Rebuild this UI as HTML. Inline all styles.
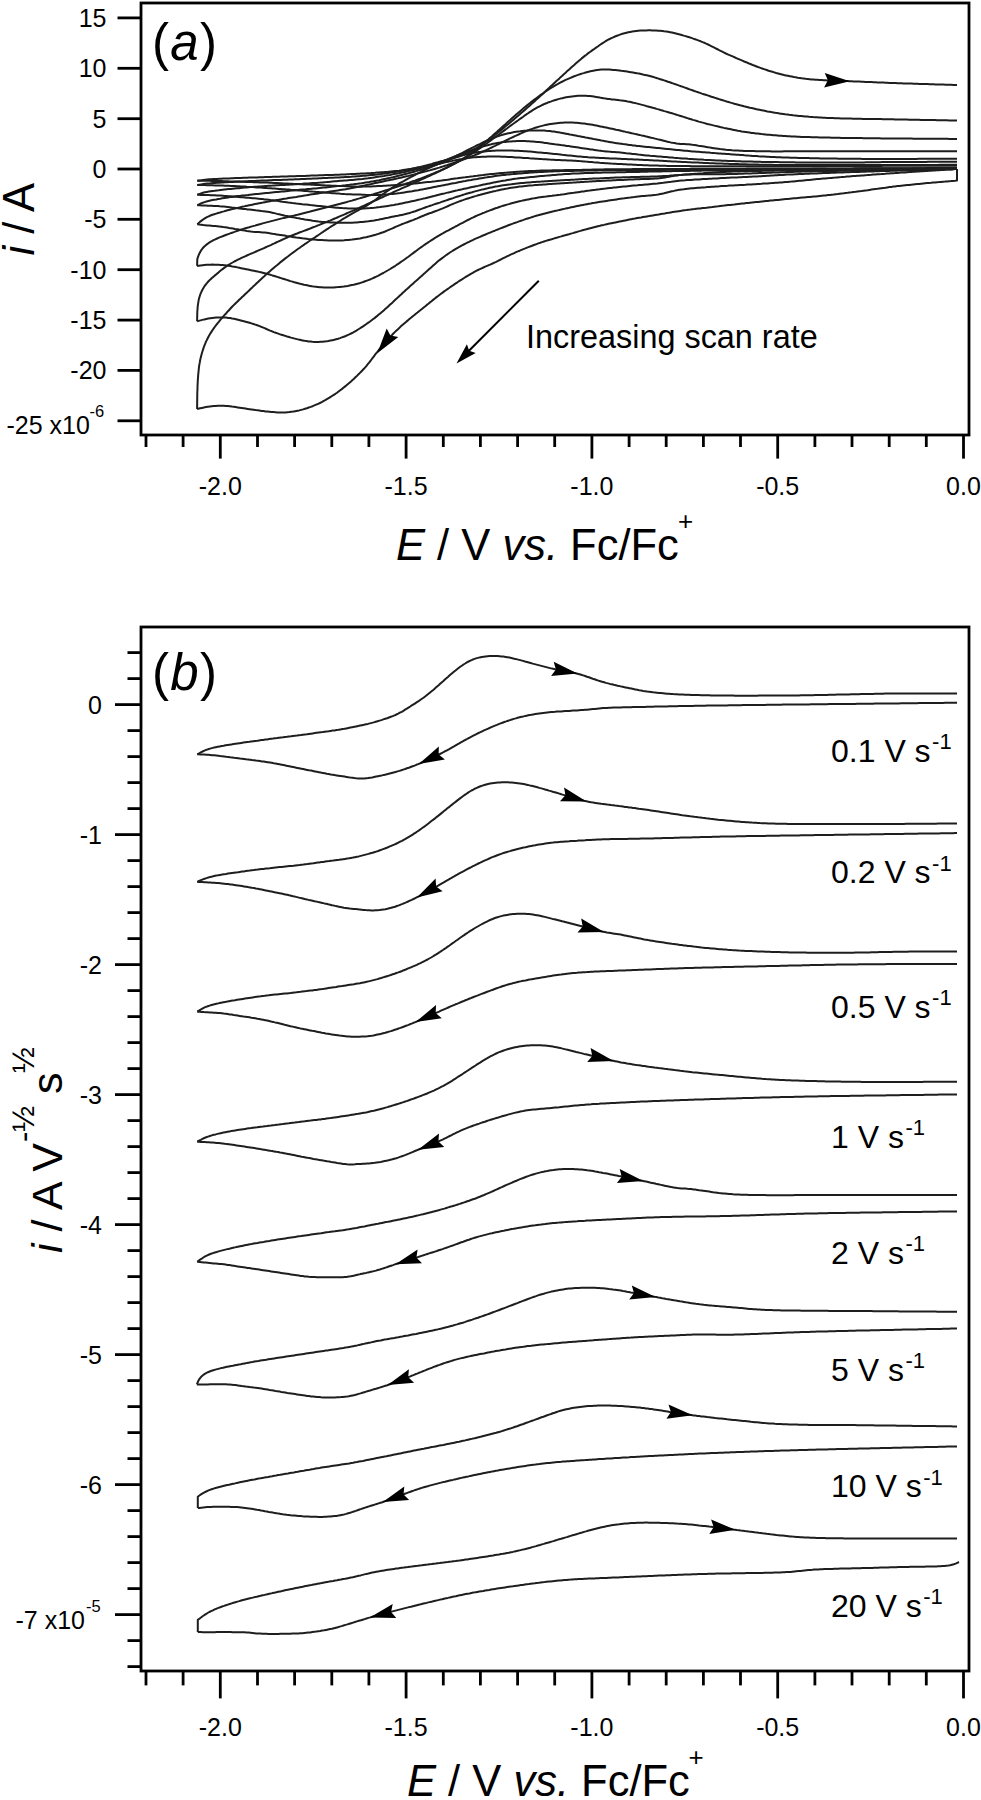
<!DOCTYPE html>
<html><head><meta charset="utf-8"><style>
html,body{margin:0;padding:0;background:#fff;}
svg{display:block;}
text{font-family:"Liberation Sans",sans-serif;fill:#000;}
</style></head><body>
<svg width="981" height="1800" viewBox="0 0 981 1800">
<rect x="141" y="3" width="828" height="432" fill="none" stroke="#000" stroke-width="2.8"/>
<line x1="117.5" y1="17.9" x2="141" y2="17.9" stroke="#000" stroke-width="2.8"/>
<text x="106.5" y="26.9" text-anchor="end" font-size="25">15</text>
<line x1="117.5" y1="68.3" x2="141" y2="68.3" stroke="#000" stroke-width="2.8"/>
<text x="106.5" y="77.3" text-anchor="end" font-size="25">10</text>
<line x1="117.5" y1="118.7" x2="141" y2="118.7" stroke="#000" stroke-width="2.8"/>
<text x="106.5" y="127.7" text-anchor="end" font-size="25">5</text>
<line x1="117.5" y1="169.0" x2="141" y2="169.0" stroke="#000" stroke-width="2.8"/>
<text x="106.5" y="178.0" text-anchor="end" font-size="25">0</text>
<line x1="117.5" y1="219.3" x2="141" y2="219.3" stroke="#000" stroke-width="2.8"/>
<text x="106.5" y="228.3" text-anchor="end" font-size="25">-5</text>
<line x1="117.5" y1="269.7" x2="141" y2="269.7" stroke="#000" stroke-width="2.8"/>
<text x="106.5" y="278.7" text-anchor="end" font-size="25">-10</text>
<line x1="117.5" y1="320.1" x2="141" y2="320.1" stroke="#000" stroke-width="2.8"/>
<text x="106.5" y="329.1" text-anchor="end" font-size="25">-15</text>
<line x1="117.5" y1="370.4" x2="141" y2="370.4" stroke="#000" stroke-width="2.8"/>
<text x="106.5" y="379.4" text-anchor="end" font-size="25">-20</text>
<line x1="117.5" y1="420.8" x2="141" y2="420.8" stroke="#000" stroke-width="2.8"/>
<text x="6.5" y="434" font-size="25">-25 x10</text>
<text x="89.5" y="417" font-size="16.5">-6</text>
<line x1="146.0" y1="435" x2="146.0" y2="447" stroke="#000" stroke-width="2.8"/>
<line x1="183.1" y1="435" x2="183.1" y2="447" stroke="#000" stroke-width="2.8"/>
<line x1="220.3" y1="435" x2="220.3" y2="458.6" stroke="#000" stroke-width="2.8"/>
<line x1="257.5" y1="435" x2="257.5" y2="447" stroke="#000" stroke-width="2.8"/>
<line x1="294.6" y1="435" x2="294.6" y2="447" stroke="#000" stroke-width="2.8"/>
<line x1="331.8" y1="435" x2="331.8" y2="447" stroke="#000" stroke-width="2.8"/>
<line x1="368.9" y1="435" x2="368.9" y2="447" stroke="#000" stroke-width="2.8"/>
<line x1="406.1" y1="435" x2="406.1" y2="458.6" stroke="#000" stroke-width="2.8"/>
<line x1="443.3" y1="435" x2="443.3" y2="447" stroke="#000" stroke-width="2.8"/>
<line x1="480.4" y1="435" x2="480.4" y2="447" stroke="#000" stroke-width="2.8"/>
<line x1="517.6" y1="435" x2="517.6" y2="447" stroke="#000" stroke-width="2.8"/>
<line x1="554.7" y1="435" x2="554.7" y2="447" stroke="#000" stroke-width="2.8"/>
<line x1="591.9" y1="435" x2="591.9" y2="458.6" stroke="#000" stroke-width="2.8"/>
<line x1="629.1" y1="435" x2="629.1" y2="447" stroke="#000" stroke-width="2.8"/>
<line x1="666.2" y1="435" x2="666.2" y2="447" stroke="#000" stroke-width="2.8"/>
<line x1="703.4" y1="435" x2="703.4" y2="447" stroke="#000" stroke-width="2.8"/>
<line x1="740.5" y1="435" x2="740.5" y2="447" stroke="#000" stroke-width="2.8"/>
<line x1="777.7" y1="435" x2="777.7" y2="458.6" stroke="#000" stroke-width="2.8"/>
<line x1="814.9" y1="435" x2="814.9" y2="447" stroke="#000" stroke-width="2.8"/>
<line x1="852.0" y1="435" x2="852.0" y2="447" stroke="#000" stroke-width="2.8"/>
<line x1="889.2" y1="435" x2="889.2" y2="447" stroke="#000" stroke-width="2.8"/>
<line x1="926.3" y1="435" x2="926.3" y2="447" stroke="#000" stroke-width="2.8"/>
<line x1="963.5" y1="435" x2="963.5" y2="458.6" stroke="#000" stroke-width="2.8"/>
<text x="220.3" y="495" text-anchor="middle" font-size="25">-2.0</text>
<text x="406.1" y="495" text-anchor="middle" font-size="25">-1.5</text>
<text x="591.9" y="495" text-anchor="middle" font-size="25">-1.0</text>
<text x="777.7" y="495" text-anchor="middle" font-size="25">-0.5</text>
<text x="963.5" y="495" text-anchor="middle" font-size="25">0.0</text>
<text x="396" y="559.6" font-size="43.5"><tspan font-style="italic">E</tspan> / V <tspan font-style="italic">vs.</tspan> Fc/Fc</text>
<text x="678" y="530" font-size="26">+</text>
<text transform="translate(34,255.5) rotate(-90)" font-size="43.5"><tspan font-style="italic">i</tspan> / A</text>
<text x="152" y="60" font-size="51" letter-spacing="1.3">(<tspan font-style="italic">a</tspan>)</text>
<text x="526" y="347.6" font-size="32.4">Increasing scan rate</text>
<rect x="141" y="627" width="828" height="1044" fill="none" stroke="#000" stroke-width="2.8"/>
<line x1="115" y1="704.6" x2="141" y2="704.6" stroke="#000" stroke-width="2.8"/>
<text x="102" y="713.6" text-anchor="end" font-size="25">0</text>
<line x1="115" y1="834.6" x2="141" y2="834.6" stroke="#000" stroke-width="2.8"/>
<text x="102" y="843.6" text-anchor="end" font-size="25">-1</text>
<line x1="115" y1="964.6" x2="141" y2="964.6" stroke="#000" stroke-width="2.8"/>
<text x="102" y="973.6" text-anchor="end" font-size="25">-2</text>
<line x1="115" y1="1094.6" x2="141" y2="1094.6" stroke="#000" stroke-width="2.8"/>
<text x="102" y="1103.6" text-anchor="end" font-size="25">-3</text>
<line x1="115" y1="1224.6" x2="141" y2="1224.6" stroke="#000" stroke-width="2.8"/>
<text x="102" y="1233.6" text-anchor="end" font-size="25">-4</text>
<line x1="115" y1="1354.6" x2="141" y2="1354.6" stroke="#000" stroke-width="2.8"/>
<text x="102" y="1363.6" text-anchor="end" font-size="25">-5</text>
<line x1="115" y1="1484.6" x2="141" y2="1484.6" stroke="#000" stroke-width="2.8"/>
<text x="102" y="1493.6" text-anchor="end" font-size="25">-6</text>
<line x1="115" y1="1614.6" x2="141" y2="1614.6" stroke="#000" stroke-width="2.8"/>
<line x1="127.5" y1="1666.6" x2="141" y2="1666.6" stroke="#000" stroke-width="2.8"/>
<line x1="127.5" y1="1640.6" x2="141" y2="1640.6" stroke="#000" stroke-width="2.8"/>
<line x1="127.5" y1="1588.6" x2="141" y2="1588.6" stroke="#000" stroke-width="2.8"/>
<line x1="127.5" y1="1562.6" x2="141" y2="1562.6" stroke="#000" stroke-width="2.8"/>
<line x1="127.5" y1="1536.6" x2="141" y2="1536.6" stroke="#000" stroke-width="2.8"/>
<line x1="127.5" y1="1510.6" x2="141" y2="1510.6" stroke="#000" stroke-width="2.8"/>
<line x1="127.5" y1="1458.6" x2="141" y2="1458.6" stroke="#000" stroke-width="2.8"/>
<line x1="127.5" y1="1432.6" x2="141" y2="1432.6" stroke="#000" stroke-width="2.8"/>
<line x1="127.5" y1="1406.6" x2="141" y2="1406.6" stroke="#000" stroke-width="2.8"/>
<line x1="127.5" y1="1380.6" x2="141" y2="1380.6" stroke="#000" stroke-width="2.8"/>
<line x1="127.5" y1="1328.6" x2="141" y2="1328.6" stroke="#000" stroke-width="2.8"/>
<line x1="127.5" y1="1302.6" x2="141" y2="1302.6" stroke="#000" stroke-width="2.8"/>
<line x1="127.5" y1="1276.6" x2="141" y2="1276.6" stroke="#000" stroke-width="2.8"/>
<line x1="127.5" y1="1250.6" x2="141" y2="1250.6" stroke="#000" stroke-width="2.8"/>
<line x1="127.5" y1="1198.6" x2="141" y2="1198.6" stroke="#000" stroke-width="2.8"/>
<line x1="127.5" y1="1172.6" x2="141" y2="1172.6" stroke="#000" stroke-width="2.8"/>
<line x1="127.5" y1="1146.6" x2="141" y2="1146.6" stroke="#000" stroke-width="2.8"/>
<line x1="127.5" y1="1120.6" x2="141" y2="1120.6" stroke="#000" stroke-width="2.8"/>
<line x1="127.5" y1="1068.6" x2="141" y2="1068.6" stroke="#000" stroke-width="2.8"/>
<line x1="127.5" y1="1042.6" x2="141" y2="1042.6" stroke="#000" stroke-width="2.8"/>
<line x1="127.5" y1="1016.6" x2="141" y2="1016.6" stroke="#000" stroke-width="2.8"/>
<line x1="127.5" y1="990.6" x2="141" y2="990.6" stroke="#000" stroke-width="2.8"/>
<line x1="127.5" y1="938.6" x2="141" y2="938.6" stroke="#000" stroke-width="2.8"/>
<line x1="127.5" y1="912.6" x2="141" y2="912.6" stroke="#000" stroke-width="2.8"/>
<line x1="127.5" y1="886.6" x2="141" y2="886.6" stroke="#000" stroke-width="2.8"/>
<line x1="127.5" y1="860.6" x2="141" y2="860.6" stroke="#000" stroke-width="2.8"/>
<line x1="127.5" y1="808.6" x2="141" y2="808.6" stroke="#000" stroke-width="2.8"/>
<line x1="127.5" y1="782.6" x2="141" y2="782.6" stroke="#000" stroke-width="2.8"/>
<line x1="127.5" y1="756.6" x2="141" y2="756.6" stroke="#000" stroke-width="2.8"/>
<line x1="127.5" y1="730.6" x2="141" y2="730.6" stroke="#000" stroke-width="2.8"/>
<line x1="127.5" y1="678.6" x2="141" y2="678.6" stroke="#000" stroke-width="2.8"/>
<line x1="127.5" y1="652.6" x2="141" y2="652.6" stroke="#000" stroke-width="2.8"/>
<text x="15.5" y="1628.5" font-size="25">-7 x10</text>
<text x="86" y="1612" font-size="16.5">-5</text>
<line x1="146.0" y1="1671" x2="146.0" y2="1685.4" stroke="#000" stroke-width="2.8"/>
<line x1="183.1" y1="1671" x2="183.1" y2="1685.4" stroke="#000" stroke-width="2.8"/>
<line x1="220.3" y1="1671" x2="220.3" y2="1698.4" stroke="#000" stroke-width="2.8"/>
<line x1="257.5" y1="1671" x2="257.5" y2="1685.4" stroke="#000" stroke-width="2.8"/>
<line x1="294.6" y1="1671" x2="294.6" y2="1685.4" stroke="#000" stroke-width="2.8"/>
<line x1="331.8" y1="1671" x2="331.8" y2="1685.4" stroke="#000" stroke-width="2.8"/>
<line x1="368.9" y1="1671" x2="368.9" y2="1685.4" stroke="#000" stroke-width="2.8"/>
<line x1="406.1" y1="1671" x2="406.1" y2="1698.4" stroke="#000" stroke-width="2.8"/>
<line x1="443.3" y1="1671" x2="443.3" y2="1685.4" stroke="#000" stroke-width="2.8"/>
<line x1="480.4" y1="1671" x2="480.4" y2="1685.4" stroke="#000" stroke-width="2.8"/>
<line x1="517.6" y1="1671" x2="517.6" y2="1685.4" stroke="#000" stroke-width="2.8"/>
<line x1="554.7" y1="1671" x2="554.7" y2="1685.4" stroke="#000" stroke-width="2.8"/>
<line x1="591.9" y1="1671" x2="591.9" y2="1698.4" stroke="#000" stroke-width="2.8"/>
<line x1="629.1" y1="1671" x2="629.1" y2="1685.4" stroke="#000" stroke-width="2.8"/>
<line x1="666.2" y1="1671" x2="666.2" y2="1685.4" stroke="#000" stroke-width="2.8"/>
<line x1="703.4" y1="1671" x2="703.4" y2="1685.4" stroke="#000" stroke-width="2.8"/>
<line x1="740.5" y1="1671" x2="740.5" y2="1685.4" stroke="#000" stroke-width="2.8"/>
<line x1="777.7" y1="1671" x2="777.7" y2="1698.4" stroke="#000" stroke-width="2.8"/>
<line x1="814.9" y1="1671" x2="814.9" y2="1685.4" stroke="#000" stroke-width="2.8"/>
<line x1="852.0" y1="1671" x2="852.0" y2="1685.4" stroke="#000" stroke-width="2.8"/>
<line x1="889.2" y1="1671" x2="889.2" y2="1685.4" stroke="#000" stroke-width="2.8"/>
<line x1="926.3" y1="1671" x2="926.3" y2="1685.4" stroke="#000" stroke-width="2.8"/>
<line x1="963.5" y1="1671" x2="963.5" y2="1698.4" stroke="#000" stroke-width="2.8"/>
<text x="220.3" y="1735.5" text-anchor="middle" font-size="25">-2.0</text>
<text x="406.1" y="1735.5" text-anchor="middle" font-size="25">-1.5</text>
<text x="591.9" y="1735.5" text-anchor="middle" font-size="25">-1.0</text>
<text x="777.7" y="1735.5" text-anchor="middle" font-size="25">-0.5</text>
<text x="963.5" y="1735.5" text-anchor="middle" font-size="25">0.0</text>
<text x="407" y="1796" font-size="43.5"><tspan font-style="italic">E</tspan> / V <tspan font-style="italic">vs.</tspan> Fc/Fc</text>
<text x="688.5" y="1766" font-size="26">+</text>
<text transform="translate(62,1253) rotate(-90)" font-size="43"><tspan font-style="italic">i</tspan> / A V<tspan font-size="31" dx="1" dy="-28.2">-&#189;</tspan><tspan dy="28.2"> s</tspan><tspan font-size="31" dx="-0.5" dy="-28.2">&#189;</tspan></text>
<text x="152" y="690" font-size="51" letter-spacing="1.3">(<tspan font-style="italic">b</tspan>)</text>
<path d="M197.3,754.3 199.1,753.4 200.8,752.4 202.6,751.5 204.4,750.7 206.2,749.9 208.1,749.3 210.0,748.6 211.9,748.1 213.8,747.6 215.8,747.2 217.7,746.8 219.7,746.4 221.7,746.0 223.6,745.7 225.6,745.3 227.6,745.0 229.5,744.7 231.5,744.4 233.5,744.1 235.5,743.8 237.5,743.5 239.4,743.2 241.4,742.9 243.4,742.6 245.4,742.3 247.3,742.0 249.3,741.8 251.3,741.5 253.3,741.2 255.3,740.9 257.3,740.7 259.2,740.4 261.2,740.1 263.2,739.9 265.2,739.6 267.2,739.4 269.2,739.1 271.1,738.8 273.1,738.6 275.1,738.3 277.1,738.1 279.1,737.8 281.1,737.5 283.0,737.3 285.0,737.0 287.0,736.8 289.0,736.5 291.0,736.3 293.0,736.0 294.9,735.8 296.9,735.6 298.9,735.3 300.9,735.1 302.9,734.8 304.9,734.5 306.9,734.3 308.8,734.0 310.8,733.7 312.8,733.4 314.8,733.1 316.7,732.8 318.7,732.5 320.7,732.2 322.7,732.0 324.7,731.7 326.6,731.4 328.6,731.2 330.6,730.9 332.6,730.6 334.6,730.4 336.6,730.1 338.5,729.8 340.5,729.4 342.5,729.1 344.5,728.8 346.4,728.4 348.4,728.0 350.3,727.6 352.3,727.2 354.3,726.8 356.2,726.4 358.2,726.0 360.1,725.6 362.1,725.2 364.0,724.8 366.0,724.3 367.9,723.9 369.9,723.4 371.8,722.9 373.7,722.4 375.7,721.8 377.6,721.2 379.5,720.6 381.4,720.1 383.3,719.4 385.2,718.8 387.1,718.2 389.0,717.5 390.9,716.8 392.7,716.1 394.6,715.3 396.4,714.5 398.2,713.7 399.9,712.7 401.7,711.8 403.4,710.8 405.1,709.7 406.8,708.7 408.5,707.6 410.2,706.5 411.8,705.4 413.5,704.4 415.2,703.3 416.9,702.2 418.6,701.1 420.2,700.0 421.9,698.8 423.5,697.7 425.1,696.5 426.7,695.2 428.2,694.0 429.8,692.7 431.3,691.5 432.9,690.2 434.4,688.9 435.9,687.6 437.4,686.3 438.9,685.0 440.4,683.6 441.9,682.3 443.4,681.0 444.9,679.6 446.4,678.3 447.9,677.0 449.4,675.6 450.9,674.3 452.4,673.0 453.9,671.7 455.5,670.5 457.0,669.2 458.6,668.0 460.2,666.8 461.8,665.7 463.5,664.5 465.2,663.5 466.9,662.4 468.6,661.5 470.4,660.6 472.2,659.8 474.0,659.1 475.9,658.4 477.8,657.9 479.7,657.4 481.7,657.0 483.7,656.7 485.6,656.4 487.6,656.2 489.6,656.1 491.6,656.0 493.6,656.0 495.6,656.0 497.6,656.1 499.6,656.2 501.5,656.4 503.5,656.6 505.5,656.9 507.5,657.2 509.4,657.6 511.4,658.0 513.3,658.5 515.3,658.9 517.2,659.4 519.2,659.9 521.1,660.4 523.0,660.9 525.0,661.5 526.9,662.0 528.8,662.5 530.7,663.0 532.7,663.6 534.6,664.1 536.5,664.6 538.5,665.1 540.4,665.6 542.3,666.1 544.3,666.6 546.2,667.1 548.1,667.6 550.1,668.1 552.0,668.6 554.0,669.0 555.9,669.4 557.9,669.8 559.9,670.2 561.8,670.5 563.8,670.9 565.8,671.2 567.7,671.6 569.7,671.9 571.7,672.3 573.6,672.8 575.6,673.2 577.5,673.7 579.4,674.2 581.3,674.8 583.2,675.4 585.1,676.0 587.0,676.7 588.9,677.3 590.8,678.0 592.7,678.7 594.6,679.3 596.5,680.0 598.4,680.6 600.3,681.2 602.2,681.8 604.1,682.3 606.0,682.9 608.0,683.4 609.9,683.9 611.9,684.3 613.8,684.8 615.7,685.2 617.7,685.7 619.6,686.1 621.6,686.6 623.6,687.0 625.5,687.4 627.5,687.8 629.4,688.2 631.4,688.6 633.3,689.0 635.3,689.4 637.3,689.8 639.2,690.2 641.2,690.5 643.2,690.9 645.2,691.2 647.1,691.5 649.1,691.7 651.1,692.0 653.1,692.3 655.1,692.5 657.0,692.7 659.0,692.9 661.0,693.1 663.0,693.3 665.0,693.5 667.0,693.7 669.0,693.8 671.0,693.9 673.0,694.1 675.0,694.2 677.0,694.3 679.0,694.4 681.0,694.5 683.0,694.6 685.0,694.7 687.0,694.7 689.0,694.8 691.0,694.9 693.0,694.9 695.0,695.0 697.0,695.1 699.0,695.1 701.0,695.2 703.0,695.2 705.0,695.2 707.0,695.3 709.0,695.3 711.0,695.4 713.0,695.4 715.0,695.4 717.0,695.5 719.0,695.5 721.0,695.5 723.0,695.5 725.0,695.6 727.0,695.6 729.0,695.6 731.0,695.6 733.0,695.6 735.0,695.7 737.0,695.7 739.0,695.7 741.0,695.7 743.0,695.7 745.0,695.7 747.0,695.7 749.0,695.7 751.0,695.7 753.0,695.7 755.0,695.7 757.0,695.7 759.0,695.6 761.0,695.6 763.0,695.6 765.0,695.6 767.0,695.6 769.0,695.6 771.0,695.6 773.0,695.6 775.0,695.6 777.0,695.6 779.0,695.5 781.0,695.5 783.0,695.5 785.0,695.5 787.0,695.5 789.0,695.5 791.0,695.4 793.0,695.4 795.0,695.4 797.0,695.4 799.0,695.4 801.0,695.3 803.0,695.3 805.0,695.3 807.0,695.2 809.0,695.2 811.0,695.2 813.0,695.2 815.0,695.1 817.0,695.1 819.0,695.0 821.0,695.0 823.0,695.0 825.0,694.9 827.0,694.9 829.0,694.8 831.0,694.8 833.0,694.7 835.0,694.7 837.0,694.6 839.0,694.6 841.0,694.6 843.0,694.5 845.0,694.5 847.0,694.4 849.0,694.4 851.0,694.3 853.0,694.3 855.0,694.2 857.0,694.2 859.0,694.2 861.0,694.1 863.0,694.1 865.0,694.0 867.0,694.0 869.0,693.9 871.0,693.9 873.0,693.9 875.0,693.8 877.0,693.8 879.0,693.7 881.0,693.7 883.0,693.7 885.0,693.6 887.0,693.6 889.0,693.6 891.0,693.5 893.0,693.5 895.0,693.5 897.0,693.5 899.0,693.5 901.0,693.5 903.0,693.5 905.0,693.4 907.0,693.4 909.0,693.4 911.0,693.4 913.0,693.4 915.0,693.4 917.0,693.4 919.0,693.4 921.0,693.4 923.0,693.4 925.0,693.4 927.0,693.4 929.0,693.4 931.0,693.4 933.0,693.5 935.0,693.5 937.0,693.5 939.0,693.5 941.0,693.5 943.0,693.5 945.0,693.5 947.0,693.5 949.0,693.5 951.0,693.5 953.0,693.5 955.0,693.5 957.0,693.5" fill="none" stroke="#1e1e1e" stroke-width="2.0" stroke-linejoin="round"/>
<path d="M957.0,702.7 955.0,702.7 953.0,702.7 951.0,702.8 949.0,702.8 947.0,702.8 945.0,702.8 943.0,702.9 941.0,702.9 939.0,702.9 937.0,702.9 935.0,703.0 933.0,703.0 931.0,703.0 929.0,703.0 927.0,703.0 925.0,703.1 923.0,703.1 921.0,703.1 919.0,703.1 917.0,703.2 915.0,703.2 913.0,703.2 911.0,703.2 909.0,703.3 907.0,703.3 905.0,703.3 903.0,703.3 901.0,703.3 899.0,703.4 897.0,703.4 895.0,703.4 893.0,703.4 891.0,703.5 889.0,703.5 887.0,703.5 885.0,703.5 883.0,703.6 881.0,703.6 879.0,703.6 877.0,703.6 875.0,703.6 873.0,703.7 871.0,703.7 869.0,703.7 867.0,703.7 865.0,703.8 863.0,703.8 861.0,703.8 859.0,703.8 857.0,703.8 855.0,703.9 853.0,703.9 851.0,703.9 849.0,703.9 847.0,704.0 845.0,704.0 843.0,704.0 841.0,704.0 839.0,704.0 837.0,704.1 835.0,704.1 833.0,704.1 831.0,704.1 829.0,704.1 827.0,704.2 825.0,704.2 823.0,704.2 821.0,704.2 819.0,704.3 817.0,704.3 815.0,704.3 813.0,704.3 811.0,704.3 809.0,704.4 807.0,704.4 805.0,704.4 803.0,704.4 801.0,704.4 799.0,704.5 797.0,704.5 795.0,704.5 793.0,704.5 791.0,704.5 789.0,704.6 787.0,704.6 785.0,704.6 783.0,704.6 781.0,704.7 779.0,704.7 777.0,704.7 775.0,704.7 773.0,704.8 771.0,704.8 769.0,704.8 767.0,704.8 765.0,704.9 763.0,704.9 761.0,704.9 759.0,704.9 757.0,705.0 755.0,705.0 753.0,705.0 751.0,705.0 749.0,705.1 747.0,705.1 745.0,705.1 743.0,705.1 741.0,705.2 739.0,705.2 737.0,705.2 735.0,705.2 733.0,705.3 731.0,705.3 729.0,705.3 727.0,705.4 725.0,705.4 723.0,705.4 721.0,705.4 719.0,705.5 717.0,705.5 715.0,705.5 713.0,705.6 711.0,705.6 709.0,705.6 707.0,705.6 705.0,705.7 703.0,705.7 701.0,705.7 699.0,705.8 697.0,705.8 695.0,705.8 693.0,705.9 691.0,705.9 689.0,705.9 687.0,706.0 685.0,706.0 683.0,706.0 681.0,706.1 679.0,706.1 677.0,706.2 675.0,706.2 673.0,706.2 671.0,706.3 669.0,706.3 667.0,706.4 665.0,706.4 663.0,706.4 661.0,706.5 659.0,706.5 657.0,706.6 655.0,706.6 653.0,706.7 651.0,706.7 649.0,706.8 647.0,706.8 645.0,706.9 643.0,706.9 641.0,707.0 639.0,707.0 637.0,707.0 635.0,707.1 633.0,707.1 631.0,707.2 629.0,707.2 627.0,707.2 625.0,707.3 623.0,707.3 621.0,707.4 619.0,707.4 617.0,707.5 615.0,707.5 613.0,707.6 611.0,707.7 609.0,707.8 607.0,707.9 605.0,708.0 603.0,708.1 601.0,708.3 599.0,708.5 597.0,708.7 595.0,708.9 593.0,709.1 591.0,709.3 589.1,709.5 587.1,709.7 585.1,709.8 583.1,710.0 581.1,710.1 579.1,710.2 577.1,710.4 575.1,710.5 573.1,710.6 571.1,710.7 569.1,710.9 567.1,711.0 565.1,711.1 563.1,711.2 561.1,711.4 559.1,711.5 557.1,711.6 555.1,711.8 553.1,711.9 551.1,712.1 549.2,712.3 547.2,712.5 545.2,712.7 543.2,712.9 541.2,713.2 539.2,713.5 537.3,713.8 535.3,714.1 533.3,714.4 531.3,714.8 529.4,715.1 527.4,715.5 525.5,715.9 523.5,716.4 521.6,716.8 519.6,717.3 517.7,717.8 515.8,718.4 513.8,718.9 511.9,719.5 510.0,720.1 508.1,720.7 506.2,721.4 504.3,722.0 502.5,722.7 500.6,723.4 498.7,724.1 496.9,724.9 495.0,725.6 493.2,726.4 491.3,727.2 489.5,728.0 487.7,728.8 485.8,729.6 484.0,730.4 482.2,731.3 480.4,732.2 478.6,733.0 476.8,733.9 475.0,734.8 473.3,735.7 471.5,736.7 469.7,737.6 467.9,738.5 466.2,739.5 464.4,740.4 462.7,741.4 460.9,742.3 459.2,743.3 457.4,744.3 455.7,745.3 454.0,746.3 452.2,747.3 450.5,748.3 448.8,749.3 447.0,750.3 445.3,751.2 443.5,752.2 441.7,753.1 439.9,754.0 438.2,754.9 436.4,755.8 434.6,756.7 432.8,757.6 431.0,758.4 429.2,759.3 427.3,760.1 425.5,760.9 423.7,761.7 421.9,762.5 420.0,763.3 418.2,764.1 416.3,764.8 414.5,765.6 412.6,766.3 410.7,767.0 408.8,767.7 407.0,768.3 405.1,769.0 403.2,769.6 401.3,770.3 399.4,770.9 397.5,771.4 395.5,772.0 393.6,772.5 391.7,773.0 389.7,773.5 387.8,774.0 385.8,774.5 383.9,774.9 381.9,775.4 380.0,775.8 378.0,776.2 376.1,776.6 374.1,777.0 372.2,777.4 370.2,777.7 368.2,778.0 366.2,778.2 364.3,778.4 362.3,778.5 360.3,778.5 358.3,778.4 356.3,778.3 354.3,778.1 352.4,777.8 350.4,777.6 348.4,777.3 346.5,776.9 344.5,776.6 342.5,776.3 340.5,776.0 338.6,775.7 336.6,775.4 334.6,775.1 332.6,774.7 330.7,774.4 328.7,774.0 326.7,773.7 324.8,773.3 322.8,772.9 320.8,772.6 318.9,772.2 316.9,771.8 314.9,771.4 313.0,771.0 311.0,770.6 309.0,770.3 307.1,769.9 305.1,769.5 303.2,769.1 301.2,768.7 299.2,768.3 297.3,767.9 295.3,767.5 293.4,767.1 291.4,766.7 289.4,766.3 287.5,765.9 285.5,765.5 283.6,765.1 281.6,764.7 279.6,764.3 277.7,763.9 275.7,763.5 273.7,763.2 271.8,762.8 269.8,762.5 267.8,762.2 265.9,761.9 263.9,761.6 261.9,761.4 259.9,761.1 257.9,760.8 255.9,760.6 254.0,760.3 252.0,760.1 250.0,759.8 248.0,759.5 246.0,759.3 244.0,759.0 242.1,758.7 240.1,758.5 238.1,758.2 236.1,757.9 234.1,757.7 232.1,757.4 230.2,757.2 228.2,756.9 226.2,756.7 224.2,756.4 222.2,756.2 220.2,756.0 218.2,755.7 216.3,755.5 214.3,755.3 212.3,755.2 210.3,755.0 208.3,754.8 206.3,754.7 204.3,754.6 202.3,754.5 200.3,754.4 198.3,754.3 197.3,754.3" fill="none" stroke="#1e1e1e" stroke-width="2.0" stroke-linejoin="round"/>
<path d="M577.5,673.5L551.1,675.9L555.9,669.5L553.7,661.8Z" fill="#000"/>
<path d="M418.8,763.9L438.8,746.5L438.7,754.5L444.9,759.5Z" fill="#000"/>
<path d="M197.3,881.8 199.1,881.0 200.9,880.2 202.8,879.4 204.6,878.7 206.5,878.1 208.4,877.5 210.3,876.9 212.3,876.5 214.2,876.0 216.2,875.6 218.1,875.3 220.1,874.9 222.1,874.6 224.1,874.3 226.0,874.0 228.0,873.6 230.0,873.3 232.0,873.0 233.9,872.7 235.9,872.4 237.9,872.2 239.9,871.9 241.9,871.6 243.8,871.4 245.8,871.1 247.8,870.8 249.8,870.6 251.8,870.3 253.8,870.1 255.7,869.8 257.7,869.6 259.7,869.3 261.7,869.1 263.7,868.9 265.7,868.6 267.7,868.4 269.6,868.2 271.6,867.9 273.6,867.7 275.6,867.5 277.6,867.3 279.6,867.1 281.6,866.9 283.6,866.7 285.6,866.5 287.6,866.3 289.5,866.1 291.5,865.9 293.5,865.7 295.5,865.4 297.5,865.2 299.5,865.0 301.5,864.7 303.4,864.5 305.4,864.2 307.4,864.0 309.4,863.7 311.4,863.4 313.4,863.2 315.3,862.9 317.3,862.6 319.3,862.4 321.3,862.1 323.3,861.9 325.3,861.6 327.2,861.3 329.2,861.1 331.2,860.8 333.2,860.6 335.2,860.3 337.2,860.0 339.1,859.8 341.1,859.5 343.1,859.2 345.1,858.9 347.1,858.6 349.0,858.3 351.0,857.9 353.0,857.6 354.9,857.2 356.9,856.8 358.8,856.4 360.8,855.9 362.7,855.4 364.7,854.9 366.6,854.4 368.5,853.9 370.4,853.3 372.4,852.8 374.3,852.2 376.2,851.6 378.1,851.0 380.0,850.3 381.8,849.6 383.7,848.9 385.6,848.2 387.4,847.5 389.3,846.7 391.1,845.9 393.0,845.1 394.8,844.3 396.6,843.5 398.4,842.6 400.2,841.7 402.0,840.8 403.7,839.9 405.5,838.9 407.2,837.9 408.9,836.9 410.6,835.9 412.3,834.8 414.0,833.7 415.7,832.6 417.3,831.5 419.0,830.4 420.6,829.2 422.2,828.0 423.9,826.9 425.5,825.7 427.1,824.5 428.7,823.3 430.2,822.0 431.8,820.8 433.4,819.6 435.0,818.4 436.5,817.1 438.1,815.9 439.7,814.6 441.2,813.4 442.8,812.1 444.3,810.8 445.9,809.6 447.4,808.3 449.0,807.1 450.6,805.8 452.1,804.6 453.7,803.3 455.3,802.1 456.8,800.9 458.4,799.6 460.0,798.4 461.6,797.2 463.2,796.0 464.8,794.9 466.5,793.7 468.1,792.6 469.8,791.5 471.5,790.5 473.3,789.6 475.0,788.6 476.8,787.8 478.7,787.0 480.5,786.3 482.4,785.6 484.3,785.0 486.2,784.5 488.1,784.0 490.1,783.6 492.0,783.2 494.0,782.9 496.0,782.7 498.0,782.5 500.0,782.4 502.0,782.3 504.0,782.2 505.9,782.3 507.9,782.3 509.9,782.4 511.9,782.5 513.9,782.7 515.9,782.9 517.9,783.2 519.9,783.5 521.8,783.8 523.8,784.1 525.8,784.5 527.7,784.9 529.7,785.4 531.6,785.8 533.5,786.3 535.5,786.8 537.4,787.3 539.3,787.9 541.3,788.4 543.2,788.9 545.1,789.5 547.1,790.0 549.0,790.6 550.9,791.1 552.8,791.7 554.7,792.2 556.7,792.8 558.6,793.4 560.5,794.0 562.4,794.6 564.3,795.1 566.2,795.7 568.1,796.3 570.0,796.9 572.0,797.5 573.9,798.0 575.8,798.6 577.7,799.1 579.7,799.7 581.6,800.2 583.5,800.6 585.5,801.1 587.4,801.5 589.4,801.9 591.3,802.3 593.3,802.6 595.3,802.9 597.3,803.2 599.2,803.5 601.2,803.8 603.2,804.0 605.2,804.3 607.2,804.6 609.2,804.8 611.1,805.1 613.1,805.3 615.1,805.6 617.1,805.8 619.1,806.1 621.1,806.3 623.0,806.6 625.0,806.9 627.0,807.1 629.0,807.4 631.0,807.6 633.0,807.9 634.9,808.1 636.9,808.4 638.9,808.7 640.9,808.9 642.9,809.2 644.9,809.5 646.8,809.8 648.8,810.1 650.8,810.4 652.8,810.7 654.7,811.0 656.7,811.3 658.7,811.6 660.7,811.9 662.7,812.2 664.6,812.5 666.6,812.8 668.6,813.1 670.6,813.4 672.5,813.7 674.5,814.0 676.5,814.3 678.5,814.6 680.5,814.9 682.4,815.2 684.4,815.4 686.4,815.7 688.4,816.0 690.4,816.3 692.3,816.5 694.3,816.8 696.3,817.0 698.3,817.3 700.3,817.5 702.3,817.8 704.2,818.0 706.2,818.3 708.2,818.5 710.2,818.8 712.2,819.0 714.2,819.2 716.2,819.4 718.1,819.7 720.1,819.9 722.1,820.1 724.1,820.3 726.1,820.5 728.1,820.7 730.1,820.8 732.1,821.0 734.1,821.2 736.1,821.4 738.1,821.5 740.1,821.7 742.0,821.9 744.0,822.0 746.0,822.2 748.0,822.3 750.0,822.4 752.0,822.6 754.0,822.7 756.0,822.8 758.0,822.9 760.0,823.1 762.0,823.2 764.0,823.3 766.0,823.3 768.0,823.4 770.0,823.5 772.0,823.6 774.0,823.6 776.0,823.7 778.0,823.7 780.0,823.8 782.0,823.8 784.0,823.8 786.0,823.8 788.0,823.9 790.0,823.9 792.0,823.9 794.0,823.9 796.0,823.9 798.0,823.9 800.0,823.9 802.0,823.9 804.0,823.9 806.0,823.9 808.0,823.9 810.0,823.9 812.0,823.9 814.0,823.9 816.0,823.9 818.0,823.9 820.0,823.9 822.0,823.9 824.0,823.9 826.0,823.9 828.0,824.0 830.0,824.0 832.0,824.0 834.0,824.0 836.0,824.0 838.0,824.0 840.0,824.0 842.0,824.0 844.0,824.0 846.0,824.0 848.0,824.0 850.0,824.0 852.0,824.0 854.0,824.0 856.0,824.0 858.0,824.0 860.0,824.0 862.0,824.0 864.0,824.0 866.0,824.0 868.0,824.0 870.0,824.0 872.0,824.0 874.0,823.9 876.0,823.9 878.0,823.9 880.0,823.9 882.0,823.9 884.0,823.9 886.0,823.9 888.0,823.9 890.0,823.9 892.0,823.9 894.0,823.9 896.0,823.9 898.0,823.9 900.0,823.9 902.0,823.9 904.0,823.9 906.0,823.8 908.0,823.8 910.0,823.8 912.0,823.8 914.0,823.8 916.0,823.8 918.0,823.8 920.0,823.8 922.0,823.8 924.0,823.7 926.0,823.7 928.0,823.7 930.0,823.7 932.0,823.7 934.0,823.7 936.0,823.7 938.0,823.6 940.0,823.6 942.0,823.6 944.0,823.6 946.0,823.6 948.0,823.6 950.0,823.5 952.0,823.5 954.0,823.5 956.0,823.5 957.0,823.5" fill="none" stroke="#1e1e1e" stroke-width="2.0" stroke-linejoin="round"/>
<path d="M957.0,833.1 955.0,833.1 953.0,833.2 951.0,833.2 949.0,833.2 947.0,833.2 945.0,833.3 943.0,833.3 941.0,833.3 939.0,833.4 937.0,833.4 935.0,833.4 933.0,833.4 931.0,833.5 929.0,833.5 927.0,833.5 925.0,833.6 923.0,833.6 921.0,833.6 919.0,833.6 917.0,833.7 915.0,833.7 913.0,833.7 911.0,833.8 909.0,833.8 907.0,833.8 905.0,833.8 903.0,833.9 901.0,833.9 899.0,833.9 897.0,834.0 895.0,834.0 893.0,834.0 891.0,834.0 889.0,834.1 887.0,834.1 885.0,834.1 883.0,834.2 881.0,834.2 879.0,834.2 877.0,834.2 875.0,834.3 873.0,834.3 871.0,834.3 869.0,834.4 867.0,834.4 865.0,834.4 863.0,834.4 861.0,834.5 859.0,834.5 857.0,834.5 855.0,834.6 853.0,834.6 851.0,834.6 849.0,834.6 847.0,834.7 845.0,834.7 843.0,834.7 841.0,834.8 839.0,834.8 837.0,834.8 835.0,834.8 833.0,834.9 831.0,834.9 829.0,834.9 827.0,835.0 825.0,835.0 823.0,835.0 821.0,835.0 819.0,835.1 817.0,835.1 815.0,835.1 813.0,835.2 811.0,835.2 809.0,835.2 807.0,835.3 805.0,835.3 803.0,835.3 801.0,835.3 799.0,835.4 797.0,835.4 795.0,835.4 793.0,835.5 791.0,835.5 789.0,835.5 787.0,835.5 785.0,835.6 783.0,835.6 781.0,835.6 779.0,835.7 777.0,835.7 775.0,835.7 773.0,835.7 771.0,835.8 769.0,835.8 767.0,835.8 765.0,835.9 763.0,835.9 761.0,835.9 759.0,835.9 757.0,836.0 755.0,836.0 753.0,836.0 751.0,836.1 749.0,836.1 747.0,836.1 745.0,836.2 743.0,836.2 741.0,836.2 739.0,836.3 737.0,836.3 735.0,836.4 733.0,836.4 731.0,836.4 729.0,836.5 727.0,836.5 725.0,836.6 723.0,836.6 721.0,836.6 719.0,836.7 717.0,836.7 715.0,836.8 713.0,836.8 711.0,836.9 709.0,836.9 707.0,837.0 705.0,837.0 703.0,837.1 701.0,837.1 699.0,837.2 697.0,837.2 695.0,837.3 693.0,837.3 691.0,837.4 689.0,837.4 687.0,837.5 685.0,837.5 683.0,837.6 681.0,837.6 679.0,837.7 677.0,837.8 675.0,837.8 673.0,837.9 671.0,837.9 669.0,838.0 667.0,838.0 665.0,838.1 663.0,838.1 661.0,838.2 659.0,838.2 657.0,838.3 655.0,838.3 653.0,838.4 651.0,838.4 649.0,838.5 647.0,838.5 645.0,838.6 643.0,838.6 641.0,838.6 639.0,838.7 637.0,838.7 635.0,838.8 633.0,838.8 631.0,838.8 629.0,838.8 627.0,838.9 625.0,838.9 623.0,838.9 621.0,839.0 619.0,839.0 617.0,839.0 615.0,839.0 613.0,839.1 611.0,839.1 609.0,839.2 607.0,839.2 605.0,839.3 603.0,839.3 601.0,839.4 599.0,839.5 597.0,839.6 595.0,839.7 593.0,839.8 591.0,839.9 589.0,840.0 587.0,840.1 585.0,840.3 583.0,840.4 581.0,840.5 579.0,840.6 577.0,840.8 575.0,840.9 573.0,841.0 571.0,841.1 569.1,841.3 567.1,841.4 565.1,841.5 563.1,841.7 561.1,841.8 559.1,842.0 557.1,842.2 555.1,842.3 553.1,842.6 551.1,842.8 549.1,843.0 547.2,843.3 545.2,843.6 543.2,843.9 541.2,844.2 539.2,844.5 537.3,844.8 535.3,845.2 533.3,845.5 531.4,845.9 529.4,846.3 527.5,846.7 525.5,847.2 523.6,847.6 521.6,848.0 519.7,848.5 517.7,849.0 515.8,849.5 513.8,850.0 511.9,850.5 510.0,851.1 508.1,851.6 506.2,852.2 504.3,852.8 502.4,853.4 500.5,854.1 498.6,854.8 496.7,855.5 494.9,856.2 493.0,856.9 491.1,857.7 489.3,858.5 487.5,859.3 485.7,860.1 483.8,860.9 482.0,861.8 480.2,862.7 478.4,863.5 476.6,864.4 474.8,865.3 473.0,866.2 471.3,867.1 469.5,868.0 467.7,868.9 465.9,869.9 464.2,870.8 462.4,871.8 460.7,872.7 458.9,873.7 457.2,874.7 455.4,875.7 453.7,876.7 452.0,877.6 450.2,878.6 448.5,879.6 446.7,880.6 445.0,881.6 443.3,882.6 441.5,883.6 439.8,884.6 438.1,885.6 436.3,886.6 434.6,887.6 432.9,888.6 431.1,889.6 429.4,890.6 427.7,891.6 425.9,892.5 424.2,893.5 422.4,894.5 420.6,895.4 418.9,896.3 417.1,897.2 415.3,898.1 413.5,899.0 411.7,899.9 409.9,900.7 408.1,901.5 406.2,902.4 404.4,903.1 402.6,903.9 400.7,904.6 398.8,905.4 396.9,906.0 395.1,906.7 393.1,907.2 391.2,907.8 389.3,908.3 387.4,908.8 385.4,909.2 383.4,909.5 381.5,909.8 379.5,910.1 377.5,910.2 375.5,910.3 373.5,910.4 371.5,910.4 369.5,910.3 367.6,910.2 365.6,910.1 363.6,909.9 361.6,909.7 359.6,909.5 357.6,909.3 355.6,909.1 353.6,909.0 351.7,908.8 349.7,908.6 347.7,908.3 345.7,908.0 343.8,907.7 341.8,907.3 339.9,906.9 337.9,906.5 335.9,906.1 334.0,905.6 332.0,905.2 330.1,904.7 328.2,904.3 326.2,903.8 324.3,903.4 322.3,902.9 320.4,902.5 318.4,902.1 316.5,901.6 314.5,901.2 312.5,900.7 310.6,900.3 308.6,899.9 306.7,899.4 304.7,899.0 302.8,898.5 300.9,898.1 298.9,897.6 297.0,897.1 295.0,896.6 293.1,896.2 291.1,895.7 289.2,895.3 287.2,894.8 285.3,894.4 283.3,894.0 281.4,893.6 279.4,893.2 277.4,892.8 275.5,892.4 273.5,892.0 271.6,891.6 269.6,891.2 267.6,890.8 265.7,890.4 263.7,890.0 261.8,889.6 259.8,889.2 257.8,888.8 255.9,888.5 253.9,888.1 251.9,887.8 250.0,887.4 248.0,887.1 246.0,886.7 244.0,886.4 242.1,886.1 240.1,885.8 238.1,885.5 236.1,885.2 234.2,884.9 232.2,884.6 230.2,884.4 228.2,884.1 226.2,883.9 224.2,883.7 222.2,883.5 220.3,883.3 218.3,883.1 216.3,882.9 214.3,882.8 212.3,882.7 210.3,882.5 208.3,882.4 206.3,882.3 204.3,882.2 202.3,882.1 200.3,882.0 198.3,881.9 197.3,881.8" fill="none" stroke="#1e1e1e" stroke-width="2.0" stroke-linejoin="round"/>
<path d="M586.5,801.5L560.0,801.2L565.4,795.3L564.1,787.4Z" fill="#000"/>
<path d="M416.9,897.4L435.6,878.6L436.1,886.6L442.6,891.2Z" fill="#000"/>
<path d="M197.3,1011.7 199.0,1010.6 200.6,1009.6 202.4,1008.6 204.1,1007.7 205.9,1006.9 207.8,1006.2 209.6,1005.6 211.5,1005.0 213.5,1004.5 215.4,1004.0 217.4,1003.6 219.3,1003.1 221.3,1002.7 223.2,1002.3 225.2,1001.9 227.2,1001.6 229.1,1001.2 231.1,1000.8 233.1,1000.5 235.0,1000.2 237.0,999.8 239.0,999.5 240.9,999.2 242.9,998.9 244.9,998.6 246.9,998.3 248.9,998.0 250.8,997.7 252.8,997.4 254.8,997.1 256.8,996.8 258.8,996.5 260.7,996.3 262.7,996.0 264.7,995.8 266.7,995.5 268.7,995.3 270.7,995.0 272.7,994.8 274.6,994.6 276.6,994.4 278.6,994.2 280.6,994.0 282.6,993.8 284.6,993.6 286.6,993.4 288.6,993.2 290.6,993.0 292.5,992.7 294.5,992.5 296.5,992.3 298.5,992.0 300.5,991.8 302.5,991.5 304.5,991.3 306.5,991.1 308.4,990.8 310.4,990.6 312.4,990.4 314.4,990.1 316.4,989.9 318.4,989.6 320.3,989.3 322.3,989.1 324.3,988.8 326.3,988.4 328.3,988.1 330.2,987.8 332.2,987.5 334.2,987.2 336.2,986.9 338.1,986.5 340.1,986.2 342.1,986.0 344.1,985.7 346.0,985.4 348.0,985.1 350.0,984.8 352.0,984.5 354.0,984.2 355.9,983.8 357.9,983.5 359.9,983.2 361.8,982.8 363.8,982.4 365.8,982.0 367.7,981.6 369.6,981.1 371.6,980.6 373.5,980.1 375.5,979.6 377.4,979.1 379.3,978.5 381.2,978.0 383.1,977.4 385.1,976.8 387.0,976.2 388.9,975.6 390.8,975.0 392.7,974.3 394.6,973.7 396.4,973.0 398.3,972.4 400.2,971.7 402.1,971.0 403.9,970.2 405.8,969.5 407.6,968.7 409.5,967.9 411.3,967.2 413.2,966.4 415.0,965.6 416.8,964.8 418.6,963.9 420.5,963.1 422.3,962.2 424.0,961.3 425.8,960.4 427.6,959.5 429.3,958.5 431.1,957.5 432.8,956.5 434.5,955.4 436.2,954.4 437.9,953.3 439.6,952.2 441.2,951.1 442.9,950.0 444.5,948.9 446.2,947.8 447.8,946.6 449.5,945.5 451.1,944.3 452.7,943.1 454.4,942.0 456.0,940.8 457.6,939.7 459.2,938.5 460.9,937.3 462.5,936.2 464.2,935.1 465.8,933.9 467.5,932.8 469.1,931.7 470.8,930.6 472.5,929.6 474.2,928.5 475.9,927.5 477.7,926.5 479.4,925.5 481.2,924.5 482.9,923.6 484.7,922.7 486.5,921.8 488.3,920.9 490.1,920.0 491.9,919.3 493.7,918.5 495.6,917.8 497.5,917.2 499.4,916.6 501.3,916.1 503.3,915.6 505.2,915.2 507.2,914.9 509.2,914.6 511.1,914.3 513.1,914.1 515.1,913.9 517.1,913.8 519.1,913.7 521.1,913.7 523.1,913.7 525.1,913.8 527.1,913.9 529.1,914.1 531.0,914.3 533.0,914.6 535.0,914.9 537.0,915.2 538.9,915.6 540.9,916.0 542.8,916.4 544.8,916.9 546.7,917.4 548.7,917.9 550.6,918.4 552.5,918.9 554.5,919.3 556.4,919.8 558.4,920.3 560.3,920.8 562.2,921.3 564.2,921.7 566.1,922.2 568.1,922.7 570.0,923.2 571.9,923.7 573.9,924.2 575.8,924.7 577.7,925.2 579.7,925.8 581.6,926.3 583.5,926.8 585.5,927.4 587.4,927.9 589.3,928.4 591.2,928.9 593.2,929.4 595.1,929.9 597.1,930.4 599.0,930.9 601.0,931.3 602.9,931.7 604.9,932.1 606.8,932.5 608.8,932.8 610.8,933.1 612.8,933.4 614.7,933.7 616.7,934.0 618.7,934.3 620.7,934.6 622.6,935.0 624.6,935.4 626.6,935.8 628.5,936.2 630.5,936.6 632.4,937.0 634.4,937.4 636.3,937.8 638.3,938.2 640.3,938.6 642.2,939.0 644.2,939.4 646.2,939.7 648.1,940.1 650.1,940.4 652.1,940.7 654.0,941.1 656.0,941.4 658.0,941.7 660.0,942.0 662.0,942.3 663.9,942.6 665.9,942.9 667.9,943.2 669.9,943.5 671.8,943.8 673.8,944.0 675.8,944.3 677.8,944.6 679.8,944.9 681.8,945.1 683.7,945.4 685.7,945.6 687.7,945.9 689.7,946.1 691.7,946.3 693.7,946.6 695.7,946.8 697.6,947.0 699.6,947.2 701.6,947.5 703.6,947.7 705.6,947.9 707.6,948.1 709.6,948.3 711.6,948.5 713.6,948.6 715.6,948.8 717.6,949.0 719.5,949.2 721.5,949.3 723.5,949.5 725.5,949.6 727.5,949.8 729.5,949.9 731.5,950.1 733.5,950.2 735.5,950.3 737.5,950.4 739.5,950.6 741.5,950.7 743.5,950.8 745.5,950.9 747.5,951.0 749.5,951.1 751.5,951.1 753.5,951.2 755.5,951.3 757.5,951.4 759.5,951.5 761.5,951.5 763.5,951.6 765.5,951.7 767.5,951.7 769.5,951.8 771.5,951.9 773.5,951.9 775.5,952.0 777.5,952.1 779.5,952.1 781.5,952.2 783.5,952.2 785.5,952.3 787.5,952.3 789.5,952.4 791.5,952.4 793.5,952.4 795.5,952.5 797.5,952.5 799.5,952.5 801.5,952.6 803.5,952.6 805.5,952.6 807.5,952.7 809.5,952.7 811.5,952.7 813.5,952.7 815.5,952.7 817.5,952.8 819.5,952.8 821.5,952.8 823.5,952.8 825.5,952.8 827.5,952.8 829.5,952.8 831.5,952.8 833.5,952.8 835.5,952.8 837.5,952.8 839.5,952.8 841.5,952.8 843.5,952.8 845.5,952.8 847.5,952.7 849.5,952.7 851.5,952.7 853.5,952.7 855.5,952.6 857.5,952.6 859.5,952.6 861.5,952.5 863.5,952.5 865.5,952.5 867.5,952.4 869.5,952.4 871.5,952.3 873.5,952.3 875.5,952.2 877.5,952.2 879.5,952.1 881.5,952.1 883.5,952.0 885.5,952.0 887.5,951.9 889.5,951.9 891.5,951.9 893.5,951.8 895.5,951.8 897.5,951.8 899.5,951.7 901.5,951.7 903.5,951.7 905.5,951.7 907.5,951.7 909.5,951.6 911.5,951.6 913.5,951.6 915.5,951.6 917.5,951.6 919.5,951.6 921.5,951.6 923.5,951.6 925.5,951.6 927.5,951.5 929.5,951.5 931.5,951.5 933.5,951.5 935.5,951.5 937.5,951.5 939.5,951.5 941.5,951.5 943.5,951.5 945.5,951.5 947.5,951.5 949.5,951.4 951.5,951.4 953.5,951.4 955.5,951.4 957.0,951.4" fill="none" stroke="#1e1e1e" stroke-width="2.0" stroke-linejoin="round"/>
<path d="M957.0,964.0 955.0,964.0 953.0,964.0 951.0,964.0 949.0,964.0 947.0,964.0 945.0,964.0 943.0,964.0 941.0,964.0 939.0,964.0 937.0,964.1 935.0,964.1 933.0,964.1 931.0,964.1 929.0,964.1 927.0,964.1 925.0,964.1 923.0,964.1 921.0,964.1 919.0,964.1 917.0,964.1 915.0,964.1 913.0,964.1 911.0,964.1 909.0,964.1 907.0,964.1 905.0,964.1 903.0,964.1 901.0,964.1 899.0,964.1 897.0,964.1 895.0,964.1 893.0,964.1 891.0,964.1 889.0,964.1 887.0,964.1 885.0,964.2 883.0,964.2 881.0,964.2 879.0,964.2 877.0,964.2 875.0,964.2 873.0,964.2 871.0,964.2 869.0,964.2 867.0,964.3 865.0,964.3 862.9,964.3 860.9,964.3 858.9,964.3 856.9,964.4 854.9,964.4 852.9,964.4 850.9,964.4 848.9,964.5 846.9,964.5 844.9,964.5 842.9,964.5 840.9,964.6 838.9,964.6 836.9,964.6 834.9,964.7 832.9,964.7 830.9,964.7 828.9,964.8 826.9,964.8 824.9,964.8 822.9,964.9 820.9,964.9 818.9,965.0 816.9,965.0 814.9,965.1 812.9,965.1 810.9,965.1 808.9,965.2 806.9,965.2 804.9,965.3 802.9,965.3 800.9,965.4 798.9,965.4 796.9,965.5 794.9,965.5 792.9,965.5 790.9,965.6 788.9,965.6 786.9,965.7 784.9,965.7 782.9,965.8 780.9,965.8 778.9,965.9 776.9,965.9 774.9,966.0 772.9,966.0 770.9,966.1 768.9,966.1 766.9,966.1 764.9,966.2 762.9,966.2 760.9,966.3 758.9,966.3 756.9,966.4 754.9,966.4 752.9,966.4 750.9,966.5 748.9,966.5 746.9,966.6 744.9,966.6 742.9,966.7 740.9,966.7 738.9,966.8 736.9,966.8 734.9,966.8 732.9,966.9 730.9,966.9 728.9,967.0 726.9,967.0 724.9,967.1 722.9,967.1 720.9,967.2 718.9,967.2 716.9,967.3 714.9,967.3 712.9,967.4 710.9,967.4 708.9,967.5 706.9,967.5 704.9,967.6 702.9,967.6 700.9,967.7 698.9,967.7 696.9,967.8 694.9,967.8 692.9,967.9 690.9,967.9 688.9,968.0 686.9,968.1 684.9,968.1 682.9,968.2 680.9,968.3 678.9,968.3 676.9,968.4 674.9,968.5 672.9,968.5 670.9,968.6 668.9,968.7 666.9,968.7 664.9,968.8 662.9,968.9 660.9,969.0 658.9,969.0 656.9,969.1 654.9,969.2 652.9,969.3 650.9,969.4 648.9,969.4 646.9,969.5 644.9,969.6 642.9,969.7 640.9,969.8 638.9,969.8 636.9,969.9 634.9,970.0 632.9,970.1 630.9,970.2 628.9,970.2 626.9,970.3 624.9,970.4 622.9,970.5 620.9,970.6 618.9,970.6 616.9,970.7 614.9,970.8 612.9,970.9 610.9,970.9 608.9,971.0 606.9,971.1 604.9,971.2 602.9,971.2 600.9,971.3 598.9,971.4 596.9,971.5 594.9,971.6 592.9,971.7 590.9,971.8 588.9,971.9 586.9,972.1 584.9,972.2 582.9,972.3 580.9,972.5 578.9,972.6 576.9,972.8 575.0,972.9 573.0,973.1 571.0,973.3 569.0,973.5 567.0,973.7 565.0,973.9 563.0,974.2 561.0,974.5 559.0,974.7 557.1,975.0 555.1,975.3 553.1,975.6 551.1,975.9 549.2,976.2 547.2,976.6 545.2,976.9 543.2,977.2 541.3,977.6 539.3,977.9 537.3,978.2 535.3,978.6 533.4,978.9 531.4,979.3 529.4,979.6 527.5,980.0 525.5,980.4 523.5,980.7 521.6,981.1 519.6,981.6 517.7,982.0 515.7,982.5 513.8,982.9 511.9,983.5 509.9,984.0 508.0,984.5 506.1,985.1 504.2,985.7 502.3,986.3 500.4,987.0 498.5,987.6 496.6,988.3 494.7,989.0 492.9,989.7 491.0,990.4 489.1,991.1 487.2,991.8 485.4,992.5 483.5,993.2 481.6,993.9 479.8,994.6 477.9,995.4 476.0,996.1 474.2,996.8 472.3,997.5 470.4,998.3 468.6,999.0 466.7,999.8 464.9,1000.5 463.0,1001.3 461.2,1002.0 459.3,1002.8 457.5,1003.6 455.6,1004.3 453.8,1005.1 451.9,1005.9 450.1,1006.7 448.3,1007.5 446.4,1008.3 444.6,1009.1 442.8,1009.9 440.9,1010.7 439.1,1011.6 437.3,1012.4 435.5,1013.2 433.7,1014.0 431.8,1014.9 430.0,1015.7 428.2,1016.5 426.3,1017.3 424.5,1018.1 422.7,1018.9 420.9,1019.7 419.0,1020.5 417.2,1021.3 415.3,1022.1 413.5,1022.8 411.6,1023.6 409.8,1024.3 407.9,1025.1 406.0,1025.8 404.2,1026.5 402.3,1027.2 400.4,1027.9 398.5,1028.5 396.6,1029.2 394.7,1029.8 392.8,1030.5 390.9,1031.1 389.0,1031.6 387.1,1032.2 385.2,1032.8 383.2,1033.3 381.3,1033.8 379.4,1034.2 377.4,1034.6 375.5,1035.0 373.5,1035.4 371.5,1035.7 369.5,1035.9 367.5,1036.2 365.6,1036.4 363.6,1036.5 361.6,1036.6 359.6,1036.7 357.6,1036.8 355.6,1036.8 353.6,1036.7 351.6,1036.7 349.6,1036.5 347.6,1036.4 345.6,1036.2 343.6,1036.0 341.6,1035.8 339.6,1035.6 337.7,1035.3 335.7,1035.0 333.7,1034.7 331.7,1034.4 329.8,1034.1 327.8,1033.7 325.8,1033.4 323.8,1033.0 321.9,1032.7 319.9,1032.3 317.9,1031.9 316.0,1031.5 314.0,1031.1 312.1,1030.8 310.1,1030.4 308.1,1030.0 306.2,1029.6 304.2,1029.2 302.3,1028.8 300.3,1028.4 298.3,1027.9 296.4,1027.5 294.4,1027.1 292.5,1026.6 290.5,1026.2 288.6,1025.7 286.6,1025.2 284.7,1024.8 282.8,1024.3 280.8,1023.8 278.9,1023.3 276.9,1022.8 275.0,1022.4 273.0,1021.9 271.1,1021.5 269.1,1021.0 267.2,1020.6 265.2,1020.2 263.3,1019.8 261.3,1019.4 259.3,1019.0 257.4,1018.7 255.4,1018.3 253.4,1018.0 251.4,1017.7 249.5,1017.3 247.5,1017.0 245.5,1016.7 243.5,1016.5 241.6,1016.2 239.6,1015.9 237.6,1015.6 235.6,1015.3 233.6,1015.0 231.7,1014.6 229.7,1014.4 227.7,1014.1 225.7,1013.8 223.7,1013.6 221.8,1013.3 219.8,1013.1 217.8,1013.0 215.8,1012.8 213.8,1012.7 211.8,1012.5 209.8,1012.4 207.8,1012.3 205.8,1012.2 203.8,1012.1 201.8,1011.9 199.8,1011.8 197.8,1011.7 197.3,1011.7" fill="none" stroke="#1e1e1e" stroke-width="2.0" stroke-linejoin="round"/>
<path d="M604.0,932.1L577.5,932.6L582.7,926.5L581.2,918.6Z" fill="#000"/>
<path d="M415.6,1022.0L436.0,1005.1L435.7,1013.1L441.8,1018.3Z" fill="#000"/>
<path d="M197.3,1141.7 199.0,1140.7 200.8,1139.8 202.5,1138.9 204.3,1138.0 206.2,1137.3 208.0,1136.6 209.9,1136.0 211.8,1135.4 213.7,1134.8 215.7,1134.4 217.6,1133.9 219.6,1133.4 221.5,1133.0 223.5,1132.6 225.4,1132.2 227.4,1131.8 229.4,1131.4 231.3,1131.1 233.3,1130.7 235.3,1130.4 237.3,1130.1 239.2,1129.8 241.2,1129.5 243.2,1129.2 245.2,1128.9 247.1,1128.6 249.1,1128.3 251.1,1128.1 253.1,1127.8 255.1,1127.5 257.1,1127.3 259.0,1127.0 261.0,1126.7 263.0,1126.5 265.0,1126.2 267.0,1126.0 269.0,1125.7 270.9,1125.5 272.9,1125.2 274.9,1125.0 276.9,1124.7 278.9,1124.5 280.9,1124.2 282.8,1124.0 284.8,1123.7 286.8,1123.4 288.8,1123.2 290.8,1122.9 292.8,1122.7 294.8,1122.5 296.7,1122.2 298.7,1122.0 300.7,1121.7 302.7,1121.5 304.7,1121.3 306.7,1121.0 308.7,1120.8 310.6,1120.6 312.6,1120.3 314.6,1120.1 316.6,1119.9 318.6,1119.6 320.6,1119.4 322.6,1119.1 324.5,1118.9 326.5,1118.6 328.5,1118.3 330.5,1118.1 332.5,1117.8 334.4,1117.5 336.4,1117.2 338.4,1116.9 340.4,1116.6 342.4,1116.3 344.3,1116.0 346.3,1115.7 348.3,1115.4 350.3,1115.1 352.2,1114.7 354.2,1114.4 356.2,1114.1 358.2,1113.8 360.1,1113.4 362.1,1113.1 364.1,1112.7 366.0,1112.4 368.0,1112.0 369.9,1111.5 371.9,1111.1 373.8,1110.7 375.8,1110.2 377.7,1109.7 379.7,1109.2 381.6,1108.7 383.5,1108.2 385.5,1107.6 387.4,1107.1 389.3,1106.5 391.2,1106.0 393.1,1105.4 395.0,1104.8 397.0,1104.2 398.9,1103.6 400.8,1103.0 402.7,1102.4 404.6,1101.7 406.5,1101.1 408.4,1100.5 410.2,1099.8 412.1,1099.1 414.0,1098.5 415.9,1097.8 417.8,1097.1 419.6,1096.4 421.5,1095.7 423.4,1094.9 425.2,1094.2 427.1,1093.5 428.9,1092.7 430.8,1091.9 432.6,1091.1 434.4,1090.3 436.2,1089.4 438.0,1088.6 439.8,1087.7 441.6,1086.7 443.4,1085.8 445.1,1084.8 446.8,1083.9 448.6,1082.8 450.3,1081.8 452.0,1080.8 453.7,1079.7 455.4,1078.6 457.0,1077.5 458.7,1076.4 460.4,1075.4 462.1,1074.3 463.7,1073.2 465.4,1072.1 467.1,1071.0 468.8,1069.9 470.4,1068.8 472.1,1067.7 473.8,1066.6 475.5,1065.5 477.1,1064.4 478.8,1063.3 480.5,1062.3 482.2,1061.2 483.9,1060.2 485.6,1059.1 487.4,1058.1 489.1,1057.1 490.8,1056.2 492.6,1055.3 494.4,1054.4 496.2,1053.5 498.0,1052.7 499.9,1051.9 501.7,1051.2 503.6,1050.5 505.5,1049.9 507.4,1049.3 509.3,1048.7 511.2,1048.2 513.2,1047.7 515.1,1047.3 517.1,1046.9 519.0,1046.5 521.0,1046.2 523.0,1045.9 525.0,1045.7 527.0,1045.5 529.0,1045.4 531.0,1045.3 532.9,1045.2 534.9,1045.2 536.9,1045.2 538.9,1045.3 540.9,1045.3 542.9,1045.5 544.9,1045.6 546.9,1045.8 548.9,1046.0 550.9,1046.3 552.8,1046.6 554.8,1046.9 556.8,1047.3 558.7,1047.7 560.7,1048.1 562.6,1048.6 564.6,1049.1 566.5,1049.6 568.5,1050.0 570.4,1050.5 572.3,1051.0 574.3,1051.5 576.2,1052.0 578.2,1052.4 580.1,1052.9 582.0,1053.4 584.0,1053.9 585.9,1054.3 587.9,1054.8 589.8,1055.3 591.8,1055.8 593.7,1056.3 595.6,1056.7 597.6,1057.2 599.5,1057.7 601.5,1058.2 603.4,1058.6 605.4,1059.1 607.3,1059.5 609.3,1060.0 611.2,1060.4 613.2,1060.8 615.1,1061.2 617.1,1061.6 619.1,1062.0 621.0,1062.4 623.0,1062.7 625.0,1063.1 626.9,1063.5 628.9,1063.8 630.9,1064.1 632.8,1064.4 634.8,1064.8 636.8,1065.1 638.8,1065.3 640.8,1065.6 642.7,1065.9 644.7,1066.1 646.7,1066.4 648.7,1066.7 650.7,1066.9 652.7,1067.2 654.6,1067.5 656.6,1067.7 658.6,1068.0 660.6,1068.2 662.6,1068.5 664.5,1068.8 666.5,1069.0 668.5,1069.3 670.5,1069.5 672.5,1069.8 674.5,1070.1 676.5,1070.3 678.4,1070.5 680.4,1070.8 682.4,1071.0 684.4,1071.3 686.4,1071.5 688.4,1071.7 690.4,1071.9 692.3,1072.2 694.3,1072.4 696.3,1072.6 698.3,1072.8 700.3,1073.0 702.3,1073.2 704.3,1073.4 706.3,1073.6 708.3,1073.8 710.3,1074.0 712.2,1074.2 714.2,1074.4 716.2,1074.6 718.2,1074.7 720.2,1074.9 722.2,1075.1 724.2,1075.3 726.2,1075.5 728.2,1075.7 730.2,1075.9 732.2,1076.1 734.1,1076.3 736.1,1076.5 738.1,1076.7 740.1,1076.8 742.1,1077.0 744.1,1077.2 746.1,1077.4 748.1,1077.6 750.1,1077.8 752.1,1078.0 754.1,1078.1 756.1,1078.3 758.1,1078.5 760.0,1078.6 762.0,1078.8 764.0,1078.9 766.0,1079.1 768.0,1079.2 770.0,1079.3 772.0,1079.5 774.0,1079.6 776.0,1079.7 778.0,1079.8 780.0,1079.9 782.0,1080.0 784.0,1080.1 786.0,1080.2 788.0,1080.2 790.0,1080.3 792.0,1080.4 794.0,1080.5 796.0,1080.5 798.0,1080.6 800.0,1080.7 802.0,1080.7 804.0,1080.8 806.0,1080.9 808.0,1080.9 810.0,1081.0 812.0,1081.0 814.0,1081.1 816.0,1081.1 818.0,1081.2 820.0,1081.3 822.0,1081.3 824.0,1081.3 826.0,1081.4 828.0,1081.4 830.0,1081.5 832.0,1081.5 834.0,1081.6 836.0,1081.6 838.0,1081.6 840.0,1081.6 842.0,1081.7 844.0,1081.7 846.0,1081.7 848.0,1081.7 850.0,1081.8 852.0,1081.8 854.0,1081.8 856.0,1081.8 858.0,1081.8 860.0,1081.8 862.0,1081.9 864.0,1081.9 866.0,1081.9 868.0,1081.9 870.0,1081.9 872.0,1081.9 874.0,1081.9 876.0,1081.9 878.0,1081.9 880.0,1081.9 882.0,1081.9 884.0,1081.9 886.0,1081.9 888.0,1081.9 890.0,1081.9 892.0,1081.9 894.0,1081.9 896.0,1081.9 898.0,1081.9 900.0,1081.9 902.0,1081.9 904.0,1081.9 906.0,1081.9 908.0,1081.9 910.0,1081.9 912.0,1081.9 914.0,1081.9 916.0,1081.9 918.0,1081.9 920.0,1081.9 922.0,1081.9 924.0,1081.8 926.0,1081.8 928.0,1081.8 930.0,1081.8 932.0,1081.8 934.0,1081.8 936.0,1081.8 938.0,1081.8 940.0,1081.8 942.0,1081.8 944.0,1081.8 946.0,1081.8 948.0,1081.8 950.0,1081.8 952.0,1081.8 954.0,1081.8 956.0,1081.8 957.0,1081.8" fill="none" stroke="#1e1e1e" stroke-width="2.0" stroke-linejoin="round"/>
<path d="M957.0,1094.4 955.0,1094.4 953.0,1094.5 951.0,1094.5 949.0,1094.5 947.0,1094.5 945.0,1094.6 943.0,1094.6 941.0,1094.6 939.0,1094.6 937.0,1094.7 935.0,1094.7 933.0,1094.7 931.0,1094.8 929.0,1094.8 927.0,1094.8 925.0,1094.8 923.0,1094.9 921.0,1094.9 919.0,1094.9 917.0,1094.9 915.0,1095.0 913.0,1095.0 911.0,1095.0 909.0,1095.0 907.0,1095.1 905.0,1095.1 903.0,1095.1 901.0,1095.1 899.0,1095.2 897.0,1095.2 895.0,1095.2 893.0,1095.2 891.0,1095.3 889.0,1095.3 887.0,1095.3 885.0,1095.4 883.0,1095.4 881.0,1095.4 879.0,1095.4 877.0,1095.5 875.0,1095.5 873.0,1095.5 871.0,1095.5 869.0,1095.6 867.0,1095.6 865.0,1095.6 863.0,1095.7 861.0,1095.7 859.0,1095.7 857.0,1095.7 855.0,1095.8 853.0,1095.8 851.0,1095.8 849.0,1095.9 847.0,1095.9 845.0,1095.9 843.0,1095.9 841.0,1096.0 839.0,1096.0 837.0,1096.0 835.0,1096.1 833.0,1096.1 831.0,1096.1 829.0,1096.2 827.0,1096.2 825.0,1096.2 823.0,1096.3 821.0,1096.3 819.0,1096.3 817.0,1096.4 815.0,1096.4 813.0,1096.5 811.0,1096.5 809.0,1096.5 807.0,1096.6 805.0,1096.6 803.0,1096.7 801.0,1096.7 799.0,1096.7 797.0,1096.8 795.0,1096.8 793.0,1096.9 791.0,1096.9 789.0,1097.0 787.0,1097.0 785.0,1097.1 783.0,1097.1 781.0,1097.1 779.0,1097.2 777.0,1097.2 775.0,1097.3 773.0,1097.3 771.0,1097.4 769.0,1097.4 767.0,1097.5 765.0,1097.5 763.0,1097.6 761.0,1097.6 759.0,1097.7 757.0,1097.8 755.0,1097.8 753.0,1097.9 751.0,1097.9 749.0,1098.0 747.0,1098.0 745.0,1098.1 743.0,1098.1 741.0,1098.2 739.0,1098.3 737.0,1098.3 735.0,1098.4 733.0,1098.4 731.0,1098.5 729.0,1098.5 727.0,1098.6 725.0,1098.7 723.0,1098.7 721.0,1098.8 719.0,1098.9 717.0,1098.9 715.0,1099.0 713.0,1099.0 711.0,1099.1 709.0,1099.2 707.0,1099.2 705.0,1099.3 703.0,1099.4 701.0,1099.4 699.0,1099.5 697.0,1099.6 695.0,1099.6 693.0,1099.7 691.0,1099.8 689.0,1099.8 687.0,1099.9 685.0,1100.0 683.0,1100.0 681.0,1100.1 679.0,1100.2 677.0,1100.3 675.0,1100.3 673.0,1100.4 671.0,1100.5 669.0,1100.5 667.0,1100.6 665.0,1100.7 663.0,1100.8 661.0,1100.8 659.0,1100.9 657.0,1101.0 655.0,1101.1 653.0,1101.1 651.0,1101.2 649.0,1101.3 647.0,1101.4 645.0,1101.5 643.0,1101.6 641.0,1101.6 639.0,1101.7 637.0,1101.8 635.0,1101.9 633.0,1102.0 631.0,1102.1 629.0,1102.2 627.0,1102.3 625.0,1102.4 623.0,1102.5 621.0,1102.6 619.0,1102.7 617.0,1102.8 615.0,1102.9 613.0,1103.0 611.0,1103.1 609.0,1103.2 607.0,1103.3 605.0,1103.4 603.1,1103.5 601.1,1103.6 599.1,1103.8 597.1,1103.9 595.1,1104.0 593.1,1104.1 591.1,1104.3 589.1,1104.4 587.1,1104.5 585.1,1104.7 583.1,1104.9 581.1,1105.0 579.1,1105.2 577.1,1105.4 575.1,1105.6 573.1,1105.8 571.1,1106.0 569.2,1106.2 567.2,1106.4 565.2,1106.6 563.2,1106.8 561.2,1107.0 559.2,1107.3 557.2,1107.5 555.2,1107.6 553.2,1107.8 551.2,1108.0 549.2,1108.2 547.3,1108.3 545.3,1108.5 543.3,1108.7 541.3,1108.8 539.3,1109.0 537.3,1109.2 535.3,1109.4 533.3,1109.6 531.3,1109.8 529.3,1110.0 527.4,1110.3 525.4,1110.6 523.4,1111.0 521.5,1111.3 519.5,1111.7 517.5,1112.2 515.6,1112.6 513.6,1113.1 511.7,1113.6 509.8,1114.1 507.9,1114.6 505.9,1115.2 504.0,1115.7 502.1,1116.3 500.2,1116.9 498.3,1117.5 496.3,1118.0 494.4,1118.6 492.5,1119.2 490.6,1119.8 488.7,1120.4 486.8,1121.0 484.9,1121.7 483.0,1122.3 481.1,1122.9 479.2,1123.6 477.3,1124.2 475.4,1124.9 473.5,1125.5 471.7,1126.2 469.8,1126.9 467.9,1127.6 466.1,1128.4 464.2,1129.1 462.4,1129.9 460.6,1130.7 458.7,1131.6 456.9,1132.4 455.1,1133.3 453.3,1134.2 451.6,1135.1 449.8,1136.0 448.0,1136.9 446.2,1137.8 444.4,1138.7 442.6,1139.6 440.8,1140.4 439.0,1141.2 437.1,1142.0 435.3,1142.8 433.5,1143.6 431.6,1144.3 429.8,1145.1 427.9,1145.8 426.0,1146.5 424.2,1147.3 422.3,1148.0 420.5,1148.8 418.6,1149.5 416.8,1150.3 414.9,1151.0 413.1,1151.8 411.2,1152.6 409.4,1153.4 407.5,1154.1 405.7,1154.9 403.8,1155.6 401.9,1156.3 400.0,1156.9 398.1,1157.6 396.2,1158.2 394.3,1158.7 392.4,1159.3 390.5,1159.8 388.5,1160.3 386.6,1160.7 384.6,1161.1 382.7,1161.5 380.7,1161.9 378.7,1162.2 376.8,1162.5 374.8,1162.8 372.8,1163.0 370.8,1163.2 368.8,1163.4 366.8,1163.5 364.8,1163.7 362.8,1163.8 360.8,1163.9 358.8,1164.0 356.9,1164.1 354.9,1164.3 352.9,1164.4 350.9,1164.4 348.9,1164.4 346.9,1164.3 345.0,1164.1 343.0,1163.9 341.0,1163.6 339.1,1163.3 337.1,1163.0 335.1,1162.6 333.1,1162.3 331.2,1162.0 329.2,1161.6 327.2,1161.3 325.3,1160.9 323.3,1160.6 321.3,1160.2 319.3,1159.9 317.4,1159.6 315.4,1159.2 313.4,1158.9 311.5,1158.5 309.5,1158.1 307.5,1157.8 305.6,1157.4 303.6,1157.0 301.6,1156.7 299.7,1156.3 297.7,1155.9 295.8,1155.5 293.8,1155.1 291.8,1154.7 289.9,1154.3 287.9,1153.9 285.9,1153.6 284.0,1153.2 282.0,1152.8 280.0,1152.5 278.1,1152.1 276.1,1151.8 274.1,1151.4 272.2,1151.1 270.2,1150.8 268.2,1150.4 266.2,1150.1 264.3,1149.7 262.3,1149.4 260.3,1149.1 258.3,1148.7 256.4,1148.4 254.4,1148.1 252.4,1147.8 250.4,1147.5 248.5,1147.2 246.5,1146.9 244.5,1146.6 242.5,1146.3 240.6,1146.0 238.6,1145.7 236.6,1145.4 234.6,1145.1 232.6,1144.8 230.7,1144.5 228.7,1144.2 226.7,1143.9 224.7,1143.7 222.7,1143.4 220.8,1143.2 218.8,1143.0 216.8,1142.9 214.8,1142.7 212.8,1142.6 210.8,1142.5 208.8,1142.3 206.8,1142.2 204.8,1142.1 202.8,1142.0 200.8,1141.9 198.8,1141.8 197.3,1141.7" fill="none" stroke="#1e1e1e" stroke-width="2.0" stroke-linejoin="round"/>
<path d="M613.7,1061.0L587.2,1062.0L592.3,1055.9L590.6,1048.0Z" fill="#000"/>
<path d="M418.0,1149.7L439.0,1133.5L438.4,1141.5L444.3,1146.9Z" fill="#000"/>
<path d="M197.3,1261.7 198.9,1260.5 200.5,1259.4 202.2,1258.3 203.8,1257.2 205.6,1256.2 207.3,1255.3 209.1,1254.5 211.0,1253.8 212.9,1253.1 214.8,1252.5 216.7,1252.0 218.6,1251.4 220.5,1250.9 222.4,1250.4 224.4,1249.9 226.3,1249.4 228.3,1248.9 230.2,1248.5 232.2,1248.0 234.1,1247.6 236.1,1247.1 238.0,1246.7 240.0,1246.3 241.9,1245.9 243.9,1245.5 245.9,1245.1 247.8,1244.7 249.8,1244.3 251.7,1244.0 253.7,1243.6 255.7,1243.2 257.6,1242.9 259.6,1242.5 261.6,1242.2 263.6,1241.9 265.5,1241.5 267.5,1241.2 269.5,1240.9 271.4,1240.5 273.4,1240.2 275.4,1239.9 277.4,1239.6 279.4,1239.3 281.3,1239.0 283.3,1238.7 285.3,1238.4 287.3,1238.1 289.2,1237.8 291.2,1237.5 293.2,1237.2 295.2,1236.9 297.2,1236.6 299.1,1236.3 301.1,1236.1 303.1,1235.8 305.1,1235.5 307.0,1235.2 309.0,1234.9 311.0,1234.6 313.0,1234.3 315.0,1234.0 316.9,1233.7 318.9,1233.4 320.9,1233.2 322.9,1232.9 324.9,1232.6 326.8,1232.3 328.8,1232.1 330.8,1231.8 332.8,1231.5 334.8,1231.3 336.8,1231.0 338.7,1230.7 340.7,1230.4 342.7,1230.2 344.7,1229.9 346.7,1229.6 348.6,1229.3 350.6,1228.9 352.6,1228.6 354.5,1228.2 356.5,1227.9 358.5,1227.5 360.4,1227.1 362.4,1226.7 364.4,1226.4 366.3,1226.0 368.3,1225.6 370.2,1225.2 372.2,1224.8 374.2,1224.4 376.1,1224.0 378.1,1223.7 380.1,1223.3 382.0,1222.9 384.0,1222.5 385.9,1222.1 387.9,1221.8 389.9,1221.4 391.8,1221.0 393.8,1220.6 395.8,1220.2 397.7,1219.8 399.7,1219.4 401.6,1219.0 403.6,1218.6 405.6,1218.2 407.5,1217.8 409.5,1217.3 411.4,1216.9 413.4,1216.5 415.3,1216.0 417.3,1215.6 419.2,1215.1 421.2,1214.6 423.1,1214.2 425.0,1213.7 427.0,1213.2 428.9,1212.7 430.9,1212.2 432.8,1211.7 434.7,1211.2 436.7,1210.7 438.6,1210.2 440.5,1209.6 442.4,1209.1 444.4,1208.6 446.3,1208.0 448.2,1207.4 450.1,1206.8 452.0,1206.3 453.9,1205.7 455.9,1205.1 457.8,1204.5 459.7,1203.9 461.6,1203.2 463.5,1202.6 465.4,1202.0 467.3,1201.3 469.1,1200.7 471.0,1200.0 472.9,1199.3 474.8,1198.7 476.7,1198.0 478.5,1197.2 480.4,1196.5 482.2,1195.7 484.1,1195.0 485.9,1194.2 487.8,1193.4 489.6,1192.6 491.4,1191.8 493.2,1191.0 495.1,1190.1 496.9,1189.3 498.7,1188.5 500.5,1187.7 502.4,1186.9 504.2,1186.0 506.0,1185.2 507.8,1184.4 509.7,1183.6 511.5,1182.8 513.3,1182.0 515.2,1181.2 517.0,1180.5 518.9,1179.7 520.7,1178.9 522.6,1178.2 524.4,1177.5 526.3,1176.8 528.2,1176.1 530.1,1175.4 532.0,1174.8 533.9,1174.2 535.8,1173.6 537.7,1173.1 539.6,1172.6 541.6,1172.1 543.5,1171.7 545.5,1171.2 547.4,1170.9 549.4,1170.5 551.4,1170.2 553.4,1170.0 555.4,1169.7 557.3,1169.5 559.3,1169.3 561.3,1169.2 563.3,1169.1 565.3,1169.0 567.3,1169.0 569.3,1169.0 571.3,1169.0 573.3,1169.1 575.3,1169.2 577.3,1169.3 579.3,1169.4 581.3,1169.6 583.3,1169.8 585.3,1170.0 587.2,1170.3 589.2,1170.5 591.2,1170.8 593.2,1171.1 595.1,1171.5 597.1,1171.8 599.1,1172.2 601.0,1172.5 603.0,1172.9 605.0,1173.2 606.9,1173.6 608.9,1174.0 610.9,1174.4 612.8,1174.8 614.8,1175.2 616.8,1175.6 618.7,1176.0 620.7,1176.3 622.6,1176.7 624.6,1177.2 626.6,1177.6 628.5,1178.0 630.5,1178.4 632.4,1178.8 634.4,1179.2 636.3,1179.6 638.3,1180.0 640.3,1180.4 642.2,1180.8 644.2,1181.2 646.1,1181.6 648.1,1182.0 650.0,1182.5 652.0,1182.9 654.0,1183.3 655.9,1183.8 657.9,1184.2 659.8,1184.6 661.8,1185.1 663.7,1185.5 665.7,1185.9 667.6,1186.3 669.6,1186.7 671.5,1187.1 673.5,1187.4 675.5,1187.7 677.5,1188.0 679.4,1188.2 681.4,1188.4 683.4,1188.5 685.4,1188.6 687.4,1188.8 689.4,1188.9 691.4,1189.1 693.3,1189.4 695.3,1189.6 697.3,1189.9 699.3,1190.2 701.3,1190.4 703.2,1190.7 705.2,1191.0 707.2,1191.3 709.2,1191.6 711.2,1191.9 713.1,1192.2 715.1,1192.4 717.1,1192.7 719.1,1193.0 721.1,1193.2 723.1,1193.4 725.0,1193.6 727.0,1193.8 729.0,1194.0 731.0,1194.1 733.0,1194.3 735.0,1194.4 737.0,1194.5 739.0,1194.6 741.0,1194.7 743.0,1194.7 745.0,1194.8 747.0,1194.8 749.0,1194.9 751.0,1194.9 753.0,1195.0 755.0,1195.0 757.0,1195.0 759.0,1195.1 761.0,1195.1 763.0,1195.1 765.0,1195.1 767.0,1195.2 769.0,1195.2 771.0,1195.2 773.0,1195.2 775.0,1195.2 777.0,1195.2 779.0,1195.2 781.0,1195.2 783.0,1195.2 785.0,1195.2 787.0,1195.2 789.0,1195.2 791.0,1195.2 793.0,1195.2 795.0,1195.1 797.0,1195.1 799.0,1195.1 801.0,1195.1 803.0,1195.1 805.0,1195.1 807.0,1195.1 809.0,1195.1 811.0,1195.1 813.0,1195.1 815.0,1195.1 817.0,1195.1 819.0,1195.1 821.0,1195.1 823.0,1195.1 825.0,1195.1 827.0,1195.1 829.0,1195.1 831.0,1195.1 833.0,1195.1 835.0,1195.1 837.0,1195.1 839.0,1195.1 841.0,1195.1 843.0,1195.1 845.0,1195.1 847.0,1195.1 849.0,1195.1 851.0,1195.1 853.0,1195.1 855.0,1195.1 857.0,1195.1 859.0,1195.1 861.0,1195.1 863.0,1195.1 865.0,1195.1 867.0,1195.1 869.0,1195.1 871.0,1195.1 873.0,1195.1 875.0,1195.1 877.0,1195.1 879.0,1195.1 881.0,1195.1 883.0,1195.1 885.0,1195.1 887.0,1195.1 889.0,1195.1 891.0,1195.1 893.0,1195.1 895.0,1195.1 897.0,1195.1 899.0,1195.1 901.0,1195.1 903.0,1195.1 905.0,1195.1 907.0,1195.1 909.0,1195.1 911.0,1195.1 913.0,1195.1 915.0,1195.1 917.0,1195.1 919.0,1195.1 921.0,1195.1 923.0,1195.1 925.0,1195.1 927.0,1195.1 929.0,1195.1 931.0,1195.1 933.0,1195.1 935.0,1195.1 937.0,1195.1 939.0,1195.1 941.0,1195.1 943.0,1195.1 945.0,1195.1 947.0,1195.1 949.0,1195.1 951.0,1195.1 953.0,1195.1 955.0,1195.1 957.0,1195.1" fill="none" stroke="#1e1e1e" stroke-width="2.0" stroke-linejoin="round"/>
<path d="M957.0,1211.4 955.0,1211.4 953.0,1211.5 951.0,1211.5 949.0,1211.5 947.0,1211.5 945.0,1211.6 943.0,1211.6 941.0,1211.6 939.0,1211.6 937.0,1211.7 935.0,1211.7 933.0,1211.7 931.0,1211.7 929.0,1211.8 927.0,1211.8 925.0,1211.8 923.0,1211.8 921.0,1211.9 919.0,1211.9 917.0,1211.9 915.0,1211.9 913.0,1212.0 911.0,1212.0 909.0,1212.0 907.0,1212.0 905.0,1212.1 903.0,1212.1 901.0,1212.1 899.0,1212.1 897.0,1212.2 895.0,1212.2 893.0,1212.2 891.0,1212.2 889.0,1212.3 887.0,1212.3 885.0,1212.3 883.0,1212.3 881.0,1212.4 879.0,1212.4 877.0,1212.4 875.0,1212.4 873.0,1212.5 871.0,1212.5 869.0,1212.5 867.0,1212.6 865.0,1212.6 863.0,1212.6 861.0,1212.6 859.0,1212.7 857.0,1212.7 855.0,1212.7 853.0,1212.8 851.0,1212.8 849.0,1212.8 847.0,1212.8 845.0,1212.9 843.0,1212.9 841.0,1212.9 839.0,1213.0 837.0,1213.0 835.0,1213.0 833.0,1213.1 831.0,1213.1 829.0,1213.1 827.0,1213.2 825.0,1213.2 823.0,1213.3 821.0,1213.3 819.0,1213.3 817.0,1213.4 815.0,1213.4 813.0,1213.5 811.0,1213.5 809.0,1213.5 807.0,1213.6 805.0,1213.6 803.0,1213.7 801.0,1213.7 799.0,1213.8 797.0,1213.8 795.0,1213.9 793.0,1214.0 791.0,1214.0 789.0,1214.1 787.0,1214.1 785.0,1214.2 783.0,1214.3 781.0,1214.3 779.0,1214.4 777.0,1214.5 775.0,1214.5 773.0,1214.6 771.0,1214.6 769.0,1214.7 767.0,1214.8 765.0,1214.8 763.0,1214.9 761.0,1215.0 759.0,1215.0 757.0,1215.1 755.0,1215.2 753.0,1215.2 751.0,1215.3 749.0,1215.4 747.0,1215.4 745.0,1215.5 743.0,1215.6 741.0,1215.6 739.0,1215.7 737.0,1215.7 735.0,1215.8 733.0,1215.8 731.0,1215.9 729.0,1215.9 727.0,1216.0 725.0,1216.0 723.0,1216.1 721.0,1216.1 719.0,1216.2 717.0,1216.2 715.0,1216.2 713.0,1216.3 711.0,1216.3 709.0,1216.3 707.0,1216.3 705.0,1216.4 703.0,1216.4 701.0,1216.4 699.0,1216.4 697.0,1216.5 695.0,1216.5 693.0,1216.5 691.0,1216.5 689.0,1216.6 687.0,1216.6 685.0,1216.6 683.0,1216.7 681.0,1216.7 679.0,1216.7 677.0,1216.8 675.0,1216.8 673.0,1216.8 671.0,1216.9 669.0,1216.9 667.0,1217.0 665.0,1217.0 663.0,1217.1 661.0,1217.1 659.0,1217.2 657.0,1217.2 655.0,1217.3 653.0,1217.4 651.0,1217.5 649.0,1217.5 647.0,1217.6 645.0,1217.7 643.0,1217.8 641.0,1217.9 639.0,1218.0 637.0,1218.1 635.0,1218.2 633.0,1218.3 631.0,1218.4 629.0,1218.5 627.0,1218.6 625.0,1218.7 623.0,1218.8 621.0,1218.9 619.0,1219.0 617.0,1219.1 615.0,1219.2 613.0,1219.3 611.0,1219.4 609.0,1219.5 607.0,1219.6 605.0,1219.7 603.0,1219.8 601.0,1219.9 599.0,1220.0 597.1,1220.1 595.1,1220.2 593.1,1220.3 591.1,1220.4 589.1,1220.5 587.1,1220.6 585.1,1220.8 583.1,1220.9 581.1,1221.0 579.1,1221.1 577.1,1221.3 575.1,1221.4 573.1,1221.5 571.1,1221.7 569.1,1221.8 567.1,1221.9 565.1,1222.1 563.1,1222.2 561.1,1222.4 559.1,1222.6 557.1,1222.7 555.1,1222.9 553.1,1223.1 551.2,1223.3 549.2,1223.5 547.2,1223.7 545.2,1224.0 543.2,1224.2 541.2,1224.5 539.2,1224.7 537.3,1225.0 535.3,1225.3 533.3,1225.5 531.3,1225.8 529.3,1226.1 527.4,1226.4 525.4,1226.7 523.4,1227.1 521.4,1227.4 519.5,1227.7 517.5,1228.1 515.5,1228.4 513.6,1228.8 511.6,1229.1 509.6,1229.5 507.7,1229.9 505.7,1230.3 503.7,1230.7 501.8,1231.0 499.8,1231.5 497.9,1231.9 495.9,1232.3 493.9,1232.7 492.0,1233.2 490.0,1233.6 488.1,1234.1 486.2,1234.6 484.2,1235.1 482.3,1235.6 480.4,1236.1 478.4,1236.6 476.5,1237.2 474.6,1237.8 472.7,1238.4 470.8,1239.0 468.9,1239.7 467.0,1240.3 465.1,1241.0 463.2,1241.7 461.4,1242.3 459.5,1243.0 457.6,1243.7 455.7,1244.4 453.9,1245.1 452.0,1245.8 450.1,1246.4 448.2,1247.1 446.3,1247.8 444.4,1248.4 442.5,1249.1 440.6,1249.7 438.7,1250.3 436.8,1251.0 434.9,1251.6 433.0,1252.2 431.1,1252.8 429.2,1253.4 427.3,1254.0 425.4,1254.6 423.5,1255.3 421.6,1255.9 419.7,1256.5 417.8,1257.1 415.9,1257.7 414.0,1258.3 412.1,1258.9 410.2,1259.5 408.3,1260.1 406.4,1260.7 404.4,1261.3 402.5,1261.9 400.6,1262.6 398.7,1263.2 396.8,1263.8 394.9,1264.4 393.0,1265.1 391.1,1265.7 389.3,1266.3 387.4,1267.0 385.5,1267.6 383.6,1268.3 381.7,1268.9 379.8,1269.5 377.8,1270.0 375.9,1270.6 374.0,1271.1 372.0,1271.6 370.1,1272.0 368.1,1272.4 366.2,1272.9 364.2,1273.3 362.3,1273.7 360.3,1274.1 358.4,1274.6 356.4,1275.0 354.5,1275.5 352.6,1275.9 350.6,1276.3 348.7,1276.6 346.7,1276.9 344.7,1277.0 342.7,1277.2 340.7,1277.2 338.7,1277.3 336.7,1277.3 334.7,1277.3 332.7,1277.3 330.7,1277.3 328.7,1277.2 326.7,1277.2 324.7,1277.2 322.7,1277.2 320.7,1277.2 318.7,1277.2 316.7,1277.2 314.7,1277.1 312.7,1277.0 310.8,1276.9 308.8,1276.8 306.8,1276.6 304.8,1276.4 302.8,1276.1 300.8,1275.9 298.8,1275.6 296.9,1275.3 294.9,1275.0 292.9,1274.7 290.9,1274.4 289.0,1274.1 287.0,1273.8 285.0,1273.5 283.0,1273.2 281.0,1272.9 279.1,1272.6 277.1,1272.3 275.1,1272.0 273.1,1271.7 271.1,1271.4 269.2,1271.1 267.2,1270.8 265.2,1270.5 263.2,1270.2 261.3,1269.9 259.3,1269.6 257.3,1269.3 255.3,1269.0 253.3,1268.7 251.4,1268.4 249.4,1268.1 247.4,1267.9 245.4,1267.6 243.5,1267.3 241.5,1267.0 239.5,1266.7 237.5,1266.4 235.5,1266.1 233.6,1265.7 231.6,1265.4 229.6,1265.1 227.6,1264.9 225.6,1264.6 223.7,1264.3 221.7,1264.1 219.7,1263.9 217.7,1263.7 215.7,1263.5 213.7,1263.4 211.7,1263.2 209.7,1263.0 207.7,1262.8 205.7,1262.6 203.8,1262.4 201.8,1262.2 199.8,1262.0 197.8,1261.8 197.3,1261.7" fill="none" stroke="#1e1e1e" stroke-width="2.0" stroke-linejoin="round"/>
<path d="M643.3,1181.0L616.9,1183.0L621.7,1176.7L619.7,1168.9Z" fill="#000"/>
<path d="M395.5,1264.2L417.6,1249.5L416.4,1257.5L422.0,1263.2Z" fill="#000"/>
<path d="M196.9,1384.4 197.6,1382.6 198.3,1380.9 199.2,1379.3 200.3,1377.8 201.5,1376.4 202.9,1375.2 204.4,1374.1 206.1,1373.1 207.9,1372.2 209.7,1371.5 211.5,1370.8 213.4,1370.2 215.3,1369.6 217.3,1369.1 219.2,1368.6 221.1,1368.1 223.1,1367.7 225.0,1367.2 227.0,1366.8 229.0,1366.4 230.9,1366.0 232.9,1365.7 234.8,1365.3 236.8,1364.9 238.8,1364.5 240.7,1364.2 242.7,1363.8 244.7,1363.4 246.6,1363.1 248.6,1362.7 250.6,1362.3 252.5,1362.0 254.5,1361.6 256.5,1361.3 258.5,1361.0 260.4,1360.6 262.4,1360.3 264.4,1360.0 266.3,1359.7 268.3,1359.3 270.3,1359.0 272.3,1358.7 274.2,1358.4 276.2,1358.1 278.2,1357.8 280.2,1357.5 282.2,1357.2 284.1,1356.9 286.1,1356.6 288.1,1356.3 290.1,1356.0 292.0,1355.7 294.0,1355.4 296.0,1355.1 298.0,1354.8 300.0,1354.5 301.9,1354.2 303.9,1353.9 305.9,1353.6 307.9,1353.3 309.8,1353.0 311.8,1352.7 313.8,1352.4 315.8,1352.1 317.8,1351.8 319.7,1351.5 321.7,1351.2 323.7,1350.9 325.7,1350.6 327.6,1350.4 329.6,1350.1 331.6,1349.8 333.6,1349.5 335.6,1349.2 337.5,1348.9 339.5,1348.6 341.5,1348.3 343.5,1348.0 345.4,1347.6 347.4,1347.3 349.4,1346.9 351.3,1346.6 353.3,1346.2 355.3,1345.8 357.2,1345.4 359.2,1344.9 361.1,1344.5 363.1,1344.1 365.0,1343.6 367.0,1343.2 368.9,1342.8 370.9,1342.4 372.9,1341.9 374.8,1341.5 376.8,1341.1 378.7,1340.7 380.7,1340.4 382.7,1340.0 384.6,1339.6 386.6,1339.3 388.6,1338.9 390.5,1338.6 392.5,1338.2 394.5,1337.9 396.4,1337.5 398.4,1337.2 400.4,1336.8 402.3,1336.5 404.3,1336.1 406.3,1335.7 408.2,1335.4 410.2,1335.0 412.2,1334.6 414.1,1334.2 416.1,1333.9 418.1,1333.5 420.0,1333.1 422.0,1332.7 424.0,1332.3 425.9,1331.9 427.9,1331.5 429.8,1331.1 431.8,1330.7 433.7,1330.3 435.7,1329.8 437.6,1329.4 439.6,1328.9 441.5,1328.5 443.5,1328.0 445.4,1327.5 447.4,1327.1 449.3,1326.5 451.2,1326.0 453.2,1325.5 455.1,1324.9 457.0,1324.4 458.9,1323.8 460.8,1323.2 462.8,1322.7 464.7,1322.1 466.6,1321.4 468.5,1320.8 470.4,1320.2 472.3,1319.6 474.2,1318.9 476.1,1318.3 478.0,1317.7 479.8,1317.0 481.7,1316.4 483.6,1315.7 485.5,1315.0 487.4,1314.4 489.3,1313.7 491.2,1313.0 493.0,1312.3 494.9,1311.6 496.8,1310.9 498.7,1310.2 500.5,1309.5 502.4,1308.8 504.3,1308.1 506.1,1307.4 508.0,1306.6 509.9,1305.9 511.7,1305.2 513.6,1304.5 515.5,1303.8 517.3,1303.1 519.2,1302.3 521.1,1301.6 522.9,1300.9 524.8,1300.2 526.7,1299.5 528.6,1298.8 530.4,1298.1 532.3,1297.4 534.2,1296.7 536.1,1296.1 538.0,1295.4 539.9,1294.8 541.8,1294.2 543.7,1293.7 545.6,1293.1 547.5,1292.6 549.5,1292.1 551.4,1291.6 553.4,1291.2 555.3,1290.8 557.3,1290.4 559.2,1290.0 561.2,1289.7 563.2,1289.4 565.2,1289.1 567.2,1288.8 569.1,1288.6 571.1,1288.4 573.1,1288.2 575.1,1288.1 577.1,1288.0 579.1,1287.9 581.1,1287.8 583.1,1287.7 585.1,1287.7 587.1,1287.7 589.1,1287.7 591.1,1287.7 593.1,1287.7 595.1,1287.8 597.1,1287.9 599.1,1288.0 601.1,1288.2 603.1,1288.3 605.1,1288.5 607.1,1288.7 609.0,1289.0 611.0,1289.2 613.0,1289.5 615.0,1289.7 617.0,1290.0 618.9,1290.3 620.9,1290.6 622.9,1291.0 624.9,1291.3 626.8,1291.7 628.8,1292.0 630.8,1292.4 632.7,1292.7 634.7,1293.1 636.7,1293.5 638.6,1293.9 640.6,1294.2 642.6,1294.6 644.5,1295.0 646.5,1295.3 648.5,1295.7 650.4,1296.1 652.4,1296.4 654.4,1296.8 656.3,1297.1 658.3,1297.5 660.3,1297.8 662.2,1298.2 664.2,1298.5 666.2,1298.9 668.1,1299.2 670.1,1299.6 672.1,1299.9 674.1,1300.3 676.0,1300.6 678.0,1300.9 680.0,1301.3 681.9,1301.6 683.9,1301.9 685.9,1302.3 687.9,1302.6 689.8,1302.9 691.8,1303.2 693.8,1303.5 695.8,1303.8 697.8,1304.0 699.7,1304.3 701.7,1304.5 703.7,1304.8 705.7,1305.0 707.7,1305.2 709.7,1305.4 711.7,1305.6 713.7,1305.7 715.7,1305.9 717.7,1306.1 719.6,1306.2 721.6,1306.4 723.6,1306.5 725.6,1306.7 727.6,1306.9 729.6,1307.0 731.6,1307.2 733.6,1307.4 735.6,1307.6 737.6,1307.8 739.6,1308.0 741.6,1308.1 743.6,1308.3 745.5,1308.5 747.5,1308.7 749.5,1308.9 751.5,1309.0 753.5,1309.2 755.5,1309.3 757.5,1309.5 759.5,1309.6 761.5,1309.7 763.5,1309.8 765.5,1309.9 767.5,1310.0 769.5,1310.1 771.5,1310.1 773.5,1310.2 775.5,1310.2 777.5,1310.3 779.5,1310.3 781.5,1310.4 783.5,1310.4 785.5,1310.4 787.5,1310.5 789.5,1310.5 791.5,1310.5 793.5,1310.6 795.5,1310.6 797.5,1310.6 799.5,1310.6 801.5,1310.7 803.5,1310.7 805.5,1310.7 807.5,1310.7 809.5,1310.7 811.5,1310.7 813.5,1310.8 815.5,1310.8 817.5,1310.8 819.5,1310.8 821.5,1310.8 823.5,1310.8 825.5,1310.8 827.5,1310.8 829.5,1310.9 831.5,1310.9 833.5,1310.9 835.5,1310.9 837.5,1310.9 839.5,1310.9 841.5,1310.9 843.5,1310.9 845.5,1311.0 847.5,1311.0 849.5,1311.0 851.5,1311.0 853.5,1311.0 855.5,1311.0 857.5,1311.0 859.5,1311.1 861.5,1311.1 863.5,1311.1 865.5,1311.1 867.5,1311.1 869.5,1311.1 871.5,1311.1 873.5,1311.2 875.5,1311.2 877.5,1311.2 879.5,1311.2 881.5,1311.2 883.5,1311.2 885.5,1311.3 887.5,1311.3 889.5,1311.3 891.5,1311.3 893.5,1311.3 895.5,1311.3 897.5,1311.3 899.5,1311.4 901.5,1311.4 903.5,1311.4 905.5,1311.4 907.5,1311.4 909.5,1311.4 911.5,1311.5 913.5,1311.5 915.5,1311.5 917.5,1311.5 919.5,1311.5 921.5,1311.5 923.5,1311.5 925.5,1311.6 927.5,1311.6 929.5,1311.6 931.5,1311.6 933.5,1311.6 935.5,1311.6 937.5,1311.7 939.5,1311.7 941.5,1311.7 943.5,1311.7 945.5,1311.7 947.5,1311.7 949.5,1311.7 951.5,1311.8 953.5,1311.8 955.5,1311.8 957.0,1311.8" fill="none" stroke="#1e1e1e" stroke-width="2.0" stroke-linejoin="round"/>
<path d="M957.0,1328.5 955.0,1328.5 953.0,1328.6 951.0,1328.6 949.0,1328.7 947.0,1328.7 945.0,1328.8 943.0,1328.8 941.0,1328.9 939.0,1328.9 937.0,1328.9 935.0,1329.0 933.0,1329.0 931.0,1329.1 929.0,1329.1 927.0,1329.1 925.0,1329.2 923.0,1329.2 921.0,1329.3 919.0,1329.3 917.0,1329.4 915.0,1329.4 913.0,1329.4 911.0,1329.5 909.0,1329.5 907.0,1329.6 905.0,1329.6 903.0,1329.6 901.0,1329.7 899.0,1329.7 897.0,1329.8 895.0,1329.8 893.0,1329.9 891.0,1329.9 889.0,1329.9 887.0,1330.0 885.0,1330.0 883.0,1330.1 881.0,1330.1 879.0,1330.2 877.0,1330.2 875.0,1330.2 873.0,1330.3 871.0,1330.3 869.0,1330.4 867.0,1330.4 865.0,1330.5 863.0,1330.5 861.0,1330.5 859.0,1330.6 857.0,1330.6 855.0,1330.7 853.0,1330.7 851.0,1330.8 849.0,1330.8 847.0,1330.9 845.0,1330.9 843.0,1331.0 841.0,1331.0 839.0,1331.1 837.0,1331.1 835.0,1331.2 833.0,1331.2 831.0,1331.3 829.0,1331.3 827.0,1331.4 825.0,1331.4 823.0,1331.5 821.0,1331.5 819.0,1331.6 817.0,1331.6 815.0,1331.7 813.0,1331.7 811.0,1331.8 809.0,1331.9 807.0,1331.9 805.0,1332.0 803.0,1332.1 801.0,1332.1 799.0,1332.2 797.0,1332.3 795.0,1332.3 793.0,1332.4 791.0,1332.5 789.0,1332.6 787.0,1332.6 785.0,1332.7 783.0,1332.8 781.0,1332.9 779.0,1333.0 777.0,1333.0 775.0,1333.1 773.0,1333.2 771.0,1333.3 769.0,1333.4 767.0,1333.5 765.0,1333.6 763.0,1333.6 761.0,1333.7 759.0,1333.8 757.0,1333.9 755.0,1334.0 753.0,1334.0 751.0,1334.1 749.0,1334.2 747.0,1334.3 745.0,1334.3 743.0,1334.4 741.0,1334.5 739.0,1334.5 737.0,1334.6 735.0,1334.6 733.0,1334.7 731.0,1334.7 729.0,1334.7 727.0,1334.8 725.0,1334.8 723.0,1334.8 721.0,1334.7 719.0,1334.7 717.0,1334.7 715.0,1334.6 713.0,1334.6 711.0,1334.6 709.0,1334.5 707.0,1334.5 705.0,1334.5 703.0,1334.5 701.0,1334.5 699.0,1334.5 697.0,1334.5 695.0,1334.6 693.0,1334.6 691.0,1334.7 689.0,1334.7 687.0,1334.8 685.0,1334.9 683.0,1335.0 681.0,1335.1 679.0,1335.2 677.0,1335.3 675.0,1335.4 673.0,1335.5 671.0,1335.6 669.0,1335.7 667.0,1335.7 665.0,1335.8 663.0,1335.9 661.0,1336.0 659.0,1336.1 657.0,1336.2 655.0,1336.3 653.0,1336.4 651.0,1336.5 649.0,1336.6 647.0,1336.7 645.0,1336.8 643.0,1336.9 641.0,1337.0 639.0,1337.1 637.0,1337.2 635.0,1337.3 633.0,1337.4 631.0,1337.6 629.0,1337.7 627.0,1337.8 625.1,1338.0 623.1,1338.1 621.1,1338.2 619.1,1338.4 617.1,1338.5 615.1,1338.7 613.1,1338.8 611.1,1338.9 609.1,1339.1 607.1,1339.2 605.1,1339.4 603.1,1339.5 601.1,1339.7 599.1,1339.8 597.1,1340.0 595.1,1340.1 593.1,1340.3 591.1,1340.4 589.1,1340.6 587.1,1340.7 585.1,1340.9 583.1,1341.0 581.2,1341.2 579.2,1341.3 577.2,1341.5 575.2,1341.7 573.2,1341.8 571.2,1342.0 569.2,1342.1 567.2,1342.3 565.2,1342.5 563.2,1342.6 561.2,1342.8 559.2,1343.0 557.2,1343.2 555.2,1343.3 553.2,1343.5 551.2,1343.7 549.3,1343.9 547.3,1344.1 545.3,1344.2 543.3,1344.4 541.3,1344.6 539.3,1344.8 537.3,1345.0 535.3,1345.2 533.3,1345.4 531.3,1345.7 529.4,1345.9 527.4,1346.1 525.4,1346.4 523.4,1346.7 521.4,1346.9 519.4,1347.2 517.5,1347.5 515.5,1347.8 513.5,1348.1 511.5,1348.4 509.5,1348.7 507.6,1349.0 505.6,1349.4 503.6,1349.7 501.7,1350.0 499.7,1350.4 497.7,1350.7 495.7,1351.1 493.8,1351.5 491.8,1351.8 489.8,1352.2 487.9,1352.6 485.9,1353.0 484.0,1353.4 482.0,1353.7 480.0,1354.1 478.1,1354.5 476.1,1354.9 474.1,1355.3 472.2,1355.7 470.2,1356.1 468.3,1356.6 466.3,1357.0 464.4,1357.5 462.4,1357.9 460.5,1358.4 458.5,1358.9 456.6,1359.4 454.7,1359.9 452.8,1360.5 450.8,1361.1 448.9,1361.7 447.0,1362.3 445.1,1362.9 443.2,1363.5 441.3,1364.2 439.5,1364.9 437.6,1365.5 435.7,1366.2 433.8,1366.9 432.0,1367.7 430.1,1368.4 428.2,1369.1 426.4,1369.8 424.5,1370.6 422.7,1371.3 420.8,1372.1 418.9,1372.8 417.1,1373.6 415.2,1374.3 413.4,1375.1 411.5,1375.8 409.7,1376.6 407.8,1377.3 406.0,1378.1 404.1,1378.8 402.2,1379.5 400.4,1380.3 398.5,1381.0 396.7,1381.7 394.8,1382.4 392.9,1383.1 391.0,1383.8 389.1,1384.5 387.3,1385.2 385.4,1385.8 383.5,1386.4 381.6,1387.0 379.6,1387.6 377.7,1388.2 375.8,1388.8 373.9,1389.3 372.0,1389.9 370.1,1390.5 368.1,1391.0 366.2,1391.6 364.3,1392.2 362.4,1392.8 360.5,1393.4 358.6,1393.9 356.6,1394.5 354.7,1395.0 352.8,1395.4 350.8,1395.8 348.9,1396.2 346.9,1396.5 344.9,1396.7 342.9,1396.9 340.9,1397.1 338.9,1397.2 336.9,1397.3 334.9,1397.4 332.9,1397.5 330.9,1397.5 328.9,1397.5 326.9,1397.5 324.9,1397.4 322.9,1397.4 321.0,1397.3 319.0,1397.1 317.0,1397.0 315.0,1396.8 313.0,1396.6 311.0,1396.4 309.0,1396.1 307.0,1395.9 305.0,1395.6 303.1,1395.3 301.1,1395.0 299.1,1394.7 297.1,1394.4 295.2,1394.1 293.2,1393.8 291.2,1393.5 289.2,1393.2 287.3,1392.9 285.3,1392.5 283.3,1392.2 281.3,1391.9 279.4,1391.5 277.4,1391.2 275.4,1390.9 273.4,1390.5 271.5,1390.2 269.5,1389.9 267.5,1389.5 265.5,1389.2 263.6,1388.9 261.6,1388.6 259.6,1388.3 257.6,1388.0 255.7,1387.7 253.7,1387.5 251.7,1387.2 249.7,1387.0 247.7,1386.7 245.7,1386.5 243.7,1386.2 241.8,1386.0 239.8,1385.7 237.8,1385.4 235.8,1385.1 233.9,1384.9 231.9,1384.7 229.9,1384.5 227.9,1384.4 225.9,1384.3 223.9,1384.2 221.9,1384.2 219.9,1384.2 217.9,1384.2 215.9,1384.3 213.9,1384.3 211.9,1384.3 209.9,1384.3 207.9,1384.4 205.9,1384.4 203.9,1384.4 201.9,1384.4 199.9,1384.4 197.9,1384.4 196.9,1384.4" fill="none" stroke="#1e1e1e" stroke-width="2.0" stroke-linejoin="round"/>
<path d="M655.6,1297.0L629.2,1299.6L634.0,1293.1L631.8,1285.4Z" fill="#000"/>
<path d="M387.7,1385.1L408.9,1369.3L408.2,1377.2L414.1,1382.7Z" fill="#000"/>
<path d="M197.8,1508.1 197.8,1496.7 199.4,1495.5 201.0,1494.4 202.7,1493.4 204.4,1492.4 206.2,1491.5 208.0,1490.7 209.8,1489.9 211.7,1489.2 213.6,1488.6 215.5,1488.0 217.4,1487.5 219.3,1487.0 221.3,1486.5 223.2,1486.0 225.2,1485.5 227.1,1485.1 229.1,1484.7 231.0,1484.2 233.0,1483.8 234.9,1483.4 236.9,1482.9 238.8,1482.5 240.8,1482.1 242.7,1481.7 244.7,1481.3 246.7,1480.9 248.6,1480.5 250.6,1480.1 252.6,1479.7 254.5,1479.4 256.5,1479.0 258.5,1478.6 260.4,1478.3 262.4,1477.9 264.4,1477.6 266.3,1477.2 268.3,1476.9 270.3,1476.5 272.2,1476.2 274.2,1475.8 276.2,1475.5 278.2,1475.1 280.1,1474.8 282.1,1474.4 284.1,1474.1 286.0,1473.7 288.0,1473.4 290.0,1473.0 291.9,1472.7 293.9,1472.4 295.9,1472.0 297.9,1471.7 299.8,1471.3 301.8,1471.0 303.8,1470.7 305.7,1470.3 307.7,1470.0 309.7,1469.7 311.7,1469.3 313.6,1469.0 315.6,1468.6 317.6,1468.3 319.6,1468.0 321.5,1467.6 323.5,1467.3 325.5,1467.0 327.5,1466.7 329.4,1466.4 331.4,1466.1 333.4,1465.8 335.4,1465.5 337.3,1465.2 339.3,1464.9 341.3,1464.6 343.3,1464.3 345.3,1464.0 347.2,1463.7 349.2,1463.4 351.2,1463.0 353.2,1462.7 355.1,1462.3 357.1,1462.0 359.1,1461.6 361.0,1461.2 363.0,1460.9 364.9,1460.5 366.9,1460.1 368.9,1459.7 370.8,1459.3 372.8,1458.9 374.8,1458.5 376.7,1458.1 378.7,1457.7 380.6,1457.3 382.6,1456.9 384.6,1456.5 386.5,1456.2 388.5,1455.8 390.5,1455.4 392.4,1455.0 394.4,1454.6 396.3,1454.2 398.3,1453.8 400.3,1453.4 402.2,1453.0 404.2,1452.6 406.1,1452.2 408.1,1451.8 410.1,1451.4 412.0,1451.0 414.0,1450.6 416.0,1450.2 417.9,1449.8 419.9,1449.4 421.8,1449.0 423.8,1448.7 425.8,1448.3 427.7,1447.9 429.7,1447.5 431.7,1447.1 433.6,1446.8 435.6,1446.4 437.6,1446.0 439.5,1445.6 441.5,1445.2 443.4,1444.9 445.4,1444.5 447.4,1444.1 449.3,1443.7 451.3,1443.3 453.3,1442.9 455.2,1442.5 457.2,1442.1 459.1,1441.7 461.1,1441.2 463.0,1440.8 465.0,1440.4 466.9,1439.9 468.9,1439.5 470.8,1439.1 472.8,1438.6 474.7,1438.2 476.7,1437.7 478.6,1437.2 480.6,1436.8 482.5,1436.3 484.5,1435.8 486.4,1435.3 488.4,1434.8 490.3,1434.3 492.2,1433.8 494.2,1433.3 496.1,1432.8 498.0,1432.2 499.9,1431.7 501.9,1431.1 503.8,1430.5 505.7,1429.9 507.6,1429.3 509.5,1428.7 511.4,1428.1 513.3,1427.5 515.2,1426.8 517.1,1426.2 519.0,1425.5 520.8,1424.8 522.7,1424.2 524.6,1423.5 526.5,1422.8 528.4,1422.1 530.3,1421.4 532.1,1420.7 534.0,1420.1 535.9,1419.4 537.8,1418.7 539.7,1418.0 541.5,1417.3 543.4,1416.7 545.3,1416.0 547.2,1415.3 549.1,1414.6 551.0,1414.0 552.8,1413.3 554.7,1412.7 556.6,1412.0 558.5,1411.4 560.5,1410.8 562.4,1410.3 564.3,1409.8 566.2,1409.3 568.2,1408.9 570.2,1408.5 572.1,1408.1 574.1,1407.8 576.1,1407.5 578.0,1407.2 580.0,1406.9 582.0,1406.7 584.0,1406.5 586.0,1406.3 588.0,1406.1 590.0,1406.0 592.0,1405.9 594.0,1405.8 596.0,1405.7 598.0,1405.6 600.0,1405.6 602.0,1405.6 604.0,1405.6 606.0,1405.6 608.0,1405.6 610.0,1405.6 612.0,1405.7 614.0,1405.7 616.0,1405.8 618.0,1405.9 620.0,1406.0 622.0,1406.1 624.0,1406.2 626.0,1406.4 627.9,1406.5 629.9,1406.7 631.9,1406.9 633.9,1407.0 635.9,1407.2 637.9,1407.4 639.9,1407.6 641.9,1407.9 643.9,1408.1 645.9,1408.4 647.8,1408.6 649.8,1408.9 651.8,1409.1 653.8,1409.4 655.8,1409.7 657.7,1410.0 659.7,1410.3 661.7,1410.6 663.7,1410.9 665.7,1411.2 667.6,1411.5 669.6,1411.9 671.6,1412.2 673.6,1412.5 675.5,1412.8 677.5,1413.1 679.5,1413.4 681.5,1413.7 683.5,1414.0 685.4,1414.3 687.4,1414.5 689.4,1414.8 691.4,1415.1 693.4,1415.4 695.3,1415.6 697.3,1415.9 699.3,1416.1 701.3,1416.4 703.3,1416.6 705.3,1416.8 707.3,1417.1 709.3,1417.3 711.2,1417.5 713.2,1417.7 715.2,1418.0 717.2,1418.2 719.2,1418.4 721.2,1418.6 723.2,1418.8 725.2,1419.0 727.2,1419.3 729.1,1419.5 731.1,1419.7 733.1,1419.9 735.1,1420.1 737.1,1420.3 739.1,1420.5 741.1,1420.7 743.1,1420.9 745.1,1421.1 747.1,1421.3 749.0,1421.5 751.0,1421.8 753.0,1422.0 755.0,1422.2 757.0,1422.3 759.0,1422.5 761.0,1422.7 763.0,1422.9 765.0,1423.1 767.0,1423.2 769.0,1423.4 771.0,1423.5 773.0,1423.6 775.0,1423.8 777.0,1423.9 778.9,1424.0 780.9,1424.1 782.9,1424.2 784.9,1424.2 786.9,1424.3 788.9,1424.4 790.9,1424.5 792.9,1424.5 794.9,1424.6 796.9,1424.6 798.9,1424.7 800.9,1424.7 802.9,1424.8 804.9,1424.8 806.9,1424.8 808.9,1424.9 810.9,1424.9 812.9,1424.9 814.9,1424.9 816.9,1424.9 818.9,1425.0 821.0,1425.0 823.0,1425.0 825.0,1425.0 827.0,1425.0 829.0,1425.0 831.0,1425.0 833.0,1425.0 835.0,1425.0 837.0,1425.0 839.0,1425.0 841.0,1425.0 843.0,1425.0 845.0,1425.1 847.0,1425.1 849.0,1425.1 851.0,1425.1 853.0,1425.1 855.0,1425.1 857.0,1425.2 859.0,1425.2 861.0,1425.2 863.0,1425.2 865.0,1425.2 867.0,1425.3 869.0,1425.3 871.0,1425.3 873.0,1425.3 875.0,1425.4 877.0,1425.4 879.0,1425.4 881.0,1425.4 883.0,1425.5 885.0,1425.5 887.0,1425.5 889.0,1425.6 891.0,1425.6 893.0,1425.6 895.0,1425.6 897.0,1425.7 899.0,1425.7 901.0,1425.7 903.0,1425.7 905.0,1425.8 907.0,1425.8 909.0,1425.8 911.0,1425.8 913.0,1425.9 915.0,1425.9 917.0,1425.9 919.0,1425.9 921.0,1426.0 923.0,1426.0 925.0,1426.0 927.0,1426.0 929.0,1426.1 931.0,1426.1 933.0,1426.1 935.0,1426.1 937.0,1426.2 939.0,1426.2 941.0,1426.2 943.0,1426.2 945.0,1426.3 947.0,1426.3 949.0,1426.3 951.0,1426.3 953.0,1426.4 955.0,1426.4 957.0,1426.4" fill="none" stroke="#1e1e1e" stroke-width="2.0" stroke-linejoin="round"/>
<path d="M957.0,1446.4 955.0,1446.4 953.0,1446.5 951.0,1446.5 949.0,1446.6 947.0,1446.6 945.0,1446.7 943.0,1446.7 941.0,1446.8 939.0,1446.8 937.0,1446.9 935.0,1446.9 933.0,1446.9 931.0,1447.0 929.0,1447.0 927.0,1447.1 925.0,1447.1 923.0,1447.2 921.0,1447.2 919.0,1447.3 917.0,1447.3 915.0,1447.3 913.0,1447.4 911.0,1447.4 909.0,1447.5 907.0,1447.5 905.0,1447.6 903.0,1447.6 901.0,1447.7 899.0,1447.7 897.0,1447.8 895.0,1447.8 893.0,1447.8 891.0,1447.9 889.0,1447.9 887.0,1448.0 885.0,1448.0 883.0,1448.1 881.0,1448.1 879.0,1448.2 877.0,1448.2 875.0,1448.2 873.0,1448.3 871.0,1448.3 869.0,1448.4 867.0,1448.4 865.0,1448.5 863.0,1448.5 861.0,1448.6 859.0,1448.6 857.0,1448.7 855.0,1448.7 853.0,1448.7 851.0,1448.8 849.0,1448.8 847.0,1448.9 845.0,1448.9 843.0,1449.0 841.0,1449.0 839.0,1449.1 837.0,1449.1 835.0,1449.2 833.0,1449.2 831.0,1449.3 829.0,1449.3 827.0,1449.4 825.0,1449.4 823.0,1449.5 821.0,1449.5 819.0,1449.6 817.0,1449.6 815.0,1449.7 813.0,1449.7 811.0,1449.8 809.0,1449.8 807.0,1449.9 805.0,1450.0 803.0,1450.0 801.0,1450.1 799.0,1450.1 797.0,1450.2 795.0,1450.2 793.0,1450.3 791.0,1450.3 789.0,1450.4 787.0,1450.5 785.0,1450.5 783.0,1450.6 781.0,1450.6 779.0,1450.7 777.0,1450.8 775.0,1450.8 773.0,1450.9 771.0,1450.9 769.0,1451.0 767.0,1451.1 765.0,1451.1 763.0,1451.2 761.0,1451.3 759.0,1451.3 757.0,1451.4 755.0,1451.5 753.0,1451.5 751.0,1451.6 749.0,1451.7 747.0,1451.7 745.0,1451.8 743.0,1451.9 741.0,1452.0 739.0,1452.0 737.0,1452.1 735.0,1452.2 733.0,1452.3 731.0,1452.3 729.0,1452.4 727.0,1452.5 725.0,1452.6 723.0,1452.7 721.0,1452.7 719.0,1452.8 717.0,1452.9 715.0,1453.0 713.0,1453.1 711.0,1453.1 709.0,1453.2 707.0,1453.3 705.0,1453.4 703.0,1453.5 701.0,1453.6 699.0,1453.6 697.0,1453.7 695.0,1453.8 693.0,1453.9 691.0,1454.0 689.0,1454.1 687.1,1454.2 685.1,1454.3 683.1,1454.4 681.1,1454.5 679.1,1454.6 677.1,1454.7 675.1,1454.8 673.1,1454.9 671.1,1455.0 669.1,1455.1 667.1,1455.2 665.1,1455.3 663.1,1455.4 661.1,1455.5 659.1,1455.6 657.1,1455.7 655.1,1455.8 653.1,1455.9 651.1,1456.0 649.1,1456.1 647.1,1456.2 645.1,1456.3 643.1,1456.5 641.1,1456.6 639.1,1456.7 637.1,1456.8 635.1,1456.9 633.1,1457.0 631.1,1457.1 629.1,1457.3 627.1,1457.4 625.1,1457.5 623.1,1457.6 621.1,1457.7 619.1,1457.9 617.1,1458.0 615.1,1458.1 613.1,1458.2 611.1,1458.4 609.2,1458.5 607.2,1458.6 605.2,1458.7 603.2,1458.9 601.2,1459.0 599.2,1459.1 597.2,1459.2 595.2,1459.4 593.2,1459.5 591.2,1459.7 589.2,1459.8 587.2,1459.9 585.2,1460.1 583.2,1460.2 581.2,1460.3 579.2,1460.5 577.2,1460.6 575.2,1460.7 573.2,1460.9 571.2,1461.0 569.2,1461.2 567.2,1461.3 565.2,1461.5 563.2,1461.6 561.3,1461.8 559.3,1461.9 557.3,1462.1 555.3,1462.3 553.3,1462.5 551.3,1462.7 549.3,1462.9 547.3,1463.1 545.3,1463.3 543.3,1463.5 541.3,1463.7 539.4,1464.0 537.4,1464.2 535.4,1464.5 533.4,1464.7 531.4,1465.0 529.4,1465.3 527.5,1465.6 525.5,1465.9 523.5,1466.2 521.5,1466.5 519.6,1466.8 517.6,1467.1 515.6,1467.4 513.6,1467.7 511.7,1468.1 509.7,1468.4 507.7,1468.7 505.7,1469.1 503.8,1469.4 501.8,1469.7 499.8,1470.1 497.9,1470.5 495.9,1470.8 493.9,1471.2 492.0,1471.6 490.0,1471.9 488.0,1472.3 486.1,1472.7 484.1,1473.1 482.1,1473.5 480.2,1473.9 478.2,1474.3 476.3,1474.7 474.3,1475.1 472.4,1475.5 470.4,1475.9 468.4,1476.4 466.5,1476.8 464.5,1477.2 462.6,1477.6 460.6,1478.1 458.7,1478.5 456.7,1479.0 454.8,1479.4 452.8,1479.9 450.9,1480.3 448.9,1480.7 447.0,1481.2 445.0,1481.7 443.1,1482.1 441.1,1482.6 439.2,1483.1 437.3,1483.6 435.3,1484.1 433.4,1484.6 431.5,1485.1 429.5,1485.6 427.6,1486.2 425.7,1486.7 423.8,1487.3 421.8,1487.9 419.9,1488.5 418.0,1489.1 416.1,1489.7 414.2,1490.4 412.4,1491.0 410.5,1491.7 408.6,1492.4 406.7,1493.1 404.9,1493.8 403.0,1494.5 401.1,1495.2 399.2,1495.9 397.4,1496.7 395.5,1497.4 393.6,1498.1 391.8,1498.8 389.9,1499.5 388.0,1500.2 386.1,1500.9 384.2,1501.5 382.4,1502.2 380.5,1502.8 378.6,1503.4 376.7,1504.0 374.7,1504.6 372.8,1505.2 370.9,1505.8 369.0,1506.4 367.1,1507.0 365.2,1507.6 363.3,1508.2 361.4,1508.9 359.5,1509.5 357.6,1510.2 355.7,1510.9 353.9,1511.5 352.0,1512.1 350.1,1512.8 348.2,1513.3 346.2,1513.9 344.3,1514.4 342.4,1514.8 340.4,1515.2 338.4,1515.6 336.5,1515.9 334.5,1516.1 332.5,1516.3 330.5,1516.5 328.5,1516.6 326.5,1516.7 324.5,1516.8 322.5,1516.9 320.5,1516.9 318.5,1516.9 316.5,1516.8 314.5,1516.8 312.5,1516.8 310.5,1516.7 308.5,1516.6 306.5,1516.5 304.5,1516.4 302.5,1516.3 300.5,1516.1 298.5,1516.0 296.6,1515.8 294.6,1515.6 292.6,1515.4 290.6,1515.2 288.6,1514.9 286.6,1514.7 284.6,1514.4 282.7,1514.2 280.7,1513.9 278.7,1513.6 276.7,1513.3 274.7,1512.9 272.8,1512.6 270.8,1512.2 268.8,1511.9 266.9,1511.5 264.9,1511.2 262.9,1510.8 261.0,1510.5 259.0,1510.1 257.0,1509.8 255.1,1509.4 253.1,1509.1 251.1,1508.8 249.1,1508.5 247.1,1508.2 245.2,1507.9 243.2,1507.7 241.2,1507.5 239.2,1507.3 237.2,1507.1 235.2,1507.0 233.2,1506.9 231.2,1506.9 229.2,1506.8 227.2,1506.8 225.2,1506.7 223.2,1506.7 221.2,1506.7 219.2,1506.7 217.2,1506.7 215.2,1506.8 213.2,1506.8 211.2,1506.9 209.2,1507.0 207.2,1507.1 205.2,1507.3 203.3,1507.5 201.3,1507.7 199.3,1507.9 197.8,1508.1" fill="none" stroke="#1e1e1e" stroke-width="2.0" stroke-linejoin="round"/>
<path d="M692.7,1415.3L666.4,1418.7L670.9,1412.1L668.5,1404.4Z" fill="#000"/>
<path d="M382.8,1502.1L404.3,1486.6L403.5,1494.5L409.2,1500.1Z" fill="#000"/>
<path d="M197.8,1632.1 197.8,1619.9 199.4,1618.7 201.0,1617.5 202.6,1616.3 204.2,1615.2 205.9,1614.1 207.6,1613.0 209.3,1612.0 211.1,1611.1 212.9,1610.3 214.7,1609.4 216.5,1608.7 218.4,1607.9 220.3,1607.2 222.1,1606.5 224.0,1605.9 225.9,1605.2 227.8,1604.6 229.7,1604.0 231.6,1603.4 233.5,1602.8 235.4,1602.2 237.4,1601.6 239.3,1601.1 241.2,1600.5 243.1,1600.0 245.1,1599.5 247.0,1599.0 249.0,1598.5 250.9,1598.1 252.8,1597.6 254.8,1597.1 256.7,1596.7 258.7,1596.2 260.6,1595.8 262.6,1595.3 264.5,1594.9 266.5,1594.4 268.4,1594.0 270.4,1593.6 272.4,1593.1 274.3,1592.7 276.3,1592.3 278.2,1591.8 280.2,1591.4 282.1,1591.0 284.1,1590.5 286.0,1590.1 288.0,1589.7 289.9,1589.3 291.9,1588.9 293.9,1588.5 295.8,1588.1 297.8,1587.7 299.8,1587.3 301.7,1586.9 303.7,1586.5 305.6,1586.1 307.6,1585.7 309.6,1585.3 311.5,1585.0 313.5,1584.6 315.5,1584.2 317.4,1583.8 319.4,1583.4 321.4,1583.1 323.3,1582.7 325.3,1582.3 327.3,1581.9 329.2,1581.6 331.2,1581.2 333.2,1580.9 335.1,1580.5 337.1,1580.2 339.1,1579.8 341.0,1579.5 343.0,1579.1 345.0,1578.8 346.9,1578.4 348.9,1578.0 350.9,1577.6 352.8,1577.2 354.8,1576.7 356.7,1576.3 358.7,1575.8 360.6,1575.4 362.6,1574.9 364.5,1574.4 366.4,1573.9 368.4,1573.5 370.3,1573.0 372.3,1572.6 374.3,1572.2 376.2,1571.8 378.2,1571.4 380.2,1571.1 382.1,1570.7 384.1,1570.4 386.1,1570.1 388.0,1569.8 390.0,1569.5 392.0,1569.2 394.0,1568.9 396.0,1568.6 398.0,1568.4 399.9,1568.1 401.9,1567.8 403.9,1567.6 405.9,1567.3 407.9,1567.1 409.9,1566.8 411.8,1566.6 413.8,1566.3 415.8,1566.0 417.8,1565.8 419.8,1565.5 421.8,1565.3 423.7,1565.0 425.7,1564.7 427.7,1564.5 429.7,1564.2 431.7,1564.0 433.7,1563.7 435.7,1563.5 437.6,1563.2 439.6,1563.0 441.6,1562.7 443.6,1562.5 445.6,1562.2 447.6,1562.0 449.6,1561.7 451.5,1561.5 453.5,1561.2 455.5,1561.0 457.5,1560.7 459.5,1560.5 461.5,1560.2 463.4,1559.9 465.4,1559.6 467.4,1559.4 469.4,1559.1 471.4,1558.8 473.3,1558.5 475.3,1558.2 477.3,1557.9 479.3,1557.6 481.3,1557.3 483.2,1557.0 485.2,1556.7 487.2,1556.4 489.2,1556.1 491.2,1555.8 493.1,1555.5 495.1,1555.1 497.1,1554.8 499.0,1554.5 501.0,1554.1 503.0,1553.8 505.0,1553.4 506.9,1553.0 508.9,1552.7 510.8,1552.3 512.8,1551.9 514.8,1551.4 516.7,1551.0 518.7,1550.6 520.6,1550.1 522.6,1549.6 524.5,1549.2 526.4,1548.7 528.4,1548.2 530.3,1547.7 532.2,1547.1 534.2,1546.6 536.1,1546.1 538.0,1545.5 540.0,1545.0 541.9,1544.4 543.8,1543.9 545.7,1543.3 547.6,1542.8 549.6,1542.2 551.5,1541.6 553.4,1541.1 555.3,1540.5 557.2,1539.9 559.2,1539.3 561.1,1538.8 563.0,1538.2 564.9,1537.6 566.8,1537.1 568.7,1536.5 570.7,1535.9 572.6,1535.3 574.5,1534.8 576.4,1534.2 578.3,1533.6 580.2,1533.0 582.2,1532.5 584.1,1531.9 586.0,1531.4 587.9,1530.8 589.9,1530.3 591.8,1529.8 593.7,1529.3 595.7,1528.8 597.6,1528.3 599.6,1527.8 601.5,1527.3 603.4,1526.9 605.4,1526.5 607.4,1526.1 609.3,1525.7 611.3,1525.3 613.3,1525.0 615.2,1524.7 617.2,1524.4 619.2,1524.2 621.2,1523.9 623.2,1523.7 625.2,1523.5 627.2,1523.4 629.2,1523.2 631.2,1523.1 633.2,1523.0 635.1,1522.9 637.1,1522.8 639.1,1522.7 641.1,1522.7 643.1,1522.7 645.1,1522.6 647.1,1522.6 649.1,1522.7 651.2,1522.7 653.2,1522.7 655.2,1522.7 657.2,1522.8 659.2,1522.8 661.2,1522.9 663.2,1522.9 665.2,1523.0 667.2,1523.1 669.2,1523.2 671.2,1523.2 673.2,1523.3 675.1,1523.4 677.1,1523.6 679.1,1523.7 681.1,1523.8 683.1,1524.0 685.1,1524.1 687.1,1524.3 689.1,1524.5 691.1,1524.6 693.1,1524.8 695.1,1525.0 697.1,1525.2 699.1,1525.5 701.1,1525.7 703.1,1525.9 705.0,1526.1 707.0,1526.3 709.0,1526.6 711.0,1526.8 713.0,1527.0 715.0,1527.3 717.0,1527.5 719.0,1527.8 720.9,1528.0 722.9,1528.2 724.9,1528.5 726.9,1528.7 728.9,1529.0 730.9,1529.2 732.9,1529.5 734.8,1529.7 736.8,1530.0 738.8,1530.2 740.8,1530.5 742.8,1530.7 744.8,1531.0 746.7,1531.2 748.7,1531.5 750.7,1531.7 752.7,1532.0 754.7,1532.3 756.7,1532.5 758.7,1532.8 760.6,1533.0 762.6,1533.3 764.6,1533.5 766.6,1533.8 768.6,1534.0 770.6,1534.3 772.6,1534.5 774.5,1534.7 776.5,1535.0 778.5,1535.2 780.5,1535.4 782.5,1535.6 784.5,1535.8 786.5,1536.0 788.5,1536.2 790.5,1536.4 792.5,1536.6 794.5,1536.7 796.4,1536.9 798.4,1537.0 800.4,1537.2 802.4,1537.3 804.4,1537.4 806.4,1537.5 808.4,1537.6 810.4,1537.7 812.4,1537.8 814.4,1537.8 816.4,1537.9 818.4,1538.0 820.4,1538.0 822.4,1538.1 824.4,1538.1 826.4,1538.2 828.4,1538.2 830.4,1538.2 832.4,1538.2 834.4,1538.3 836.4,1538.3 838.4,1538.3 840.4,1538.3 842.4,1538.3 844.4,1538.4 846.4,1538.4 848.4,1538.4 850.4,1538.4 852.4,1538.4 854.4,1538.4 856.4,1538.4 858.4,1538.4 860.4,1538.4 862.4,1538.4 864.4,1538.4 866.5,1538.4 868.5,1538.4 870.5,1538.4 872.5,1538.4 874.5,1538.4 876.5,1538.4 878.5,1538.4 880.5,1538.4 882.5,1538.4 884.5,1538.4 886.5,1538.4 888.5,1538.4 890.5,1538.4 892.5,1538.4 894.5,1538.4 896.5,1538.4 898.5,1538.4 900.5,1538.4 902.5,1538.4 904.5,1538.4 906.5,1538.4 908.5,1538.4 910.5,1538.4 912.5,1538.4 914.5,1538.4 916.5,1538.4 918.5,1538.4 920.5,1538.4 922.5,1538.4 924.5,1538.4 926.5,1538.4 928.5,1538.4 930.5,1538.4 932.5,1538.4 934.5,1538.4 936.5,1538.4 938.5,1538.4 940.5,1538.4 942.5,1538.4 944.5,1538.4 946.5,1538.4 948.5,1538.4 950.5,1538.4 952.5,1538.4 954.5,1538.4 956.5,1538.4 957.0,1538.4" fill="none" stroke="#1e1e1e" stroke-width="2.0" stroke-linejoin="round"/>
<path d="M959.0,1562.0 957.3,1562.8 955.6,1563.6 953.8,1564.3 952.0,1564.8 950.1,1565.3 948.2,1565.6 946.2,1565.8 944.3,1566.0 942.3,1566.1 940.3,1566.3 938.3,1566.3 936.3,1566.4 934.3,1566.5 932.3,1566.5 930.3,1566.6 928.3,1566.6 926.3,1566.6 924.3,1566.7 922.3,1566.7 920.3,1566.7 918.3,1566.7 916.3,1566.8 914.3,1566.8 912.3,1566.8 910.3,1566.8 908.3,1566.9 906.3,1566.9 904.3,1567.0 902.3,1567.0 900.3,1567.0 898.3,1567.1 896.3,1567.2 894.3,1567.2 892.3,1567.3 890.3,1567.3 888.3,1567.4 886.3,1567.5 884.3,1567.5 882.3,1567.6 880.3,1567.6 878.3,1567.7 876.3,1567.8 874.3,1567.8 872.3,1567.9 870.3,1567.9 868.3,1568.0 866.3,1568.0 864.3,1568.1 862.3,1568.1 860.3,1568.2 858.3,1568.2 856.3,1568.2 854.3,1568.3 852.3,1568.3 850.3,1568.4 848.3,1568.4 846.3,1568.5 844.3,1568.5 842.3,1568.6 840.3,1568.6 838.3,1568.7 836.3,1568.8 834.3,1568.8 832.3,1568.9 830.3,1568.9 828.3,1569.0 826.3,1569.1 824.3,1569.1 822.3,1569.2 820.3,1569.3 818.3,1569.4 816.3,1569.5 814.3,1569.6 812.3,1569.8 810.3,1569.9 808.3,1570.1 806.3,1570.3 804.3,1570.5 802.4,1570.7 800.4,1570.9 798.4,1571.1 796.4,1571.3 794.4,1571.5 792.4,1571.7 790.4,1571.9 788.4,1572.0 786.4,1572.1 784.4,1572.2 782.4,1572.3 780.4,1572.4 778.4,1572.5 776.4,1572.6 774.4,1572.6 772.4,1572.7 770.4,1572.7 768.4,1572.8 766.4,1572.8 764.4,1572.8 762.4,1572.9 760.4,1572.9 758.4,1572.9 756.4,1573.0 754.4,1573.0 752.4,1573.0 750.4,1573.1 748.4,1573.1 746.4,1573.1 744.4,1573.2 742.4,1573.2 740.4,1573.2 738.4,1573.2 736.4,1573.3 734.4,1573.3 732.4,1573.3 730.4,1573.4 728.4,1573.4 726.4,1573.4 724.4,1573.5 722.4,1573.5 720.4,1573.5 718.4,1573.6 716.4,1573.6 714.4,1573.7 712.4,1573.7 710.4,1573.8 708.4,1573.8 706.4,1573.9 704.4,1573.9 702.4,1574.0 700.4,1574.1 698.4,1574.1 696.4,1574.2 694.4,1574.3 692.4,1574.3 690.4,1574.4 688.4,1574.5 686.4,1574.5 684.4,1574.6 682.4,1574.7 680.4,1574.8 678.4,1574.8 676.4,1574.9 674.4,1575.0 672.4,1575.1 670.4,1575.2 668.4,1575.2 666.4,1575.3 664.4,1575.4 662.4,1575.5 660.4,1575.6 658.4,1575.6 656.4,1575.7 654.5,1575.8 652.5,1575.9 650.5,1576.0 648.5,1576.1 646.5,1576.2 644.5,1576.2 642.5,1576.3 640.5,1576.4 638.5,1576.5 636.5,1576.6 634.5,1576.7 632.5,1576.8 630.5,1576.8 628.5,1576.9 626.5,1577.0 624.5,1577.1 622.5,1577.2 620.5,1577.3 618.5,1577.4 616.5,1577.5 614.5,1577.6 612.5,1577.6 610.5,1577.7 608.5,1577.8 606.5,1577.9 604.5,1578.0 602.5,1578.1 600.5,1578.1 598.5,1578.2 596.5,1578.3 594.5,1578.4 592.5,1578.4 590.5,1578.5 588.5,1578.6 586.5,1578.7 584.5,1578.8 582.5,1578.9 580.5,1579.0 578.5,1579.1 576.5,1579.2 574.5,1579.3 572.5,1579.4 570.5,1579.6 568.5,1579.7 566.5,1579.9 564.5,1580.0 562.5,1580.2 560.5,1580.4 558.6,1580.6 556.6,1580.8 554.6,1581.0 552.6,1581.2 550.6,1581.4 548.6,1581.6 546.6,1581.8 544.6,1582.1 542.6,1582.3 540.7,1582.5 538.7,1582.8 536.7,1583.0 534.7,1583.3 532.7,1583.5 530.7,1583.8 528.8,1584.1 526.8,1584.3 524.8,1584.6 522.8,1584.9 520.8,1585.1 518.8,1585.4 516.9,1585.7 514.9,1586.0 512.9,1586.3 510.9,1586.5 508.9,1586.8 507.0,1587.1 505.0,1587.4 503.0,1587.7 501.0,1588.0 499.1,1588.3 497.1,1588.6 495.1,1588.9 493.1,1589.2 491.1,1589.5 489.2,1589.9 487.2,1590.2 485.2,1590.5 483.3,1590.9 481.3,1591.2 479.3,1591.5 477.3,1591.9 475.4,1592.3 473.4,1592.6 471.4,1593.0 469.5,1593.4 467.5,1593.7 465.6,1594.1 463.6,1594.5 461.6,1594.9 459.7,1595.3 457.7,1595.7 455.8,1596.2 453.8,1596.6 451.8,1597.0 449.9,1597.4 447.9,1597.9 446.0,1598.3 444.0,1598.7 442.1,1599.2 440.1,1599.6 438.2,1600.1 436.2,1600.6 434.3,1601.0 432.3,1601.5 430.4,1601.9 428.5,1602.4 426.5,1602.9 424.6,1603.3 422.6,1603.8 420.7,1604.3 418.7,1604.7 416.8,1605.2 414.8,1605.7 412.9,1606.2 411.0,1606.7 409.0,1607.1 407.1,1607.6 405.1,1608.1 403.2,1608.6 401.3,1609.1 399.3,1609.6 397.4,1610.1 395.5,1610.6 393.5,1611.1 391.6,1611.6 389.6,1612.1 387.7,1612.6 385.8,1613.2 383.8,1613.7 381.9,1614.2 380.0,1614.7 378.1,1615.2 376.1,1615.8 374.2,1616.3 372.3,1616.8 370.3,1617.4 368.4,1617.9 366.5,1618.5 364.6,1619.1 362.7,1619.7 360.8,1620.3 358.9,1620.8 356.9,1621.4 355.0,1622.0 353.1,1622.6 351.2,1623.2 349.3,1623.8 347.4,1624.4 345.5,1624.9 343.5,1625.5 341.6,1626.1 339.7,1626.6 337.8,1627.2 335.9,1627.7 333.9,1628.2 332.0,1628.7 330.0,1629.1 328.1,1629.5 326.1,1629.9 324.2,1630.3 322.2,1630.6 320.2,1631.0 318.2,1631.3 316.3,1631.6 314.3,1631.8 312.3,1632.1 310.3,1632.4 308.3,1632.6 306.3,1632.8 304.3,1633.0 302.4,1633.2 300.4,1633.3 298.4,1633.4 296.4,1633.5 294.4,1633.6 292.4,1633.6 290.4,1633.7 288.4,1633.7 286.4,1633.8 284.4,1633.8 282.4,1633.8 280.4,1633.8 278.4,1633.9 276.4,1633.9 274.4,1633.9 272.4,1633.9 270.4,1633.9 268.4,1633.9 266.4,1633.8 264.4,1633.8 262.4,1633.7 260.4,1633.6 258.4,1633.5 256.4,1633.4 254.4,1633.2 252.5,1633.0 250.5,1632.8 248.5,1632.6 246.5,1632.4 244.6,1632.3 242.6,1632.3 240.6,1632.2 238.6,1632.2 236.6,1632.2 234.6,1632.2 232.6,1632.2 230.6,1632.1 228.6,1632.1 226.6,1632.0 224.7,1632.0 222.7,1632.0 220.7,1632.0 218.7,1632.1 216.8,1632.1 214.8,1632.2 212.8,1632.2 210.8,1632.2 208.8,1632.2 206.8,1632.2 204.8,1632.2 202.8,1632.2 200.8,1632.1 198.8,1632.1 197.8,1632.1" fill="none" stroke="#1e1e1e" stroke-width="2.0" stroke-linejoin="round"/>
<path d="M735.5,1529.8L709.3,1533.9L713.7,1527.1L711.1,1519.6Z" fill="#000"/>
<path d="M369.8,1617.5L392.7,1604.1L391.1,1612.0L396.3,1618.1Z" fill="#000"/>
<text x="831" y="762.1" font-size="32">0.1 V s<tspan font-size="22" dx="1.5" dy="-12.8">-1</tspan></text>
<text x="831" y="883.3" font-size="32">0.2 V s<tspan font-size="22" dx="1.5" dy="-12.8">-1</tspan></text>
<text x="831" y="1017.5" font-size="32">0.5 V s<tspan font-size="22" dx="1.5" dy="-12.8">-1</tspan></text>
<text x="831" y="1147.5" font-size="32">1 V s<tspan font-size="22" dx="1.5" dy="-12.8">-1</tspan></text>
<text x="831" y="1263.7" font-size="32">2 V s<tspan font-size="22" dx="1.5" dy="-12.8">-1</tspan></text>
<text x="831" y="1380.7" font-size="32">5 V s<tspan font-size="22" dx="1.5" dy="-12.8">-1</tspan></text>
<text x="831" y="1497.4" font-size="32">10 V s<tspan font-size="22" dx="1.5" dy="-12.8">-1</tspan></text>
<text x="831" y="1616.6" font-size="32">20 V s<tspan font-size="22" dx="1.5" dy="-12.8">-1</tspan></text>
<path d="M197.3,180.7 199.3,180.4 201.3,180.2 203.2,179.9 205.2,179.7 207.2,179.5 209.2,179.3 211.2,179.2 213.2,179.1 215.2,179.0 217.2,178.9 219.2,178.8 221.2,178.7 223.2,178.6 225.2,178.5 227.2,178.4 229.2,178.4 231.2,178.3 233.2,178.2 235.2,178.1 237.2,178.1 239.2,178.0 241.2,177.9 243.2,177.8 245.2,177.8 247.2,177.7 249.2,177.6 251.2,177.6 253.2,177.5 255.2,177.4 257.2,177.4 259.2,177.3 261.2,177.2 263.2,177.2 265.2,177.1 267.2,177.0 269.2,177.0 271.2,176.9 273.2,176.8 275.2,176.8 277.2,176.7 279.2,176.7 281.2,176.6 283.2,176.5 285.2,176.5 287.2,176.4 289.2,176.3 291.2,176.3 293.2,176.2 295.2,176.2 297.2,176.1 299.2,176.0 301.2,176.0 303.2,175.9 305.2,175.9 307.2,175.8 309.2,175.7 311.2,175.6 313.2,175.6 315.1,175.5 317.1,175.4 319.1,175.3 321.1,175.3 323.1,175.2 325.1,175.1 327.1,175.1 329.1,175.0 331.1,175.0 333.1,174.9 335.1,174.8 337.1,174.8 339.1,174.7 341.1,174.6 343.1,174.5 345.1,174.4 347.1,174.3 349.1,174.2 351.1,174.1 353.1,174.0 355.1,173.9 357.1,173.8 359.1,173.7 361.1,173.6 363.1,173.5 365.1,173.4 367.1,173.3 369.1,173.2 371.1,173.1 373.1,172.9 375.1,172.8 377.1,172.6 379.1,172.5 381.1,172.3 383.1,172.2 385.1,172.0 387.1,171.9 389.0,171.7 391.0,171.5 393.0,171.3 395.0,171.1 397.0,170.9 399.0,170.7 401.0,170.4 403.0,170.1 404.9,169.8 406.9,169.5 408.9,169.2 410.9,168.9 412.8,168.6 414.8,168.3 416.8,168.0 418.8,167.6 420.7,167.3 422.7,167.0 424.7,166.6 426.6,166.2 428.6,165.9 430.6,165.5 432.5,165.1 434.5,164.7 436.4,164.2 438.4,163.8 440.3,163.4 442.3,163.0 444.3,162.5 446.2,162.1 448.2,161.7 450.1,161.3 452.1,160.9 454.0,160.4 456.0,160.1 458.0,159.7 459.9,159.3 461.9,159.0 463.9,158.6 465.8,158.3 467.8,158.0 469.8,157.8 471.8,157.5 473.8,157.3 475.8,157.2 477.8,157.0 479.8,156.9 481.8,156.8 483.8,156.7 485.8,156.7 487.8,156.6 489.8,156.6 491.8,156.6 493.8,156.6 495.8,156.6 497.7,156.6 499.7,156.6 501.7,156.7 503.7,156.7 505.7,156.8 507.7,156.9 509.7,157.0 511.7,157.1 513.7,157.2 515.7,157.4 517.7,157.5 519.7,157.6 521.7,157.7 523.7,157.9 525.7,158.0 527.7,158.1 529.7,158.3 531.7,158.4 533.7,158.5 535.7,158.7 537.7,158.8 539.7,158.9 541.7,159.1 543.7,159.2 545.7,159.3 547.7,159.4 549.7,159.6 551.7,159.7 553.7,159.8 555.7,159.9 557.7,160.0 559.6,160.1 561.6,160.2 563.6,160.3 565.6,160.3 567.6,160.4 569.6,160.5 571.6,160.6 573.6,160.7 575.6,160.8 577.6,160.9 579.6,161.1 581.6,161.2 583.6,161.4 585.6,161.6 587.6,161.7 589.6,161.9 591.6,162.1 593.6,162.3 595.6,162.4 597.6,162.6 599.6,162.8 601.5,162.9 603.5,163.0 605.5,163.2 607.5,163.3 609.5,163.4 611.5,163.6 613.5,163.7 615.5,163.8 617.5,163.9 619.5,164.0 621.5,164.1 623.5,164.2 625.5,164.3 627.5,164.4 629.5,164.5 631.5,164.6 633.5,164.7 635.5,164.8 637.5,164.9 639.5,165.0 641.5,165.1 643.5,165.2 645.5,165.3 647.5,165.3 649.5,165.4 651.5,165.5 653.5,165.5 655.5,165.6 657.5,165.6 659.5,165.7 661.5,165.7 663.5,165.8 665.5,165.8 667.5,165.9 669.5,165.9 671.5,165.9 673.5,166.0 675.5,166.0 677.5,166.0 679.5,166.0 681.5,166.1 683.5,166.1 685.5,166.1 687.5,166.1 689.5,166.1 691.5,166.2 693.5,166.2 695.5,166.2 697.5,166.2 699.5,166.2 701.5,166.2 703.5,166.2 705.5,166.2 707.5,166.2 709.5,166.3 711.5,166.3 713.5,166.3 715.5,166.3 717.5,166.3 719.5,166.3 721.5,166.3 723.5,166.3 725.5,166.3 727.5,166.3 729.5,166.3 731.5,166.3 733.5,166.3 735.5,166.3 737.5,166.3 739.5,166.3 741.5,166.3 743.5,166.3 745.5,166.3 747.5,166.3 749.5,166.3 751.5,166.3 753.5,166.3 755.5,166.3 757.5,166.3 759.5,166.3 761.5,166.3 763.5,166.3 765.5,166.3 767.5,166.3 769.5,166.3 771.5,166.3 773.5,166.3 775.5,166.3 777.5,166.3 779.5,166.3 781.5,166.3 783.5,166.3 785.5,166.3 787.5,166.3 789.5,166.3 791.5,166.3 793.5,166.3 795.5,166.3 797.5,166.3 799.5,166.3 801.5,166.3 803.5,166.2 805.5,166.2 807.5,166.2 809.5,166.2 811.5,166.2 813.5,166.2 815.5,166.2 817.5,166.2 819.5,166.2 821.5,166.2 823.5,166.2 825.5,166.2 827.5,166.1 829.5,166.1 831.5,166.1 833.5,166.1 835.5,166.1 837.5,166.1 839.5,166.1 841.5,166.1 843.5,166.1 845.5,166.0 847.5,166.0 849.5,166.0 851.5,166.0 853.5,166.0 855.5,166.0 857.5,166.0 859.5,166.0 861.5,166.0 863.5,165.9 865.5,165.9 867.5,165.9 869.5,165.9 871.5,165.9 873.5,165.9 875.5,165.9 877.5,165.9 879.5,165.9 881.5,165.9 883.5,165.8 885.5,165.8 887.5,165.8 889.5,165.8 891.5,165.8 893.5,165.8 895.5,165.8 897.5,165.8 899.5,165.8 901.5,165.8 903.5,165.8 905.5,165.8 907.5,165.8 909.5,165.8 911.5,165.8 913.5,165.8 915.5,165.8 917.5,165.8 919.5,165.8 921.5,165.8 923.5,165.8 925.5,165.8 927.5,165.8 929.5,165.8 931.5,165.8 933.5,165.8 935.5,165.8 937.5,165.8 939.5,165.8 941.5,165.8 943.5,165.8 945.5,165.8 947.5,165.8 949.5,165.8 951.5,165.8 953.5,165.8 955.5,165.8 957.0,165.8" fill="none" stroke="#1e1e1e" stroke-width="2.0" stroke-linejoin="round"/>
<path d="M957.0,168.1 955.0,168.1 953.0,168.1 951.0,168.1 949.0,168.1 947.0,168.1 945.0,168.1 943.0,168.1 941.0,168.1 939.0,168.1 937.0,168.1 935.0,168.1 933.0,168.1 931.0,168.1 929.0,168.1 927.0,168.1 925.0,168.2 923.0,168.2 921.0,168.2 919.0,168.2 917.0,168.2 915.0,168.2 913.0,168.2 911.0,168.2 909.0,168.2 907.0,168.2 905.0,168.2 903.0,168.2 901.0,168.2 899.0,168.2 897.0,168.2 895.0,168.2 893.0,168.2 891.0,168.2 889.0,168.3 887.0,168.3 885.0,168.3 883.0,168.3 881.0,168.3 879.0,168.3 877.0,168.3 875.0,168.3 873.0,168.3 871.0,168.3 869.0,168.3 867.0,168.3 865.0,168.3 863.0,168.3 861.0,168.3 859.0,168.3 857.0,168.3 855.0,168.3 853.0,168.4 851.0,168.4 849.0,168.4 847.0,168.4 845.0,168.4 843.0,168.4 841.0,168.4 839.0,168.4 837.0,168.4 835.0,168.4 833.0,168.4 831.0,168.4 829.0,168.4 827.0,168.4 825.0,168.4 823.0,168.4 821.0,168.4 819.0,168.4 817.0,168.4 815.0,168.5 813.0,168.5 811.0,168.5 809.0,168.5 807.0,168.5 805.0,168.5 803.0,168.5 801.0,168.5 799.0,168.5 797.0,168.5 795.0,168.5 793.0,168.5 791.0,168.5 789.0,168.5 787.0,168.5 785.0,168.5 783.0,168.5 781.0,168.5 779.0,168.5 777.0,168.6 775.0,168.6 773.0,168.6 771.0,168.6 769.0,168.6 767.0,168.6 765.0,168.6 763.0,168.6 761.0,168.6 759.0,168.6 757.0,168.6 755.0,168.6 753.0,168.6 751.0,168.6 749.0,168.6 747.0,168.6 745.0,168.7 743.0,168.7 741.0,168.7 739.0,168.7 737.0,168.7 735.0,168.7 733.0,168.7 731.0,168.7 729.0,168.7 727.0,168.7 725.0,168.7 722.9,168.7 720.9,168.7 718.9,168.7 716.9,168.7 714.9,168.8 712.9,168.8 710.9,168.8 708.9,168.8 706.9,168.8 704.9,168.8 702.9,168.8 700.9,168.8 698.9,168.8 696.9,168.8 694.9,168.8 692.9,168.8 690.9,168.8 688.9,168.9 686.9,168.9 684.9,168.9 682.9,168.9 680.9,168.9 678.9,168.9 676.9,168.9 674.9,168.9 672.9,168.9 670.9,168.9 668.9,168.9 666.9,169.0 664.9,169.0 662.9,169.0 660.9,169.0 658.9,169.0 656.9,169.0 654.9,169.0 652.9,169.0 650.9,169.0 648.9,169.1 646.9,169.1 644.9,169.1 642.9,169.1 640.9,169.1 638.9,169.1 636.9,169.1 634.9,169.1 632.9,169.1 630.9,169.2 628.9,169.2 626.9,169.2 624.9,169.2 622.9,169.2 620.9,169.2 618.9,169.2 616.9,169.2 614.9,169.2 612.9,169.3 610.9,169.3 608.9,169.3 606.9,169.3 604.9,169.3 602.9,169.4 600.9,169.4 598.9,169.5 596.9,169.5 594.9,169.6 592.9,169.6 590.9,169.7 588.9,169.7 586.9,169.8 584.9,169.8 582.9,169.8 580.9,169.9 578.9,169.9 576.9,169.9 574.9,170.0 572.9,170.0 570.9,170.0 568.9,170.1 566.9,170.1 564.9,170.1 562.9,170.2 560.9,170.2 558.9,170.2 556.9,170.2 554.9,170.3 552.9,170.3 550.9,170.4 548.9,170.4 546.9,170.5 544.9,170.5 542.9,170.6 540.9,170.6 538.9,170.7 536.9,170.8 534.9,170.9 532.9,170.9 530.9,171.0 528.9,171.1 526.9,171.2 524.9,171.3 522.9,171.4 520.9,171.5 518.9,171.7 517.0,171.8 515.0,171.9 513.0,172.1 511.0,172.2 509.0,172.4 507.0,172.6 505.0,172.7 503.0,172.9 501.0,173.1 499.0,173.3 497.0,173.5 495.0,173.7 493.0,173.9 491.0,174.1 489.1,174.3 487.1,174.5 485.1,174.7 483.1,175.0 481.1,175.2 479.1,175.4 477.1,175.7 475.2,175.9 473.2,176.2 471.2,176.4 469.2,176.7 467.2,176.9 465.2,177.2 463.2,177.4 461.3,177.7 459.3,178.0 457.3,178.3 455.3,178.5 453.3,178.8 451.4,179.1 449.4,179.4 447.4,179.7 445.4,179.9 443.4,180.2 441.4,180.5 439.5,180.7 437.5,180.9 435.5,181.2 433.5,181.4 431.5,181.7 429.5,181.9 427.5,182.1 425.6,182.3 423.6,182.5 421.6,182.8 419.6,183.0 417.6,183.2 415.6,183.4 413.6,183.5 411.6,183.7 409.6,183.9 407.6,184.1 405.6,184.3 403.7,184.4 401.7,184.6 399.7,184.7 397.7,184.9 395.7,185.0 393.7,185.2 391.7,185.3 389.7,185.4 387.7,185.5 385.7,185.7 383.7,185.8 381.7,185.9 379.7,186.0 377.7,186.1 375.7,186.2 373.7,186.3 371.7,186.4 369.7,186.5 367.7,186.5 365.7,186.6 363.7,186.6 361.7,186.7 359.7,186.7 357.7,186.7 355.7,186.6 353.7,186.5 351.7,186.5 349.7,186.4 347.7,186.3 345.7,186.2 343.7,186.1 341.7,186.1 339.7,186.0 337.7,185.9 335.7,185.8 333.7,185.8 331.7,185.7 329.7,185.6 327.7,185.5 325.7,185.4 323.7,185.3 321.7,185.2 319.7,185.1 317.7,185.0 315.7,184.9 313.7,184.8 311.7,184.7 309.7,184.6 307.7,184.5 305.8,184.4 303.8,184.4 301.8,184.3 299.8,184.2 297.8,184.1 295.8,184.0 293.8,183.9 291.8,183.8 289.8,183.7 287.8,183.6 285.8,183.5 283.8,183.4 281.8,183.3 279.8,183.2 277.8,183.1 275.8,183.0 273.8,182.9 271.8,182.8 269.8,182.7 267.8,182.6 265.8,182.6 263.8,182.5 261.8,182.4 259.8,182.4 257.8,182.3 255.8,182.2 253.8,182.2 251.8,182.1 249.8,182.0 247.8,182.0 245.8,181.9 243.8,181.8 241.8,181.8 239.8,181.7 237.8,181.6 235.8,181.6 233.8,181.5 231.8,181.4 229.8,181.4 227.8,181.3 225.8,181.3 223.8,181.2 221.8,181.1 219.8,181.1 217.8,181.0 215.8,181.0 213.8,180.9 211.8,180.9 209.8,180.8 207.8,180.8 205.8,180.8 203.8,180.8 201.8,180.7 199.8,180.7 197.8,180.7 197.3,180.7" fill="none" stroke="#1e1e1e" stroke-width="2.0" stroke-linejoin="round"/>
<path d="M197.3,185.0 199.3,184.7 201.2,184.4 203.2,184.1 205.2,183.8 207.2,183.6 209.2,183.4 211.2,183.2 213.2,183.0 215.2,182.9 217.2,182.8 219.2,182.7 221.2,182.6 223.2,182.4 225.2,182.3 227.1,182.2 229.1,182.1 231.1,182.0 233.1,181.9 235.1,181.8 237.1,181.7 239.1,181.6 241.1,181.5 243.1,181.4 245.1,181.3 247.1,181.2 249.1,181.1 251.1,181.1 253.1,181.0 255.1,180.9 257.1,180.8 259.1,180.7 261.1,180.6 263.1,180.5 265.1,180.5 267.1,180.4 269.1,180.3 271.1,180.2 273.1,180.1 275.1,180.1 277.1,180.0 279.1,179.9 281.1,179.9 283.1,179.8 285.1,179.7 287.1,179.7 289.1,179.6 291.1,179.5 293.1,179.4 295.1,179.3 297.1,179.3 299.1,179.2 301.1,179.1 303.1,179.0 305.1,178.9 307.1,178.8 309.1,178.7 311.1,178.7 313.1,178.6 315.1,178.5 317.1,178.4 319.1,178.3 321.1,178.2 323.1,178.1 325.1,178.0 327.1,177.9 329.1,177.8 331.1,177.7 333.1,177.7 335.1,177.6 337.1,177.5 339.1,177.4 341.1,177.3 343.1,177.2 345.1,177.1 347.1,177.0 349.1,176.9 351.1,176.8 353.1,176.6 355.1,176.5 357.1,176.3 359.0,176.2 361.0,176.0 363.0,175.8 365.0,175.7 367.0,175.5 369.0,175.3 371.0,175.1 373.0,174.9 375.0,174.7 377.0,174.5 379.0,174.2 380.9,174.0 382.9,173.7 384.9,173.5 386.9,173.2 388.9,172.9 390.8,172.6 392.8,172.3 394.8,172.0 396.8,171.7 398.8,171.4 400.7,171.0 402.7,170.7 404.7,170.3 406.6,169.9 408.6,169.5 410.5,169.1 412.5,168.7 414.4,168.3 416.4,167.8 418.3,167.3 420.3,166.9 422.2,166.4 424.2,165.9 426.1,165.4 428.0,164.9 430.0,164.4 431.9,163.9 433.8,163.3 435.8,162.8 437.7,162.3 439.6,161.7 441.5,161.2 443.5,160.7 445.4,160.1 447.3,159.6 449.3,159.0 451.2,158.5 453.1,158.0 455.0,157.4 457.0,156.9 458.9,156.4 460.8,155.9 462.8,155.4 464.7,154.9 466.6,154.4 468.6,154.0 470.5,153.5 472.5,153.1 474.5,152.8 476.4,152.4 478.4,152.1 480.4,151.9 482.4,151.6 484.4,151.4 486.4,151.2 488.4,151.1 490.4,150.9 492.4,150.8 494.4,150.7 496.4,150.6 498.4,150.5 500.3,150.5 502.4,150.5 504.4,150.5 506.4,150.5 508.4,150.5 510.4,150.5 512.4,150.6 514.4,150.7 516.3,150.7 518.3,150.8 520.3,150.9 522.3,151.0 524.3,151.2 526.3,151.3 528.3,151.5 530.3,151.6 532.3,151.8 534.3,152.0 536.3,152.2 538.3,152.4 540.3,152.5 542.3,152.7 544.3,152.9 546.3,153.1 548.2,153.3 550.2,153.5 552.2,153.7 554.2,153.9 556.2,154.1 558.2,154.3 560.2,154.5 562.2,154.8 564.2,155.0 566.2,155.2 568.1,155.4 570.1,155.6 572.1,155.8 574.1,156.0 576.1,156.2 578.1,156.4 580.1,156.6 582.1,156.8 584.1,157.0 586.1,157.1 588.1,157.3 590.1,157.4 592.1,157.5 594.1,157.6 596.1,157.7 598.0,157.8 600.0,157.9 602.0,158.0 604.0,158.1 606.0,158.2 608.0,158.3 610.0,158.4 612.0,158.5 614.0,158.6 616.0,158.6 618.0,158.7 620.0,158.8 622.0,158.9 624.0,159.0 626.0,159.1 628.0,159.2 630.0,159.3 632.0,159.3 634.0,159.4 636.0,159.5 638.0,159.6 640.0,159.7 642.0,159.8 644.0,159.9 646.0,160.0 648.0,160.1 650.0,160.2 652.0,160.3 654.0,160.4 656.0,160.5 658.0,160.6 660.0,160.7 662.0,160.8 664.0,161.0 666.0,161.1 668.0,161.2 670.0,161.3 672.0,161.4 674.0,161.5 676.0,161.6 678.0,161.7 680.0,161.8 682.0,161.9 684.0,162.0 686.0,162.1 688.0,162.2 690.0,162.3 692.0,162.4 694.0,162.5 696.0,162.6 698.0,162.6 700.0,162.7 702.0,162.8 704.0,162.9 706.0,163.0 708.0,163.1 710.0,163.2 712.0,163.2 714.0,163.3 716.0,163.4 717.9,163.5 719.9,163.5 721.9,163.6 723.9,163.7 725.9,163.8 727.9,163.8 729.9,163.9 731.9,163.9 733.9,164.0 735.9,164.1 737.9,164.1 739.9,164.2 741.9,164.2 743.9,164.3 745.9,164.3 747.9,164.4 749.9,164.4 751.9,164.5 753.9,164.5 755.9,164.6 757.9,164.6 759.9,164.7 761.9,164.7 763.9,164.7 765.9,164.8 767.9,164.8 769.9,164.8 771.9,164.8 773.9,164.9 775.9,164.9 777.9,164.9 779.9,164.9 781.9,164.9 783.9,164.9 786.0,164.9 788.0,164.9 790.0,164.9 792.0,164.9 794.0,164.9 796.0,164.9 798.0,164.9 800.0,164.9 802.0,164.9 804.0,164.9 806.0,164.9 808.0,164.9 810.0,164.9 812.0,164.9 814.0,164.9 816.0,164.9 818.0,165.0 820.0,165.0 822.0,165.0 824.0,165.0 826.0,165.0 828.0,165.0 830.0,165.0 832.0,165.0 834.0,165.0 836.0,165.0 838.0,165.0 840.0,165.0 842.0,165.0 844.0,165.0 846.0,165.0 848.0,165.0 850.0,165.0 852.0,165.0 854.0,165.0 856.0,165.0 858.0,165.0 860.0,165.0 862.0,165.0 864.0,165.0 866.0,165.0 868.0,165.0 870.0,165.0 872.0,165.0 874.0,165.0 876.0,165.0 878.0,165.0 880.0,165.0 882.0,165.0 884.0,165.0 886.0,165.0 888.0,164.9 890.0,164.9 892.0,164.9 894.0,164.9 896.0,164.9 898.0,164.9 900.0,164.9 902.0,164.9 904.0,164.9 906.0,164.9 908.0,164.9 910.0,164.9 912.0,164.9 914.0,164.9 916.0,164.9 918.0,164.9 920.0,164.9 922.0,164.9 924.0,164.9 926.0,164.9 928.0,164.9 930.0,164.9 932.0,164.9 934.0,164.9 936.0,164.9 938.0,164.9 940.0,164.8 942.0,164.8 944.0,164.8 946.0,164.8 948.0,164.8 950.0,164.8 952.0,164.8 954.0,164.8 956.0,164.8 957.0,164.8" fill="none" stroke="#1e1e1e" stroke-width="2.0" stroke-linejoin="round"/>
<path d="M957.0,168.1 955.0,168.1 953.0,168.1 951.0,168.2 949.0,168.2 947.0,168.2 945.0,168.2 943.0,168.2 941.0,168.2 939.0,168.2 937.0,168.2 935.0,168.2 933.0,168.2 931.0,168.3 929.0,168.3 927.0,168.3 925.0,168.3 923.0,168.3 921.0,168.3 919.0,168.3 917.0,168.3 915.0,168.3 913.0,168.3 911.0,168.4 909.0,168.4 907.0,168.4 905.0,168.4 903.0,168.4 901.0,168.4 899.0,168.4 897.0,168.4 895.0,168.4 893.0,168.4 891.0,168.5 889.0,168.5 887.0,168.5 885.0,168.5 883.0,168.5 881.0,168.5 879.0,168.5 877.0,168.5 875.0,168.5 873.0,168.5 871.0,168.6 869.0,168.6 867.0,168.6 865.0,168.6 863.0,168.6 861.0,168.6 859.0,168.6 857.0,168.6 855.0,168.6 852.9,168.6 850.9,168.7 848.9,168.7 846.9,168.7 844.9,168.7 842.9,168.7 840.9,168.7 838.9,168.7 836.9,168.7 834.9,168.7 832.9,168.7 830.9,168.8 828.9,168.8 826.9,168.8 824.9,168.8 822.9,168.8 820.9,168.8 818.9,168.8 816.9,168.8 814.9,168.8 812.9,168.8 810.9,168.9 808.9,168.9 806.9,168.9 804.9,168.9 802.9,168.9 800.9,168.9 798.9,168.9 796.9,168.9 794.9,168.9 792.9,168.9 790.9,169.0 788.9,169.0 786.9,169.0 784.9,169.0 782.9,169.0 780.9,169.0 778.9,169.0 776.9,169.0 774.9,169.0 772.9,169.0 770.9,169.1 768.9,169.1 766.9,169.1 764.9,169.1 762.9,169.1 760.9,169.1 758.9,169.1 756.9,169.1 754.9,169.1 752.9,169.1 750.9,169.2 748.9,169.2 746.9,169.2 744.9,169.2 742.9,169.2 740.9,169.2 738.9,169.2 736.9,169.2 734.9,169.3 732.9,169.3 730.9,169.3 728.9,169.3 726.9,169.3 724.9,169.3 722.9,169.3 720.9,169.4 718.9,169.4 716.9,169.4 714.9,169.4 712.9,169.4 710.9,169.4 708.9,169.5 706.9,169.5 704.9,169.5 702.9,169.5 700.9,169.5 698.9,169.5 696.9,169.6 694.9,169.6 692.9,169.6 690.9,169.6 688.9,169.6 686.9,169.6 684.9,169.7 682.9,169.7 680.9,169.7 678.9,169.7 676.9,169.7 674.9,169.8 672.9,169.8 670.9,169.8 668.9,169.8 666.9,169.8 664.9,169.9 662.9,169.9 660.9,169.9 658.9,169.9 656.9,169.9 654.9,169.9 652.9,170.0 650.9,170.0 648.9,170.0 646.9,170.0 644.8,170.0 642.8,170.0 640.8,170.1 638.8,170.1 636.8,170.1 634.8,170.1 632.8,170.1 630.8,170.1 628.8,170.1 626.8,170.1 624.8,170.1 622.8,170.1 620.8,170.2 618.8,170.2 616.8,170.2 614.8,170.2 612.8,170.2 610.8,170.2 608.8,170.2 606.8,170.2 604.8,170.3 602.8,170.3 600.8,170.3 598.8,170.3 596.8,170.4 594.8,170.4 592.8,170.4 590.8,170.5 588.8,170.5 586.8,170.6 584.8,170.6 582.8,170.7 580.8,170.7 578.8,170.8 576.8,170.8 574.8,170.8 572.8,170.9 570.8,170.9 568.8,171.0 566.8,171.0 564.8,171.0 562.8,171.1 560.8,171.1 558.8,171.2 556.8,171.3 554.8,171.3 552.8,171.4 550.8,171.5 548.8,171.6 546.8,171.7 544.8,171.8 542.8,171.9 540.8,172.0 538.8,172.1 536.8,172.2 534.8,172.3 532.8,172.5 530.8,172.6 528.8,172.7 526.8,172.9 524.9,173.0 522.9,173.2 520.9,173.4 518.9,173.5 516.9,173.7 514.9,173.9 512.9,174.1 510.9,174.2 508.9,174.4 506.9,174.6 504.9,174.9 502.9,175.1 501.0,175.3 499.0,175.6 497.0,175.8 495.0,176.1 493.0,176.4 491.0,176.7 489.1,176.9 487.1,177.3 485.1,177.6 483.1,177.9 481.2,178.2 479.2,178.5 477.2,178.9 475.2,179.2 473.3,179.5 471.3,179.9 469.3,180.2 467.4,180.6 465.4,181.0 463.4,181.3 461.5,181.7 459.5,182.1 457.5,182.5 455.6,182.9 453.6,183.2 451.6,183.6 449.7,184.0 447.7,184.4 445.7,184.8 443.8,185.2 441.8,185.6 439.9,185.9 437.9,186.3 435.9,186.7 434.0,187.1 432.0,187.5 430.0,187.9 428.1,188.3 426.1,188.7 424.2,189.1 422.2,189.4 420.2,189.8 418.2,190.2 416.3,190.5 414.3,190.8 412.3,191.2 410.4,191.5 408.4,191.8 406.4,192.1 404.4,192.4 402.4,192.7 400.5,193.0 398.5,193.2 396.5,193.5 394.5,193.7 392.5,193.9 390.5,194.1 388.5,194.3 386.5,194.4 384.5,194.6 382.5,194.7 380.5,194.8 378.5,194.9 376.5,194.9 374.5,195.0 372.5,195.0 370.5,194.9 368.5,194.9 366.5,194.9 364.5,194.8 362.5,194.7 360.6,194.6 358.6,194.6 356.6,194.5 354.6,194.4 352.6,194.4 350.6,194.3 348.6,194.3 346.6,194.2 344.6,194.1 342.6,193.9 340.6,193.8 338.6,193.6 336.6,193.5 334.6,193.3 332.6,193.2 330.6,193.0 328.6,192.8 326.6,192.7 324.6,192.5 322.6,192.3 320.6,192.2 318.6,192.0 316.6,191.9 314.6,191.7 312.6,191.6 310.6,191.4 308.7,191.3 306.7,191.1 304.7,191.0 302.7,190.8 300.7,190.6 298.7,190.5 296.7,190.3 294.7,190.1 292.7,189.9 290.7,189.8 288.7,189.6 286.7,189.5 284.7,189.3 282.7,189.2 280.7,189.0 278.7,188.9 276.7,188.7 274.7,188.6 272.7,188.5 270.7,188.3 268.8,188.2 266.8,188.1 264.8,187.9 262.8,187.8 260.8,187.6 258.8,187.5 256.8,187.4 254.8,187.2 252.8,187.1 250.8,187.0 248.8,186.9 246.8,186.8 244.8,186.6 242.8,186.5 240.8,186.4 238.8,186.3 236.8,186.2 234.8,186.1 232.8,186.0 230.8,185.9 228.8,185.8 226.8,185.7 224.8,185.7 222.8,185.6 220.8,185.5 218.8,185.5 216.8,185.4 214.8,185.4 212.8,185.3 210.8,185.3 208.8,185.2 206.8,185.2 204.8,185.1 202.8,185.1 200.8,185.1 198.8,185.0 197.3,185.0" fill="none" stroke="#1e1e1e" stroke-width="2.0" stroke-linejoin="round"/>
<path d="M197.3,194.8 199.2,194.1 201.0,193.4 202.9,192.8 204.9,192.3 206.8,191.9 208.8,191.5 210.7,191.2 212.7,190.9 214.7,190.7 216.7,190.4 218.7,190.2 220.7,189.9 222.6,189.7 224.6,189.5 226.6,189.3 228.6,189.1 230.6,188.9 232.6,188.7 234.6,188.5 236.6,188.3 238.6,188.2 240.6,188.0 242.6,187.8 244.6,187.6 246.5,187.5 248.5,187.3 250.5,187.1 252.5,187.0 254.5,186.8 256.5,186.7 258.5,186.5 260.5,186.4 262.5,186.2 264.5,186.1 266.5,185.9 268.5,185.8 270.5,185.7 272.5,185.6 274.5,185.4 276.5,185.3 278.5,185.2 280.5,185.1 282.5,185.0 284.5,184.9 286.5,184.8 288.5,184.7 290.5,184.6 292.5,184.4 294.5,184.3 296.4,184.2 298.4,184.0 300.4,183.9 302.4,183.8 304.4,183.6 306.4,183.5 308.4,183.4 310.4,183.2 312.4,183.1 314.4,183.0 316.4,182.9 318.4,182.7 320.4,182.6 322.4,182.4 324.4,182.2 326.4,182.1 328.4,181.9 330.4,181.7 332.4,181.5 334.3,181.3 336.3,181.2 338.3,181.0 340.3,180.8 342.3,180.7 344.3,180.5 346.3,180.4 348.3,180.2 350.3,180.0 352.3,179.9 354.3,179.7 356.3,179.5 358.3,179.3 360.3,179.2 362.3,179.0 364.2,178.7 366.2,178.5 368.2,178.3 370.2,178.0 372.2,177.7 374.2,177.4 376.1,177.1 378.1,176.8 380.1,176.5 382.1,176.2 384.0,175.9 386.0,175.5 388.0,175.2 390.0,174.9 391.9,174.5 393.9,174.1 395.9,173.8 397.8,173.4 399.8,173.0 401.7,172.6 403.7,172.2 405.6,171.7 407.6,171.3 409.5,170.8 411.5,170.4 413.4,169.9 415.4,169.5 417.3,169.0 419.3,168.5 421.2,168.0 423.1,167.5 425.1,167.0 427.0,166.4 428.9,165.8 430.8,165.2 432.7,164.6 434.6,164.0 436.5,163.3 438.4,162.7 440.3,162.0 442.2,161.3 444.0,160.6 445.9,159.9 447.8,159.2 449.6,158.5 451.5,157.7 453.4,157.0 455.2,156.3 457.1,155.5 459.0,154.8 460.8,154.1 462.7,153.4 464.6,152.7 466.4,152.0 468.3,151.3 470.2,150.6 472.1,149.9 474.0,149.3 475.9,148.7 477.8,148.1 479.7,147.5 481.6,146.9 483.5,146.3 485.4,145.8 487.4,145.3 489.3,144.7 491.2,144.3 493.2,143.8 495.1,143.4 497.1,143.0 499.1,142.7 501.1,142.4 503.0,142.1 505.0,141.9 507.0,141.7 509.0,141.5 511.0,141.4 513.0,141.3 515.0,141.2 517.0,141.1 519.0,141.1 521.0,141.1 523.0,141.1 525.0,141.1 527.0,141.2 529.0,141.3 531.0,141.4 533.0,141.5 535.0,141.7 537.0,141.9 539.0,142.1 540.9,142.3 542.9,142.6 544.9,142.9 546.9,143.1 548.9,143.4 550.9,143.7 552.8,144.0 554.8,144.3 556.8,144.5 558.8,144.8 560.8,145.1 562.7,145.3 564.7,145.6 566.7,145.9 568.7,146.1 570.7,146.4 572.7,146.7 574.6,147.0 576.6,147.3 578.6,147.6 580.6,147.9 582.5,148.2 584.5,148.5 586.5,148.8 588.5,149.1 590.5,149.4 592.4,149.6 594.4,149.9 596.4,150.2 598.4,150.5 600.4,150.7 602.4,151.0 604.3,151.2 606.3,151.4 608.3,151.6 610.3,151.7 612.3,151.9 614.3,152.0 616.3,152.2 618.3,152.3 620.3,152.5 622.3,152.7 624.3,152.9 626.3,153.2 628.2,153.4 630.2,153.6 632.2,153.9 634.2,154.1 636.2,154.3 638.2,154.6 640.2,154.8 642.2,155.0 644.1,155.2 646.1,155.4 648.1,155.6 650.1,155.8 652.1,155.9 654.1,156.1 656.1,156.3 658.1,156.5 660.1,156.6 662.1,156.8 664.1,157.0 666.1,157.1 668.1,157.3 670.1,157.5 672.0,157.6 674.0,157.8 676.0,157.9 678.0,158.1 680.0,158.2 682.0,158.4 684.0,158.5 686.0,158.6 688.0,158.8 690.0,158.9 692.0,159.0 694.0,159.2 696.0,159.3 698.0,159.4 700.0,159.5 702.0,159.6 704.0,159.8 706.0,159.9 708.0,160.0 710.0,160.1 712.0,160.2 714.0,160.3 716.0,160.4 718.0,160.5 720.0,160.6 722.0,160.7 724.0,160.8 726.0,160.8 728.0,160.9 730.0,161.0 732.0,161.1 734.0,161.1 736.0,161.2 738.0,161.3 740.0,161.3 742.0,161.4 744.0,161.4 746.0,161.5 748.0,161.5 750.0,161.6 752.0,161.6 754.0,161.7 756.0,161.7 758.0,161.8 760.0,161.8 762.0,161.9 764.0,161.9 766.0,161.9 768.0,162.0 770.0,162.0 772.0,162.0 774.0,162.1 776.0,162.1 778.0,162.1 780.0,162.2 782.0,162.2 784.0,162.2 786.0,162.3 788.0,162.3 790.0,162.3 792.0,162.3 794.0,162.3 796.0,162.4 798.0,162.4 800.0,162.4 802.0,162.4 804.0,162.4 806.0,162.5 808.0,162.5 810.0,162.5 812.0,162.5 814.0,162.5 816.0,162.5 818.0,162.5 820.0,162.5 822.0,162.5 824.0,162.5 826.0,162.5 828.0,162.5 830.0,162.5 832.0,162.5 834.0,162.5 836.0,162.5 838.0,162.5 840.0,162.5 842.0,162.5 844.0,162.5 846.0,162.5 848.0,162.5 850.0,162.5 852.0,162.5 854.0,162.5 856.0,162.5 858.0,162.4 860.0,162.4 862.0,162.4 864.0,162.4 866.0,162.3 868.0,162.3 870.0,162.3 872.0,162.3 874.0,162.2 876.0,162.2 878.0,162.2 880.0,162.2 882.0,162.1 884.0,162.1 886.0,162.1 888.0,162.1 890.0,162.0 892.0,162.0 894.0,162.0 896.0,162.0 898.0,162.0 900.0,162.0 902.0,161.9 904.0,161.9 906.0,161.9 908.0,161.9 910.0,161.9 912.0,161.9 914.0,161.9 916.0,161.9 918.0,161.9 920.0,161.9 922.0,161.9 924.0,161.9 926.0,161.9 928.0,161.8 930.0,161.8 932.0,161.8 934.0,161.8 936.0,161.8 938.0,161.8 940.0,161.8 942.0,161.8 944.0,161.8 946.0,161.8 948.0,161.8 950.0,161.8 952.0,161.8 954.0,161.8 956.0,161.8 957.0,161.8" fill="none" stroke="#1e1e1e" stroke-width="2.0" stroke-linejoin="round"/>
<path d="M957.0,168.7 955.0,168.7 953.0,168.7 951.0,168.7 949.0,168.7 947.0,168.7 945.0,168.7 943.0,168.7 941.0,168.7 939.0,168.7 937.0,168.7 935.0,168.7 933.0,168.7 931.0,168.7 929.0,168.7 927.0,168.7 925.0,168.7 923.0,168.7 921.0,168.7 919.0,168.7 917.0,168.7 915.0,168.7 913.0,168.7 911.0,168.7 909.0,168.7 907.0,168.7 905.0,168.7 903.0,168.7 901.0,168.7 899.0,168.7 897.0,168.7 895.0,168.7 893.0,168.7 891.0,168.7 889.0,168.8 887.0,168.8 885.0,168.8 883.0,168.8 881.0,168.8 879.0,168.8 877.0,168.8 875.0,168.8 873.0,168.8 871.0,168.8 869.0,168.8 867.0,168.8 865.0,168.8 863.0,168.8 861.0,168.8 859.0,168.9 857.0,168.9 855.0,168.9 853.0,168.9 851.0,168.9 849.0,168.9 847.0,168.9 845.0,168.9 843.0,169.0 841.0,169.0 839.0,169.0 837.0,169.0 835.0,169.0 833.0,169.1 831.0,169.1 829.0,169.1 827.0,169.1 825.0,169.1 823.0,169.2 821.0,169.2 819.0,169.2 817.0,169.2 815.0,169.2 813.0,169.3 811.0,169.3 809.0,169.3 807.0,169.3 805.0,169.4 803.0,169.4 801.0,169.4 799.0,169.4 797.0,169.5 795.0,169.5 793.0,169.5 790.9,169.5 788.9,169.6 786.9,169.6 784.9,169.6 782.9,169.6 780.9,169.7 778.9,169.7 776.9,169.7 774.9,169.7 772.9,169.8 770.9,169.8 768.9,169.8 766.9,169.8 764.9,169.9 762.9,169.9 760.9,169.9 758.9,169.9 756.9,170.0 754.9,170.0 752.9,170.0 750.9,170.0 748.9,170.1 746.9,170.1 744.9,170.1 742.9,170.1 740.9,170.2 738.9,170.2 736.9,170.2 734.9,170.2 732.9,170.3 730.9,170.3 728.9,170.3 726.9,170.3 724.9,170.4 722.9,170.4 720.9,170.4 718.9,170.4 716.9,170.5 714.9,170.5 712.9,170.5 710.9,170.5 708.9,170.6 706.9,170.6 704.9,170.6 702.9,170.6 700.9,170.7 698.9,170.7 696.9,170.7 694.9,170.8 692.9,170.8 690.9,170.8 688.9,170.9 686.9,170.9 684.9,170.9 682.9,171.0 680.9,171.0 678.9,171.0 676.9,171.1 674.9,171.1 672.9,171.1 670.9,171.2 668.9,171.2 666.9,171.3 664.9,171.3 662.9,171.3 660.9,171.4 658.9,171.4 656.9,171.5 654.9,171.5 652.9,171.6 650.9,171.6 648.9,171.6 646.9,171.7 644.9,171.7 642.9,171.8 640.9,171.8 638.9,171.9 636.9,171.9 634.9,172.0 632.9,172.0 630.9,172.0 628.9,172.1 626.9,172.1 624.9,172.2 622.9,172.2 620.9,172.3 618.9,172.3 616.9,172.3 614.9,172.4 612.9,172.4 610.9,172.5 608.9,172.5 606.9,172.5 604.9,172.6 602.9,172.6 600.9,172.7 598.9,172.7 596.9,172.8 594.9,172.8 592.9,172.9 590.9,173.0 588.9,173.0 586.9,173.1 584.9,173.1 582.9,173.2 580.9,173.3 578.9,173.4 576.9,173.5 574.9,173.5 572.9,173.6 570.9,173.7 568.9,173.9 566.9,174.0 564.9,174.1 562.9,174.2 560.9,174.4 558.9,174.5 557.0,174.7 555.0,174.9 553.0,175.0 551.0,175.2 549.0,175.4 547.0,175.6 545.0,175.7 543.0,175.9 541.0,176.1 539.0,176.3 537.0,176.5 535.0,176.7 533.0,176.9 531.1,177.1 529.1,177.3 527.1,177.5 525.1,177.7 523.1,177.9 521.1,178.1 519.1,178.3 517.1,178.6 515.1,178.8 513.2,179.1 511.2,179.4 509.2,179.7 507.2,180.0 505.3,180.4 503.3,180.7 501.3,181.1 499.4,181.4 497.4,181.8 495.4,182.2 493.5,182.6 491.5,183.0 489.6,183.4 487.6,183.8 485.6,184.2 483.7,184.6 481.7,185.0 479.8,185.4 477.8,185.9 475.8,186.3 473.9,186.7 471.9,187.1 470.0,187.5 468.0,188.0 466.1,188.4 464.1,188.8 462.2,189.3 460.2,189.7 458.3,190.1 456.3,190.6 454.4,191.0 452.4,191.5 450.5,192.0 448.5,192.4 446.6,192.9 444.6,193.4 442.7,193.8 440.7,194.3 438.8,194.8 436.9,195.3 434.9,195.8 433.0,196.2 431.0,196.7 429.1,197.2 427.2,197.7 425.2,198.2 423.3,198.6 421.3,199.1 419.4,199.6 417.4,200.0 415.5,200.5 413.5,200.9 411.6,201.3 409.6,201.8 407.7,202.2 405.7,202.6 403.7,203.0 401.8,203.4 399.8,203.8 397.9,204.2 395.9,204.5 393.9,204.9 392.0,205.2 390.0,205.6 388.0,205.9 386.0,206.2 384.1,206.5 382.1,206.8 380.1,207.1 378.1,207.3 376.1,207.6 374.1,207.8 372.1,207.9 370.1,208.1 368.1,208.2 366.2,208.3 364.2,208.4 362.2,208.5 360.2,208.6 358.2,208.6 356.2,208.6 354.2,208.6 352.2,208.5 350.2,208.5 348.2,208.4 346.2,208.3 344.2,208.2 342.2,208.1 340.2,207.9 338.2,207.8 336.2,207.7 334.2,207.5 332.2,207.3 330.2,207.1 328.2,206.9 326.2,206.7 324.2,206.5 322.2,206.3 320.2,206.1 318.3,205.9 316.3,205.7 314.3,205.5 312.3,205.3 310.3,205.1 308.3,204.8 306.3,204.6 304.3,204.4 302.3,204.2 300.4,203.9 298.4,203.7 296.4,203.5 294.4,203.2 292.4,203.0 290.4,202.7 288.4,202.5 286.5,202.2 284.5,201.9 282.5,201.7 280.5,201.4 278.5,201.1 276.6,200.8 274.6,200.6 272.6,200.3 270.6,200.1 268.6,199.8 266.6,199.6 264.6,199.4 262.7,199.1 260.7,198.9 258.7,198.7 256.7,198.5 254.7,198.3 252.7,198.2 250.7,198.0 248.7,197.8 246.7,197.7 244.7,197.5 242.7,197.3 240.7,197.2 238.7,197.0 236.7,196.8 234.8,196.7 232.8,196.5 230.8,196.3 228.8,196.2 226.8,196.0 224.8,195.9 222.8,195.7 220.8,195.6 218.8,195.5 216.8,195.4 214.8,195.3 212.8,195.3 210.8,195.2 208.8,195.1 206.8,195.1 204.8,195.0 202.8,195.0 200.8,194.9 198.8,194.8 197.3,194.8" fill="none" stroke="#1e1e1e" stroke-width="2.0" stroke-linejoin="round"/>
<path d="M197.3,205.2 199.1,204.3 200.9,203.5 202.8,202.7 204.6,202.1 206.5,201.5 208.5,201.0 210.4,200.5 212.4,200.1 214.3,199.7 216.3,199.4 218.3,199.0 220.2,198.7 222.2,198.3 224.2,198.0 226.2,197.7 228.1,197.4 230.1,197.1 232.1,196.9 234.1,196.6 236.1,196.3 238.0,196.1 240.0,195.9 242.0,195.6 244.0,195.4 246.0,195.2 248.0,195.0 250.0,194.7 252.0,194.5 254.0,194.3 255.9,194.1 257.9,193.9 259.9,193.7 261.9,193.5 263.9,193.3 265.9,193.1 267.9,192.9 269.9,192.7 271.9,192.5 273.9,192.3 275.9,192.1 277.8,191.9 279.8,191.7 281.8,191.5 283.8,191.4 285.8,191.2 287.8,191.0 289.8,190.8 291.8,190.6 293.8,190.4 295.8,190.2 297.8,190.0 299.8,189.8 301.7,189.6 303.7,189.4 305.7,189.3 307.7,189.1 309.7,188.9 311.7,188.7 313.7,188.5 315.7,188.4 317.7,188.2 319.7,188.0 321.7,187.8 323.7,187.6 325.7,187.4 327.6,187.2 329.6,187.0 331.6,186.8 333.6,186.6 335.6,186.3 337.6,186.1 339.6,185.9 341.6,185.7 343.5,185.4 345.5,185.2 347.5,184.9 349.5,184.7 351.5,184.4 353.5,184.2 355.5,183.9 357.4,183.7 359.4,183.4 361.4,183.2 363.4,182.9 365.4,182.6 367.4,182.3 369.3,182.0 371.3,181.6 373.3,181.3 375.2,180.9 377.2,180.5 379.2,180.2 381.1,179.8 383.1,179.3 385.0,178.9 387.0,178.5 388.9,178.1 390.9,177.6 392.8,177.2 394.8,176.7 396.7,176.2 398.7,175.8 400.6,175.3 402.6,174.8 404.5,174.3 406.4,173.8 408.4,173.3 410.3,172.7 412.2,172.2 414.2,171.7 416.1,171.1 418.0,170.6 419.9,170.0 421.8,169.5 423.8,168.9 425.7,168.3 427.6,167.7 429.5,167.1 431.4,166.5 433.3,165.8 435.2,165.1 437.0,164.5 438.9,163.7 440.8,163.0 442.6,162.3 444.5,161.5 446.3,160.7 448.1,159.9 449.9,159.0 451.7,158.2 453.5,157.3 455.3,156.4 457.1,155.5 458.9,154.6 460.7,153.7 462.5,152.8 464.2,151.8 466.0,150.9 467.8,150.0 469.6,149.1 471.4,148.2 473.2,147.3 475.0,146.4 476.7,145.5 478.5,144.6 480.3,143.8 482.1,142.9 483.9,142.0 485.7,141.1 487.6,140.3 489.4,139.5 491.2,138.7 493.1,138.0 495.0,137.3 496.8,136.6 498.7,136.0 500.6,135.4 502.6,134.8 504.5,134.2 506.4,133.7 508.4,133.3 510.3,132.9 512.3,132.5 514.2,132.1 516.2,131.8 518.2,131.5 520.2,131.3 522.2,131.0 524.2,130.8 526.1,130.7 528.1,130.6 530.1,130.5 532.1,130.4 534.1,130.4 536.1,130.4 538.1,130.4 540.1,130.5 542.1,130.5 544.1,130.6 546.1,130.8 548.1,130.9 550.1,131.1 552.1,131.4 554.1,131.6 556.1,131.9 558.0,132.2 560.0,132.6 562.0,132.9 563.9,133.3 565.9,133.7 567.9,134.1 569.8,134.5 571.8,134.8 573.8,135.2 575.7,135.6 577.7,136.0 579.7,136.3 581.6,136.7 583.6,137.1 585.6,137.5 587.5,137.8 589.5,138.2 591.4,138.6 593.4,139.0 595.4,139.3 597.3,139.7 599.3,140.1 601.3,140.5 603.2,140.8 605.2,141.2 607.2,141.6 609.1,141.9 611.1,142.2 613.1,142.6 615.1,142.9 617.0,143.2 619.0,143.5 621.0,143.8 623.0,144.1 625.0,144.3 626.9,144.6 628.9,144.9 630.9,145.1 632.9,145.4 634.9,145.6 636.9,145.9 638.9,146.1 640.9,146.3 642.8,146.5 644.8,146.7 646.8,146.9 648.8,147.1 650.8,147.3 652.8,147.5 654.8,147.7 656.8,147.9 658.8,148.1 660.8,148.3 662.7,148.5 664.7,148.7 666.7,148.9 668.7,149.1 670.7,149.3 672.7,149.5 674.7,149.7 676.7,149.9 678.7,150.1 680.7,150.3 682.7,150.5 684.6,150.7 686.6,150.8 688.6,151.0 690.6,151.2 692.6,151.4 694.6,151.5 696.6,151.7 698.6,151.8 700.6,152.0 702.6,152.2 704.6,152.3 706.6,152.5 708.6,152.6 710.6,152.8 712.6,152.9 714.6,153.1 716.6,153.2 718.6,153.4 720.6,153.5 722.5,153.7 724.5,153.8 726.5,154.0 728.5,154.1 730.5,154.2 732.5,154.4 734.5,154.5 736.5,154.7 738.5,154.8 740.5,155.0 742.5,155.1 744.5,155.3 746.5,155.4 748.5,155.6 750.5,155.7 752.5,155.9 754.5,156.0 756.5,156.1 758.5,156.3 760.5,156.4 762.5,156.5 764.5,156.6 766.5,156.7 768.5,156.8 770.5,156.9 772.5,157.0 774.4,157.1 776.4,157.2 778.4,157.3 780.4,157.3 782.4,157.4 784.4,157.5 786.4,157.6 788.4,157.6 790.4,157.7 792.4,157.7 794.4,157.8 796.4,157.8 798.4,157.9 800.4,157.9 802.4,158.0 804.4,158.0 806.4,158.1 808.4,158.1 810.4,158.2 812.4,158.2 814.4,158.3 816.4,158.3 818.4,158.3 820.4,158.4 822.4,158.4 824.4,158.5 826.5,158.5 828.5,158.5 830.5,158.6 832.5,158.6 834.5,158.6 836.5,158.6 838.5,158.7 840.5,158.7 842.5,158.7 844.5,158.7 846.5,158.7 848.5,158.8 850.5,158.8 852.5,158.8 854.5,158.8 856.5,158.8 858.5,158.8 860.5,158.8 862.5,158.9 864.5,158.9 866.5,158.9 868.5,158.9 870.5,158.9 872.5,158.9 874.5,158.9 876.5,158.9 878.5,158.9 880.5,158.9 882.5,158.9 884.5,158.9 886.5,158.9 888.5,158.9 890.5,158.9 892.5,158.9 894.5,158.9 896.5,158.9 898.5,158.9 900.5,158.9 902.5,158.9 904.5,158.9 906.5,158.9 908.5,158.9 910.5,158.9 912.5,158.9 914.5,158.9 916.5,158.9 918.5,158.8 920.5,158.8 922.5,158.8 924.5,158.8 926.5,158.8 928.5,158.8 930.5,158.8 932.5,158.8 934.5,158.8 936.5,158.8 938.5,158.8 940.5,158.8 942.5,158.8 944.5,158.8 946.5,158.8 948.5,158.8 950.5,158.8 952.5,158.8 954.5,158.8 956.5,158.8 957.0,158.8" fill="none" stroke="#1e1e1e" stroke-width="2.0" stroke-linejoin="round"/>
<path d="M957.0,168.6 955.0,168.6 953.0,168.6 951.0,168.6 949.0,168.6 947.0,168.7 945.0,168.7 943.0,168.7 941.0,168.7 939.0,168.8 937.0,168.8 935.0,168.8 933.0,168.8 931.0,168.8 929.0,168.9 927.0,168.9 925.0,168.9 923.0,168.9 921.0,168.9 919.0,169.0 917.0,169.0 915.0,169.0 913.0,169.0 911.0,169.0 909.0,169.1 907.0,169.1 905.0,169.1 903.0,169.1 901.0,169.1 899.0,169.2 897.0,169.2 895.0,169.2 893.0,169.2 891.0,169.2 889.0,169.3 887.0,169.3 885.0,169.3 883.0,169.3 881.0,169.3 879.0,169.4 877.0,169.4 875.0,169.4 873.0,169.4 871.0,169.4 869.0,169.5 867.0,169.5 865.0,169.5 863.0,169.5 861.0,169.6 859.0,169.6 857.0,169.6 855.0,169.6 853.0,169.6 851.0,169.7 849.0,169.7 847.0,169.7 845.0,169.7 843.0,169.8 841.0,169.8 839.0,169.8 837.0,169.8 835.0,169.9 833.0,169.9 831.0,169.9 829.0,169.9 827.0,170.0 825.0,170.0 823.0,170.0 821.0,170.0 819.0,170.1 817.0,170.1 815.0,170.1 813.0,170.2 811.0,170.2 809.0,170.2 807.0,170.2 805.0,170.3 803.0,170.3 801.0,170.3 799.0,170.4 797.0,170.4 795.0,170.4 793.0,170.4 791.0,170.5 789.0,170.5 787.0,170.5 785.0,170.5 783.0,170.5 781.0,170.6 779.0,170.6 777.0,170.6 775.0,170.6 773.0,170.7 771.0,170.7 769.0,170.7 767.0,170.8 765.0,170.8 763.0,170.8 761.0,170.9 759.0,170.9 757.0,170.9 755.0,171.0 753.0,171.0 751.0,171.1 749.0,171.1 747.0,171.2 745.0,171.2 743.0,171.3 741.0,171.3 739.0,171.4 737.0,171.4 735.0,171.5 733.0,171.6 731.0,171.7 729.0,171.7 727.0,171.8 725.0,171.9 723.0,172.0 721.0,172.1 719.0,172.2 717.0,172.3 715.0,172.5 713.0,172.6 711.0,172.7 709.0,172.8 707.0,173.0 705.0,173.1 703.0,173.3 701.0,173.4 699.0,173.5 697.0,173.7 695.0,173.8 693.0,174.0 691.0,174.1 689.1,174.3 687.1,174.4 685.1,174.6 683.1,174.7 681.1,174.9 679.1,175.0 677.1,175.2 675.1,175.3 673.1,175.5 671.1,175.6 669.1,175.8 667.1,175.9 665.1,176.0 663.1,176.1 661.1,176.2 659.1,176.3 657.1,176.4 655.1,176.5 653.1,176.5 651.1,176.6 649.1,176.7 647.1,176.7 645.1,176.7 643.1,176.8 641.1,176.8 639.1,176.9 637.1,176.9 635.1,177.0 633.1,177.0 631.1,177.1 629.1,177.2 627.1,177.2 625.1,177.3 623.1,177.3 621.1,177.4 619.1,177.5 617.1,177.6 615.1,177.6 613.1,177.7 611.1,177.8 609.1,177.9 607.1,178.0 605.1,178.1 603.1,178.2 601.1,178.3 599.1,178.4 597.1,178.4 595.1,178.5 593.1,178.6 591.1,178.7 589.2,178.8 587.2,178.9 585.2,179.0 583.2,179.1 581.2,179.2 579.2,179.3 577.2,179.4 575.2,179.6 573.2,179.7 571.2,179.8 569.2,179.9 567.2,180.0 565.2,180.1 563.2,180.2 561.2,180.3 559.2,180.4 557.2,180.5 555.2,180.7 553.2,180.8 551.2,180.9 549.2,181.0 547.2,181.2 545.2,181.3 543.2,181.4 541.2,181.6 539.2,181.7 537.2,181.8 535.2,182.0 533.2,182.1 531.2,182.2 529.2,182.4 527.3,182.5 525.3,182.7 523.3,182.9 521.3,183.1 519.3,183.3 517.3,183.5 515.3,183.7 513.3,183.9 511.3,184.2 509.4,184.4 507.4,184.7 505.4,185.0 503.4,185.3 501.4,185.6 499.5,185.9 497.5,186.3 495.5,186.6 493.6,187.0 491.6,187.4 489.6,187.8 487.7,188.3 485.7,188.7 483.8,189.2 481.8,189.6 479.9,190.1 478.0,190.6 476.0,191.1 474.1,191.6 472.2,192.2 470.2,192.7 468.3,193.2 466.4,193.8 464.5,194.4 462.6,195.0 460.7,195.6 458.8,196.2 456.9,196.8 455.0,197.4 453.1,198.1 451.2,198.7 449.3,199.3 447.4,200.0 445.5,200.6 443.6,201.3 441.7,201.9 439.8,202.6 437.9,203.2 436.0,203.8 434.1,204.4 432.2,205.1 430.3,205.7 428.4,206.4 426.5,207.0 424.6,207.7 422.8,208.4 420.9,209.1 419.0,209.8 417.1,210.5 415.3,211.2 413.4,211.8 411.5,212.4 409.6,213.0 407.6,213.5 405.7,214.0 403.7,214.5 401.8,214.9 399.8,215.3 397.9,215.7 395.9,216.0 393.9,216.4 392.0,216.8 390.0,217.2 388.1,217.7 386.1,218.1 384.2,218.5 382.2,218.9 380.2,219.3 378.3,219.7 376.3,220.0 374.3,220.4 372.4,220.7 370.4,221.0 368.4,221.3 366.4,221.5 364.4,221.7 362.4,221.9 360.5,222.1 358.5,222.3 356.5,222.5 354.5,222.6 352.5,222.7 350.5,222.8 348.5,222.8 346.5,222.8 344.5,222.8 342.5,222.8 340.5,222.8 338.5,222.7 336.5,222.7 334.5,222.6 332.5,222.5 330.5,222.4 328.5,222.3 326.5,222.2 324.5,222.0 322.5,221.9 320.5,221.7 318.5,221.5 316.5,221.2 314.6,220.9 312.6,220.7 310.6,220.3 308.6,220.0 306.7,219.7 304.7,219.4 302.7,219.0 300.7,218.7 298.8,218.3 296.8,218.0 294.8,217.6 292.9,217.2 290.9,216.9 288.9,216.5 287.0,216.1 285.0,215.7 283.1,215.2 281.1,214.8 279.2,214.3 277.2,213.9 275.3,213.4 273.3,212.9 271.4,212.5 269.4,212.1 267.5,211.8 265.5,211.5 263.5,211.2 261.5,211.0 259.5,210.7 257.5,210.5 255.6,210.3 253.6,210.0 251.6,209.8 249.6,209.6 247.6,209.4 245.6,209.1 243.6,208.9 241.6,208.7 239.7,208.4 237.7,208.2 235.7,208.0 233.7,207.7 231.7,207.5 229.7,207.2 227.7,207.0 225.8,206.8 223.8,206.6 221.8,206.4 219.8,206.3 217.8,206.1 215.8,206.0 213.8,205.9 211.8,205.8 209.8,205.7 207.8,205.7 205.8,205.6 203.8,205.5 201.8,205.4 199.8,205.3 197.8,205.2 197.3,205.2" fill="none" stroke="#1e1e1e" stroke-width="2.0" stroke-linejoin="round"/>
<path d="M197.3,224.2 198.8,222.9 200.3,221.6 201.9,220.4 203.5,219.2 205.2,218.1 206.9,217.1 208.7,216.3 210.5,215.5 212.4,214.8 214.3,214.2 216.2,213.6 218.1,213.0 220.0,212.5 221.9,211.9 223.9,211.4 225.8,210.8 227.7,210.3 229.7,209.8 231.6,209.3 233.5,208.8 235.5,208.4 237.4,207.9 239.4,207.5 241.3,207.0 243.3,206.6 245.2,206.1 247.2,205.7 249.2,205.3 251.1,204.9 253.1,204.5 255.0,204.1 257.0,203.7 259.0,203.3 260.9,202.9 262.9,202.6 264.9,202.2 266.8,201.8 268.8,201.5 270.8,201.1 272.7,200.8 274.7,200.4 276.7,200.1 278.6,199.8 280.6,199.4 282.6,199.1 284.6,198.8 286.5,198.5 288.5,198.1 290.5,197.8 292.5,197.5 294.4,197.2 296.4,196.9 298.4,196.5 300.4,196.2 302.3,195.9 304.3,195.6 306.3,195.3 308.3,194.9 310.2,194.6 312.2,194.3 314.2,194.0 316.2,193.7 318.1,193.4 320.1,193.1 322.1,192.7 324.1,192.4 326.0,192.2 328.0,191.9 330.0,191.6 332.0,191.3 334.0,191.0 335.9,190.7 337.9,190.4 339.9,190.1 341.9,189.8 343.8,189.5 345.8,189.2 347.8,188.8 349.8,188.5 351.7,188.1 353.7,187.7 355.7,187.3 357.6,186.9 359.6,186.5 361.5,186.1 363.5,185.7 365.4,185.3 367.4,184.8 369.3,184.4 371.3,184.0 373.3,183.5 375.2,183.1 377.2,182.7 379.1,182.3 381.1,181.9 383.0,181.5 385.0,181.1 386.9,180.6 388.9,180.2 390.9,179.8 392.8,179.4 394.8,179.0 396.7,178.6 398.7,178.1 400.6,177.7 402.6,177.2 404.5,176.8 406.5,176.3 408.4,175.9 410.4,175.4 412.3,174.9 414.3,174.4 416.2,173.9 418.1,173.4 420.1,172.9 422.0,172.4 423.9,171.9 425.9,171.4 427.8,170.9 429.7,170.4 431.7,169.8 433.6,169.3 435.5,168.7 437.4,168.1 439.3,167.6 441.2,167.0 443.2,166.4 445.1,165.8 447.0,165.2 448.9,164.5 450.8,163.9 452.7,163.3 454.6,162.6 456.4,162.0 458.3,161.3 460.2,160.7 462.1,160.0 464.0,159.3 465.9,158.6 467.7,157.9 469.6,157.2 471.5,156.5 473.3,155.8 475.2,155.0 477.0,154.3 478.9,153.5 480.7,152.7 482.5,151.9 484.4,151.0 486.2,150.2 488.0,149.3 489.8,148.4 491.6,147.5 493.3,146.6 495.1,145.8 496.9,144.9 498.7,144.0 500.5,143.1 502.3,142.2 504.1,141.3 505.9,140.5 507.7,139.6 509.5,138.7 511.3,137.8 513.1,137.0 514.9,136.1 516.7,135.3 518.6,134.5 520.4,133.6 522.2,132.8 524.0,132.0 525.9,131.2 527.7,130.5 529.6,129.8 531.5,129.1 533.4,128.4 535.3,127.8 537.2,127.2 539.1,126.6 541.0,126.1 543.0,125.6 544.9,125.1 546.9,124.7 548.8,124.3 550.8,124.0 552.8,123.7 554.7,123.4 556.7,123.2 558.7,123.0 560.7,122.8 562.7,122.7 564.7,122.6 566.7,122.6 568.7,122.6 570.7,122.6 572.7,122.6 574.7,122.7 576.7,122.8 578.7,123.0 580.7,123.2 582.7,123.4 584.6,123.6 586.6,123.9 588.6,124.2 590.6,124.5 592.6,124.8 594.5,125.2 596.5,125.6 598.4,126.0 600.4,126.4 602.4,126.8 604.3,127.2 606.3,127.6 608.2,128.0 610.2,128.4 612.2,128.8 614.1,129.2 616.1,129.7 618.0,130.1 620.0,130.5 621.9,131.0 623.9,131.4 625.8,131.9 627.8,132.3 629.7,132.7 631.7,133.2 633.6,133.6 635.6,134.1 637.5,134.5 639.5,134.9 641.4,135.4 643.4,135.8 645.3,136.3 647.3,136.7 649.2,137.2 651.2,137.7 653.1,138.1 655.1,138.6 657.0,139.1 658.9,139.6 660.9,140.0 662.8,140.5 664.8,141.0 666.7,141.5 668.7,141.9 670.6,142.4 672.6,142.8 674.5,143.1 676.5,143.5 678.5,143.7 680.5,143.9 682.4,144.0 684.4,144.1 686.4,144.2 688.4,144.3 690.4,144.5 692.4,144.8 694.4,145.0 696.3,145.3 698.3,145.7 700.3,146.0 702.3,146.3 704.2,146.6 706.2,146.9 708.2,147.3 710.2,147.6 712.1,147.9 714.1,148.2 716.1,148.5 718.1,148.8 720.0,149.1 722.0,149.3 724.0,149.5 726.0,149.8 728.0,150.0 730.0,150.1 732.0,150.3 734.0,150.4 736.0,150.5 738.0,150.6 740.0,150.7 742.0,150.8 744.0,150.9 746.0,150.9 748.0,151.0 750.0,151.0 752.0,151.1 754.0,151.1 756.0,151.2 758.0,151.2 760.0,151.2 762.0,151.3 764.0,151.3 766.0,151.3 768.0,151.3 770.0,151.3 772.0,151.4 774.0,151.4 776.0,151.4 778.0,151.4 780.0,151.4 782.0,151.4 784.0,151.3 786.0,151.3 788.0,151.3 790.0,151.3 792.0,151.3 794.0,151.3 796.0,151.3 798.0,151.3 800.0,151.3 802.0,151.3 804.0,151.3 806.0,151.2 808.0,151.2 810.0,151.2 812.0,151.2 814.0,151.2 816.0,151.2 818.0,151.2 820.0,151.2 822.0,151.2 824.0,151.2 826.0,151.2 828.0,151.2 830.0,151.2 832.0,151.2 834.0,151.2 836.0,151.2 838.0,151.2 840.0,151.2 842.0,151.2 844.0,151.2 846.0,151.2 848.0,151.2 850.0,151.2 852.0,151.2 854.0,151.2 856.0,151.2 858.0,151.2 860.0,151.2 862.0,151.2 864.0,151.2 866.0,151.2 868.0,151.2 870.0,151.2 872.0,151.2 874.0,151.2 876.0,151.2 878.0,151.2 880.0,151.2 882.0,151.2 884.0,151.2 886.0,151.2 888.0,151.2 890.0,151.2 892.0,151.2 894.0,151.2 896.0,151.2 898.0,151.2 900.0,151.2 902.0,151.2 904.0,151.2 906.0,151.2 908.0,151.2 910.0,151.2 912.0,151.2 914.0,151.2 916.0,151.2 918.0,151.2 920.0,151.2 922.0,151.2 924.0,151.2 926.0,151.2 928.0,151.2 930.0,151.2 932.0,151.2 934.0,151.2 936.0,151.2 938.0,151.2 940.0,151.2 942.0,151.2 944.0,151.2 946.0,151.2 948.0,151.2 950.0,151.2 952.0,151.2 954.0,151.2 956.0,151.2 957.0,151.2" fill="none" stroke="#1e1e1e" stroke-width="2.0" stroke-linejoin="round"/>
<path d="M957.0,169.1 955.0,169.1 953.0,169.2 951.0,169.2 949.0,169.2 947.0,169.2 945.0,169.3 943.0,169.3 941.0,169.3 939.0,169.4 937.0,169.4 935.0,169.4 933.0,169.5 931.0,169.5 929.0,169.5 927.0,169.5 925.0,169.6 923.0,169.6 921.0,169.6 919.0,169.6 917.0,169.7 915.0,169.7 913.0,169.7 911.0,169.8 909.0,169.8 907.0,169.8 905.0,169.8 903.0,169.9 901.0,169.9 899.0,169.9 897.0,169.9 895.0,170.0 893.0,170.0 891.0,170.0 889.0,170.0 887.0,170.1 885.0,170.1 883.0,170.1 881.0,170.2 879.0,170.2 877.0,170.2 875.0,170.2 873.0,170.3 871.0,170.3 869.0,170.3 867.0,170.4 865.0,170.4 863.0,170.4 861.0,170.5 858.9,170.5 856.9,170.5 854.9,170.5 852.9,170.6 850.9,170.6 848.9,170.6 846.9,170.7 844.9,170.7 842.9,170.7 840.9,170.8 838.9,170.8 836.9,170.9 834.9,170.9 832.9,170.9 830.9,171.0 828.9,171.0 826.9,171.0 824.9,171.1 822.9,171.1 820.9,171.2 818.9,171.2 816.9,171.3 814.9,171.3 812.9,171.3 810.9,171.4 808.9,171.4 806.9,171.5 804.9,171.5 802.9,171.6 800.9,171.7 798.9,171.7 796.9,171.8 794.9,171.8 792.9,171.9 790.9,172.0 788.9,172.0 786.9,172.1 784.9,172.2 782.9,172.2 780.9,172.3 778.9,172.4 776.9,172.4 774.9,172.5 772.9,172.6 770.9,172.7 768.9,172.7 766.9,172.8 764.9,172.9 762.9,173.0 760.9,173.0 758.9,173.1 756.9,173.2 754.9,173.2 752.9,173.3 750.9,173.4 748.9,173.5 746.9,173.5 744.9,173.6 742.9,173.7 740.9,173.7 738.9,173.8 736.9,173.9 734.9,173.9 732.9,174.0 730.9,174.0 728.9,174.1 726.9,174.1 724.9,174.2 722.9,174.2 720.9,174.2 718.9,174.3 716.9,174.3 714.9,174.3 712.9,174.3 710.9,174.3 708.9,174.3 706.9,174.3 704.9,174.3 702.9,174.3 700.9,174.3 698.9,174.3 696.9,174.3 694.9,174.3 692.9,174.3 690.9,174.4 688.9,174.4 686.9,174.5 684.9,174.6 682.9,174.7 680.9,174.9 678.9,175.1 676.9,175.4 675.0,175.6 673.0,176.0 671.0,176.3 669.1,176.7 667.1,177.1 665.1,177.4 663.2,177.8 661.2,178.0 659.2,178.3 657.2,178.5 655.2,178.6 653.2,178.7 651.2,178.8 649.2,178.9 647.2,178.9 645.2,179.0 643.2,179.1 641.2,179.1 639.2,179.2 637.2,179.2 635.2,179.3 633.2,179.4 631.2,179.5 629.2,179.6 627.2,179.7 625.2,179.8 623.2,179.9 621.2,179.9 619.2,180.0 617.2,180.1 615.2,180.2 613.2,180.3 611.2,180.4 609.2,180.5 607.2,180.6 605.2,180.7 603.2,180.8 601.2,180.9 599.2,181.0 597.2,181.1 595.2,181.2 593.2,181.3 591.2,181.4 589.2,181.6 587.2,181.7 585.2,181.8 583.2,181.9 581.2,182.0 579.2,182.2 577.3,182.3 575.3,182.4 573.3,182.6 571.3,182.7 569.3,182.8 567.3,183.0 565.3,183.1 563.3,183.2 561.3,183.3 559.3,183.5 557.3,183.6 555.3,183.7 553.3,183.8 551.3,184.0 549.3,184.1 547.3,184.2 545.3,184.4 543.3,184.5 541.3,184.7 539.3,184.8 537.3,185.0 535.3,185.1 533.3,185.3 531.3,185.4 529.3,185.6 527.3,185.8 525.4,186.0 523.4,186.2 521.4,186.4 519.4,186.6 517.4,186.9 515.4,187.2 513.4,187.5 511.5,187.8 509.5,188.1 507.5,188.5 505.6,188.8 503.6,189.2 501.6,189.6 499.7,190.0 497.7,190.4 495.8,190.9 493.8,191.3 491.9,191.8 489.9,192.2 488.0,192.7 486.0,193.2 484.1,193.7 482.2,194.2 480.2,194.8 478.3,195.3 476.4,195.9 474.5,196.4 472.6,197.0 470.6,197.6 468.7,198.2 466.8,198.8 464.9,199.4 463.0,200.1 461.1,200.7 459.3,201.4 457.4,202.1 455.5,202.9 453.7,203.6 451.8,204.4 450.0,205.2 448.2,206.0 446.3,206.8 444.5,207.6 442.7,208.4 440.8,209.1 438.9,209.9 437.1,210.6 435.2,211.3 433.3,212.0 431.4,212.7 429.6,213.3 427.7,214.0 425.8,214.7 423.9,215.5 422.1,216.2 420.2,217.0 418.4,217.8 416.6,218.6 414.7,219.3 412.9,220.1 411.0,220.8 409.1,221.5 407.3,222.2 405.4,222.9 403.5,223.6 401.6,224.3 399.8,225.1 398.0,225.9 396.1,226.7 394.3,227.5 392.5,228.3 390.6,229.1 388.8,229.9 387.0,230.7 385.1,231.5 383.2,232.2 381.4,232.8 379.5,233.5 377.6,234.1 375.6,234.7 373.7,235.2 371.8,235.8 369.9,236.3 367.9,236.7 366.0,237.2 364.0,237.6 362.1,238.0 360.1,238.4 358.1,238.7 356.1,239.0 354.2,239.3 352.2,239.6 350.2,239.8 348.2,240.0 346.2,240.1 344.2,240.3 342.2,240.4 340.2,240.5 338.2,240.5 336.2,240.6 334.2,240.6 332.2,240.5 330.2,240.5 328.2,240.4 326.2,240.3 324.2,240.2 322.2,240.1 320.2,240.0 318.2,239.9 316.2,239.7 314.2,239.5 312.2,239.4 310.2,239.2 308.3,239.0 306.3,238.7 304.3,238.5 302.3,238.3 300.3,238.0 298.3,237.7 296.3,237.5 294.4,237.2 292.4,236.9 290.4,236.6 288.4,236.3 286.5,236.0 284.5,235.6 282.5,235.3 280.5,235.0 278.5,234.7 276.6,234.4 274.6,234.1 272.6,233.8 270.6,233.4 268.7,233.1 266.7,232.8 264.7,232.6 262.7,232.4 260.7,232.2 258.7,232.1 256.7,232.1 254.8,231.9 252.8,231.8 250.8,231.6 248.8,231.3 246.8,231.0 244.9,230.6 242.9,230.3 240.9,229.9 239.0,229.6 237.0,229.2 235.0,228.9 233.0,228.5 231.1,228.2 229.1,227.9 227.1,227.5 225.1,227.2 223.2,227.0 221.2,226.7 219.2,226.5 217.2,226.3 215.2,226.1 213.2,226.0 211.2,225.8 209.2,225.6 207.2,225.4 205.2,225.2 203.3,225.0 201.3,224.7 199.3,224.5 197.3,224.2" fill="none" stroke="#1e1e1e" stroke-width="2.0" stroke-linejoin="round"/>
<path d="M197.1,265.9 197.3,259.1 197.9,257.2 198.6,255.3 199.4,253.5 200.3,251.7 201.3,250.1 202.5,248.5 203.8,247.0 205.2,245.7 206.8,244.4 208.4,243.2 210.0,242.2 211.8,241.2 213.5,240.2 215.3,239.3 217.1,238.5 219.0,237.7 220.8,236.9 222.7,236.2 224.5,235.5 226.4,234.8 228.3,234.1 230.2,233.4 232.1,232.7 233.9,232.1 235.8,231.4 237.7,230.8 239.6,230.1 241.5,229.5 243.4,228.9 245.3,228.3 247.3,227.7 249.2,227.2 251.1,226.6 253.0,226.1 255.0,225.6 256.9,225.0 258.8,224.5 260.7,224.0 262.7,223.4 264.6,222.9 266.5,222.4 268.5,221.9 270.4,221.4 272.3,220.9 274.3,220.4 276.2,219.9 278.2,219.4 280.1,218.9 282.0,218.4 284.0,217.9 285.9,217.5 287.9,217.0 289.8,216.5 291.8,216.1 293.7,215.6 295.7,215.1 297.6,214.7 299.6,214.2 301.5,213.7 303.4,213.2 305.4,212.7 307.3,212.2 309.3,211.8 311.2,211.3 313.1,210.8 315.1,210.3 317.0,209.8 319.0,209.3 320.9,208.8 322.8,208.3 324.8,207.8 326.7,207.3 328.7,206.8 330.6,206.3 332.5,205.8 334.5,205.3 336.4,204.8 338.3,204.3 340.3,203.8 342.2,203.2 344.1,202.7 346.1,202.2 348.0,201.6 349.9,201.1 351.8,200.6 353.8,200.0 355.7,199.5 357.6,198.9 359.5,198.4 361.5,197.8 363.4,197.2 365.3,196.7 367.2,196.1 369.1,195.5 371.0,195.0 373.0,194.4 374.9,193.8 376.8,193.2 378.7,192.6 380.6,192.0 382.5,191.4 384.4,190.8 386.3,190.2 388.2,189.6 390.1,189.0 392.0,188.4 394.0,187.8 395.9,187.1 397.8,186.5 399.7,185.9 401.6,185.2 403.4,184.6 405.3,184.0 407.2,183.3 409.1,182.7 411.0,182.0 412.9,181.3 414.8,180.7 416.7,180.0 418.6,179.3 420.4,178.6 422.3,177.9 424.2,177.2 426.0,176.5 427.9,175.7 429.8,175.0 431.6,174.2 433.5,173.5 435.3,172.7 437.1,171.9 439.0,171.1 440.8,170.3 442.6,169.5 444.4,168.6 446.3,167.8 448.1,166.9 449.9,166.0 451.7,165.2 453.4,164.3 455.2,163.3 457.0,162.4 458.8,161.5 460.5,160.5 462.3,159.5 464.0,158.5 465.7,157.5 467.4,156.5 469.2,155.5 470.9,154.4 472.5,153.3 474.2,152.2 475.9,151.1 477.5,150.0 479.1,148.8 480.8,147.7 482.4,146.5 484.0,145.3 485.6,144.2 487.3,143.0 488.9,141.8 490.5,140.6 492.1,139.4 493.7,138.3 495.3,137.1 497.0,135.9 498.6,134.7 500.2,133.5 501.8,132.3 503.4,131.1 505.0,129.9 506.6,128.7 508.2,127.5 509.8,126.3 511.4,125.1 513.0,124.0 514.7,122.8 516.3,121.6 517.9,120.5 519.5,119.3 521.2,118.1 522.8,117.0 524.4,115.8 526.0,114.6 527.7,113.5 529.3,112.4 531.0,111.3 532.7,110.2 534.4,109.2 536.1,108.2 537.9,107.2 539.7,106.3 541.5,105.4 543.3,104.5 545.1,103.7 546.9,103.0 548.8,102.2 550.7,101.6 552.6,100.9 554.5,100.3 556.4,99.7 558.3,99.1 560.2,98.6 562.2,98.2 564.1,97.7 566.1,97.3 568.1,97.0 570.0,96.7 572.0,96.4 574.0,96.2 576.0,96.0 578.0,95.8 580.0,95.8 582.0,95.7 584.0,95.7 586.0,95.8 588.0,95.9 590.0,96.1 591.9,96.3 593.9,96.6 595.9,96.9 597.9,97.2 599.8,97.6 601.8,97.9 603.8,98.3 605.8,98.6 607.7,98.9 609.7,99.1 611.7,99.4 613.7,99.6 615.7,99.8 617.7,100.0 619.7,100.3 621.7,100.5 623.6,100.8 625.6,101.1 627.6,101.5 629.5,101.8 631.5,102.2 633.4,102.7 635.4,103.1 637.3,103.6 639.3,104.1 641.2,104.6 643.2,105.1 645.1,105.6 647.0,106.2 648.9,106.7 650.9,107.2 652.8,107.8 654.7,108.3 656.6,108.9 658.6,109.4 660.5,110.0 662.4,110.5 664.3,111.1 666.3,111.6 668.2,112.2 670.1,112.8 672.0,113.3 673.9,113.9 675.8,114.5 677.8,115.1 679.7,115.7 681.6,116.3 683.5,116.9 685.4,117.5 687.3,118.1 689.2,118.7 691.1,119.3 693.0,119.9 695.0,120.4 696.9,121.0 698.8,121.6 700.7,122.1 702.7,122.6 704.6,123.1 706.5,123.7 708.5,124.2 710.4,124.6 712.3,125.1 714.3,125.6 716.2,126.1 718.2,126.5 720.1,127.0 722.1,127.4 724.0,127.9 726.0,128.3 727.9,128.7 729.9,129.1 731.9,129.5 733.8,129.9 735.8,130.3 737.8,130.7 739.7,131.0 741.7,131.4 743.7,131.7 745.6,132.0 747.6,132.3 749.6,132.6 751.6,132.9 753.6,133.1 755.6,133.4 757.5,133.6 759.5,133.8 761.5,134.1 763.5,134.3 765.5,134.5 767.5,134.7 769.5,134.8 771.5,135.0 773.5,135.2 775.5,135.3 777.5,135.5 779.5,135.7 781.5,135.8 783.4,136.0 785.4,136.1 787.4,136.2 789.4,136.3 791.4,136.4 793.4,136.5 795.4,136.6 797.4,136.7 799.4,136.8 801.4,136.9 803.4,136.9 805.4,137.0 807.4,137.1 809.4,137.1 811.4,137.2 813.4,137.2 815.4,137.3 817.4,137.3 819.4,137.4 821.4,137.5 823.4,137.5 825.4,137.5 827.4,137.6 829.4,137.6 831.4,137.7 833.4,137.7 835.4,137.8 837.4,137.8 839.4,137.8 841.4,137.9 843.4,137.9 845.4,137.9 847.4,138.0 849.4,138.0 851.4,138.0 853.4,138.0 855.4,138.1 857.4,138.1 859.4,138.1 861.5,138.1 863.5,138.2 865.5,138.2 867.5,138.2 869.5,138.2 871.5,138.2 873.5,138.3 875.5,138.3 877.5,138.3 879.5,138.3 881.5,138.4 883.5,138.4 885.5,138.4 887.5,138.4 889.5,138.4 891.5,138.5 893.5,138.5 895.5,138.5 897.5,138.5 899.5,138.5 901.5,138.6 903.5,138.6 905.5,138.6 907.5,138.6 909.5,138.6 911.5,138.6 913.5,138.7 915.5,138.7 917.5,138.7 919.5,138.7 921.5,138.7 923.5,138.7 925.5,138.7 927.5,138.7 929.5,138.7 931.5,138.8 933.5,138.8 935.5,138.8 937.5,138.8 939.5,138.8 941.5,138.8 943.5,138.8 945.5,138.8 947.5,138.8 949.5,138.9 951.5,138.9 953.5,138.9 955.5,138.9 957.0,138.9" fill="none" stroke="#1e1e1e" stroke-width="2.0" stroke-linejoin="round"/>
<path d="M957.0,169.0 955.0,169.1 953.0,169.1 951.0,169.2 949.0,169.2 947.0,169.3 945.0,169.3 943.0,169.4 941.0,169.4 939.0,169.5 937.0,169.6 935.0,169.6 933.0,169.7 931.0,169.7 929.0,169.8 927.0,169.8 925.0,169.9 923.0,169.9 921.0,170.0 919.0,170.1 917.0,170.1 915.0,170.2 913.0,170.2 911.0,170.3 909.0,170.3 907.0,170.4 905.0,170.4 903.0,170.5 901.0,170.6 899.0,170.6 897.0,170.7 895.0,170.7 893.0,170.8 891.0,170.8 889.0,170.9 887.0,171.0 885.0,171.0 883.0,171.1 881.0,171.1 879.0,171.2 877.0,171.3 875.0,171.3 873.0,171.4 871.0,171.5 869.0,171.5 867.0,171.6 865.0,171.7 863.0,171.7 861.0,171.8 859.0,171.9 857.0,171.9 855.0,172.0 853.0,172.1 851.0,172.1 849.0,172.2 847.0,172.3 845.0,172.3 843.0,172.4 841.0,172.5 839.0,172.6 837.0,172.6 835.0,172.7 833.0,172.8 831.0,172.8 829.0,172.9 827.0,173.0 825.0,173.1 823.0,173.1 821.0,173.2 819.0,173.3 817.0,173.4 815.0,173.4 813.0,173.5 811.0,173.6 809.0,173.7 807.0,173.8 805.0,173.8 803.0,173.9 801.0,174.0 799.0,174.1 797.0,174.2 795.0,174.3 793.0,174.4 791.0,174.4 789.0,174.5 787.0,174.6 785.0,174.7 783.0,174.9 781.0,175.0 779.0,175.1 777.0,175.2 775.0,175.3 773.0,175.4 771.1,175.5 769.1,175.7 767.1,175.8 765.1,175.9 763.1,176.0 761.1,176.2 759.1,176.3 757.1,176.4 755.1,176.5 753.1,176.6 751.1,176.7 749.1,176.8 747.1,176.9 745.1,177.0 743.1,177.1 741.1,177.2 739.1,177.3 737.1,177.4 735.1,177.5 733.1,177.5 731.1,177.6 729.1,177.7 727.1,177.8 725.1,177.9 723.1,178.0 721.1,178.1 719.1,178.2 717.1,178.4 715.1,178.5 713.1,178.6 711.1,178.7 709.1,178.8 707.1,178.9 705.1,179.0 703.1,179.1 701.1,179.2 699.1,179.4 697.1,179.5 695.1,179.6 693.1,179.7 691.1,179.9 689.1,180.0 687.1,180.1 685.2,180.3 683.2,180.4 681.2,180.6 679.2,180.8 677.2,181.0 675.2,181.2 673.2,181.4 671.2,181.7 669.2,181.9 667.3,182.2 665.3,182.5 663.3,182.8 661.3,183.0 659.3,183.2 657.3,183.5 655.3,183.7 653.4,183.8 651.4,184.0 649.4,184.2 647.4,184.4 645.4,184.5 643.4,184.7 641.4,184.9 639.4,185.1 637.4,185.3 635.4,185.4 633.4,185.6 631.4,185.8 629.4,186.0 627.4,186.2 625.5,186.4 623.5,186.6 621.5,186.8 619.5,187.0 617.5,187.2 615.5,187.4 613.5,187.6 611.5,187.9 609.5,188.1 607.6,188.3 605.6,188.6 603.6,188.8 601.6,189.0 599.6,189.3 597.6,189.5 595.6,189.8 593.7,190.0 591.7,190.3 589.7,190.6 587.7,190.8 585.7,191.1 583.7,191.4 581.8,191.6 579.8,191.9 577.8,192.2 575.8,192.5 573.8,192.8 571.9,193.0 569.9,193.3 567.9,193.6 565.9,193.9 563.9,194.2 561.9,194.4 560.0,194.7 558.0,194.9 556.0,195.2 554.0,195.4 552.0,195.7 550.0,195.9 548.1,196.2 546.1,196.5 544.1,196.7 542.1,197.0 540.1,197.3 538.1,197.6 536.2,197.9 534.2,198.3 532.2,198.6 530.3,199.0 528.3,199.4 526.3,199.8 524.4,200.2 522.4,200.6 520.5,201.1 518.5,201.5 516.6,202.0 514.7,202.5 512.7,203.0 510.8,203.5 508.9,204.1 506.9,204.6 505.0,205.2 503.1,205.8 501.2,206.4 499.3,207.0 497.4,207.7 495.5,208.3 493.6,209.0 491.8,209.7 489.9,210.4 488.0,211.1 486.2,211.8 484.3,212.6 482.4,213.3 480.6,214.1 478.8,214.9 476.9,215.7 475.1,216.5 473.3,217.4 471.5,218.2 469.7,219.1 467.9,220.0 466.1,220.9 464.4,221.8 462.6,222.8 460.8,223.7 459.0,224.6 457.3,225.6 455.5,226.5 453.8,227.5 452.0,228.4 450.2,229.4 448.5,230.3 446.7,231.2 444.9,232.2 443.2,233.2 441.4,234.1 439.7,235.1 438.0,236.1 436.3,237.2 434.6,238.2 432.9,239.3 431.2,240.4 429.5,241.5 427.8,242.6 426.2,243.7 424.5,244.8 422.9,246.0 421.3,247.1 419.6,248.3 418.0,249.5 416.4,250.7 414.8,251.9 413.2,253.1 411.6,254.3 410.0,255.5 408.4,256.7 406.8,257.8 405.2,259.0 403.5,260.2 401.9,261.3 400.3,262.4 398.6,263.6 396.9,264.7 395.3,265.8 393.6,266.9 391.9,267.9 390.2,269.0 388.5,270.0 386.7,271.0 385.0,272.0 383.3,273.0 381.5,273.9 379.7,274.9 378.0,275.8 376.2,276.7 374.4,277.5 372.5,278.4 370.7,279.2 368.9,279.9 367.0,280.6 365.1,281.3 363.2,282.0 361.3,282.6 359.4,283.2 357.5,283.7 355.6,284.2 353.6,284.7 351.7,285.1 349.7,285.5 347.7,285.9 345.8,286.2 343.8,286.5 341.8,286.7 339.8,286.9 337.8,287.1 335.8,287.2 333.8,287.4 331.8,287.4 329.8,287.5 327.8,287.5 325.8,287.5 323.8,287.4 321.8,287.3 319.8,287.2 317.8,287.0 315.9,286.8 313.9,286.6 311.9,286.3 309.9,285.9 308.0,285.5 306.0,285.1 304.0,284.7 302.1,284.2 300.2,283.8 298.2,283.3 296.3,282.7 294.4,282.2 292.4,281.6 290.5,281.1 288.6,280.5 286.7,279.9 284.8,279.3 282.9,278.7 281.0,278.1 279.1,277.5 277.2,276.9 275.3,276.3 273.3,275.7 271.4,275.1 269.5,274.5 267.6,274.0 265.7,273.5 263.7,273.0 261.8,272.5 259.8,272.1 257.9,271.6 255.9,271.2 254.0,270.8 252.0,270.4 250.0,270.0 248.1,269.6 246.1,269.2 244.2,268.8 242.2,268.4 240.2,268.0 238.3,267.6 236.3,267.1 234.4,266.7 232.4,266.4 230.4,266.0 228.5,265.7 226.5,265.4 224.5,265.2 222.5,265.0 220.5,264.9 218.5,264.8 216.5,264.7 214.5,264.7 212.5,264.6 210.5,264.7 208.5,264.7 206.5,264.8 204.5,265.0 202.6,265.2 200.6,265.4 198.6,265.7 197.1,265.9" fill="none" stroke="#1e1e1e" stroke-width="2.0" stroke-linejoin="round"/>
<path d="M197.1,321.3 197.3,311.7 197.5,309.7 197.6,307.7 197.8,305.7 198.1,303.7 198.4,301.8 198.7,299.8 199.2,297.9 199.8,296.0 200.4,294.1 201.2,292.3 202.0,290.5 203.0,288.7 204.0,287.0 205.1,285.4 206.3,283.8 207.6,282.3 209.0,280.8 210.4,279.4 211.9,278.0 213.4,276.7 214.9,275.4 216.4,274.2 218.0,272.9 219.5,271.6 221.0,270.3 222.6,269.1 224.2,267.9 225.8,266.7 227.4,265.6 229.1,264.5 230.8,263.5 232.6,262.5 234.3,261.5 236.1,260.6 237.9,259.7 239.7,258.8 241.5,257.9 243.3,257.1 245.1,256.3 246.9,255.5 248.8,254.7 250.6,253.9 252.4,253.1 254.3,252.3 256.1,251.5 258.0,250.7 259.8,249.9 261.6,249.1 263.5,248.3 265.3,247.5 267.1,246.7 269.0,245.9 270.8,245.1 272.6,244.2 274.4,243.4 276.2,242.5 278.0,241.7 279.8,240.8 281.6,240.0 283.5,239.1 285.3,238.3 287.1,237.5 288.9,236.7 290.8,235.9 292.6,235.2 294.5,234.5 296.4,233.8 298.2,233.0 300.1,232.3 302.0,231.6 303.9,230.9 305.7,230.2 307.6,229.5 309.5,228.8 311.3,228.0 313.2,227.3 315.0,226.6 316.9,225.8 318.7,225.1 320.6,224.3 322.5,223.6 324.3,222.8 326.2,222.1 328.0,221.3 329.9,220.6 331.7,219.8 333.6,219.0 335.4,218.3 337.3,217.5 339.1,216.7 340.9,215.9 342.8,215.1 344.6,214.3 346.4,213.5 348.3,212.7 350.1,211.9 351.9,211.1 353.8,210.3 355.6,209.5 357.4,208.6 359.2,207.8 361.0,207.0 362.9,206.1 364.7,205.3 366.5,204.5 368.3,203.6 370.1,202.8 371.9,202.0 373.8,201.1 375.6,200.3 377.4,199.5 379.2,198.6 381.0,197.8 382.9,197.0 384.7,196.2 386.5,195.3 388.3,194.5 390.1,193.7 392.0,192.9 393.8,192.0 395.6,191.2 397.4,190.4 399.3,189.6 401.1,188.7 402.9,187.9 404.7,187.1 406.6,186.3 408.4,185.5 410.2,184.6 412.0,183.8 413.8,183.0 415.7,182.1 417.5,181.3 419.3,180.5 421.1,179.6 422.9,178.8 424.8,178.0 426.6,177.1 428.4,176.3 430.2,175.5 432.0,174.6 433.8,173.8 435.7,173.0 437.5,172.1 439.3,171.3 441.1,170.4 442.9,169.6 444.7,168.7 446.5,167.8 448.3,166.9 450.0,165.9 451.8,165.0 453.5,164.0 455.3,163.1 457.0,162.1 458.8,161.1 460.5,160.1 462.2,159.0 463.9,158.0 465.6,156.9 467.3,155.8 468.9,154.7 470.6,153.5 472.2,152.4 473.8,151.2 475.4,150.0 477.0,148.8 478.5,147.5 480.1,146.3 481.6,145.0 483.2,143.7 484.7,142.5 486.2,141.2 487.8,139.9 489.3,138.6 490.8,137.3 492.3,136.0 493.8,134.6 495.3,133.3 496.8,132.0 498.3,130.6 499.8,129.3 501.2,127.9 502.7,126.6 504.2,125.2 505.7,123.9 507.2,122.5 508.6,121.2 510.1,119.9 511.6,118.6 513.1,117.2 514.6,115.9 516.1,114.6 517.7,113.3 519.2,112.0 520.7,110.7 522.2,109.4 523.7,108.1 525.3,106.8 526.8,105.6 528.4,104.3 530.0,103.1 531.5,101.8 533.1,100.6 534.7,99.4 536.3,98.2 537.9,97.0 539.5,95.8 541.1,94.6 542.8,93.5 544.4,92.3 546.0,91.2 547.7,90.1 549.4,89.0 551.1,87.9 552.8,86.9 554.5,85.8 556.2,84.8 558.0,83.9 559.7,82.9 561.5,82.0 563.3,81.1 565.1,80.2 566.9,79.4 568.7,78.6 570.6,77.8 572.4,77.0 574.3,76.3 576.1,75.6 578.0,74.9 579.9,74.3 581.8,73.6 583.7,73.1 585.6,72.5 587.6,72.0 589.5,71.5 591.5,71.1 593.4,70.7 595.4,70.3 597.4,70.0 599.3,69.8 601.3,69.6 603.3,69.5 605.3,69.5 607.3,69.5 609.3,69.6 611.3,69.7 613.3,69.9 615.3,70.1 617.3,70.3 619.3,70.5 621.3,70.8 623.2,71.0 625.2,71.3 627.2,71.6 629.2,71.9 631.1,72.2 633.1,72.5 635.1,72.9 637.1,73.3 639.0,73.6 641.0,74.0 642.9,74.5 644.9,74.9 646.8,75.3 648.8,75.8 650.7,76.3 652.6,76.8 654.6,77.4 656.5,78.0 658.4,78.6 660.3,79.2 662.2,79.8 664.1,80.4 666.0,81.0 667.9,81.7 669.8,82.3 671.7,83.0 673.6,83.6 675.5,84.3 677.3,84.9 679.2,85.6 681.1,86.3 683.0,86.9 684.9,87.6 686.8,88.3 688.6,89.0 690.5,89.6 692.4,90.3 694.3,91.0 696.2,91.6 698.1,92.3 700.0,92.9 701.9,93.6 703.8,94.2 705.7,94.8 707.6,95.4 709.5,96.0 711.4,96.7 713.3,97.3 715.2,97.9 717.1,98.5 719.0,99.1 720.9,99.7 722.8,100.3 724.7,100.9 726.6,101.5 728.6,102.0 730.5,102.6 732.4,103.1 734.3,103.7 736.3,104.2 738.2,104.7 740.1,105.3 742.1,105.8 744.0,106.3 745.9,106.7 747.9,107.2 749.8,107.7 751.8,108.1 753.7,108.5 755.7,109.0 757.6,109.4 759.6,109.8 761.5,110.2 763.5,110.6 765.5,111.0 767.4,111.4 769.4,111.7 771.4,112.1 773.3,112.4 775.3,112.8 777.3,113.1 779.3,113.4 781.2,113.7 783.2,114.0 785.2,114.3 787.2,114.5 789.2,114.8 791.1,115.0 793.1,115.3 795.1,115.5 797.1,115.7 799.1,115.9 801.1,116.1 803.1,116.3 805.1,116.5 807.1,116.6 809.1,116.8 811.1,116.9 813.0,117.1 815.0,117.2 817.0,117.3 819.0,117.5 821.0,117.6 823.0,117.7 825.0,117.8 827.0,117.9 829.0,118.0 831.0,118.1 833.0,118.1 835.0,118.2 837.0,118.3 839.0,118.3 841.0,118.4 843.0,118.4 845.0,118.5 847.0,118.5 849.0,118.6 851.0,118.6 853.0,118.7 855.0,118.7 857.0,118.8 859.0,118.8 861.0,118.8 863.0,118.9 865.0,118.9 867.0,118.9 869.0,119.0 871.0,119.0 873.0,119.0 875.0,119.0 877.0,119.1 879.0,119.1 881.0,119.1 883.0,119.2 885.0,119.2 887.0,119.2 889.0,119.3 891.0,119.3 893.0,119.3 895.0,119.4 897.0,119.4 899.0,119.5 901.0,119.5 903.0,119.5 905.0,119.6 907.0,119.6 909.0,119.7 911.0,119.7 913.0,119.7 915.0,119.8 917.0,119.8 919.0,119.8 921.0,119.9 923.0,119.9 925.0,120.0 927.0,120.0 929.0,120.0 931.0,120.1 933.0,120.1 935.0,120.1 937.0,120.2 939.0,120.2 941.0,120.2 943.0,120.3 945.0,120.3 947.0,120.3 949.0,120.4 951.0,120.4 953.0,120.4 955.0,120.5 957.0,120.5" fill="none" stroke="#1e1e1e" stroke-width="2.0" stroke-linejoin="round"/>
<path d="M957.0,169.0 955.0,169.1 953.0,169.3 951.0,169.4 949.0,169.5 947.0,169.6 945.0,169.8 943.0,169.9 941.0,170.0 939.0,170.2 937.0,170.3 935.0,170.4 933.0,170.5 931.0,170.7 929.0,170.8 927.0,170.9 925.1,171.0 923.1,171.2 921.1,171.3 919.1,171.4 917.1,171.6 915.1,171.7 913.1,171.8 911.1,172.0 909.1,172.1 907.1,172.2 905.1,172.4 903.1,172.5 901.1,172.6 899.1,172.8 897.1,172.9 895.1,173.1 893.1,173.2 891.1,173.3 889.1,173.5 887.1,173.6 885.1,173.8 883.1,173.9 881.1,174.1 879.1,174.2 877.1,174.3 875.2,174.5 873.2,174.6 871.2,174.8 869.2,174.9 867.2,175.1 865.2,175.2 863.2,175.4 861.2,175.5 859.2,175.7 857.2,175.8 855.2,176.0 853.2,176.1 851.2,176.3 849.2,176.5 847.2,176.6 845.2,176.8 843.2,176.9 841.2,177.1 839.2,177.2 837.2,177.4 835.3,177.6 833.3,177.7 831.3,177.9 829.3,178.1 827.3,178.2 825.3,178.4 823.3,178.6 821.3,178.8 819.3,179.0 817.3,179.1 815.3,179.3 813.3,179.5 811.3,179.7 809.3,179.9 807.4,180.1 805.4,180.3 803.4,180.5 801.4,180.7 799.4,180.8 797.4,181.0 795.4,181.2 793.4,181.4 791.4,181.6 789.4,181.7 787.4,181.9 785.4,182.0 783.4,182.2 781.4,182.4 779.4,182.5 777.5,182.7 775.5,182.8 773.5,182.9 771.5,183.1 769.5,183.2 767.5,183.4 765.5,183.5 763.5,183.6 761.5,183.8 759.5,183.9 757.5,184.0 755.5,184.2 753.5,184.3 751.5,184.4 749.5,184.5 747.5,184.6 745.5,184.8 743.5,184.9 741.5,185.0 739.5,185.1 737.5,185.2 735.5,185.3 733.5,185.4 731.5,185.5 729.5,185.6 727.5,185.8 725.5,185.9 723.5,186.0 721.5,186.1 719.5,186.3 717.5,186.4 715.6,186.5 713.6,186.7 711.6,186.8 709.6,187.0 707.6,187.1 705.6,187.3 703.6,187.4 701.6,187.5 699.6,187.7 697.6,187.8 695.6,188.0 693.6,188.2 691.6,188.3 689.6,188.5 687.6,188.7 685.6,188.9 683.7,189.2 681.7,189.4 679.7,189.7 677.7,190.1 675.8,190.4 673.8,190.9 671.9,191.3 669.9,191.8 668.0,192.3 666.0,192.8 664.1,193.3 662.2,193.7 660.2,194.1 658.2,194.5 656.3,194.8 654.3,195.0 652.3,195.2 650.3,195.4 648.3,195.6 646.3,195.7 644.3,195.9 642.3,196.1 640.3,196.3 638.3,196.5 636.3,196.7 634.4,197.0 632.4,197.2 630.4,197.5 628.4,197.7 626.4,198.0 624.4,198.3 622.5,198.5 620.5,198.8 618.5,199.1 616.5,199.4 614.5,199.7 612.6,200.0 610.6,200.3 608.6,200.6 606.6,200.9 604.6,201.2 602.7,201.5 600.7,201.8 598.7,202.1 596.7,202.4 594.8,202.8 592.8,203.1 590.8,203.5 588.9,203.8 586.9,204.2 584.9,204.6 583.0,204.9 581.0,205.3 579.0,205.7 577.1,206.1 575.1,206.5 573.2,206.9 571.2,207.3 569.2,207.8 567.3,208.2 565.3,208.6 563.4,209.1 561.4,209.5 559.5,209.9 557.5,210.4 555.6,210.8 553.6,211.3 551.7,211.7 549.7,212.2 547.8,212.7 545.9,213.2 543.9,213.7 542.0,214.2 540.1,214.7 538.1,215.3 536.2,215.8 534.3,216.4 532.4,217.0 530.5,217.6 528.6,218.2 526.7,218.8 524.8,219.4 522.9,220.1 521.0,220.7 519.1,221.4 517.2,222.1 515.3,222.7 513.4,223.4 511.6,224.1 509.7,224.8 507.8,225.5 506.0,226.3 504.1,227.0 502.2,227.7 500.4,228.4 498.5,229.2 496.7,229.9 494.8,230.7 492.9,231.4 491.1,232.2 489.2,232.9 487.4,233.7 485.5,234.5 483.7,235.2 481.9,236.0 480.0,236.8 478.2,237.6 476.3,238.4 474.5,239.2 472.7,240.1 470.9,240.9 469.1,241.8 467.3,242.7 465.5,243.6 463.7,244.5 462.0,245.4 460.2,246.4 458.5,247.3 456.7,248.3 455.0,249.3 453.3,250.4 451.6,251.5 449.9,252.5 448.3,253.7 446.6,254.8 445.0,256.0 443.4,257.2 441.8,258.4 440.2,259.6 438.6,260.8 437.1,262.1 435.6,263.4 434.1,264.7 432.6,266.1 431.1,267.4 429.6,268.7 428.1,270.1 426.6,271.4 425.2,272.8 423.7,274.1 422.2,275.4 420.7,276.8 419.2,278.1 417.7,279.4 416.2,280.8 414.7,282.1 413.2,283.4 411.7,284.8 410.2,286.1 408.8,287.4 407.3,288.8 405.8,290.1 404.3,291.5 402.8,292.8 401.4,294.2 399.9,295.5 398.4,296.9 397.0,298.3 395.5,299.6 394.0,301.0 392.6,302.4 391.1,303.7 389.6,305.1 388.2,306.4 386.7,307.8 385.2,309.1 383.7,310.5 382.2,311.8 380.7,313.1 379.1,314.3 377.6,315.6 376.0,316.9 374.5,318.1 372.9,319.3 371.3,320.5 369.7,321.7 368.0,322.9 366.4,324.0 364.8,325.2 363.1,326.3 361.4,327.4 359.7,328.5 358.1,329.5 356.4,330.6 354.6,331.6 352.9,332.6 351.1,333.5 349.3,334.4 347.5,335.2 345.7,336.0 343.8,336.7 341.9,337.4 340.0,338.1 338.1,338.7 336.2,339.2 334.3,339.8 332.4,340.2 330.4,340.6 328.4,341.0 326.5,341.3 324.5,341.5 322.5,341.7 320.5,341.8 318.5,341.9 316.5,341.9 314.5,341.9 312.5,341.8 310.5,341.6 308.5,341.4 306.5,341.1 304.6,340.8 302.6,340.4 300.7,340.0 298.7,339.6 296.8,339.1 294.8,338.6 292.9,338.1 291.0,337.6 289.0,337.0 287.1,336.5 285.2,335.9 283.3,335.3 281.4,334.7 279.5,334.1 277.6,333.4 275.7,332.8 273.8,332.1 272.0,331.3 270.1,330.6 268.3,329.8 266.4,329.0 264.6,328.2 262.7,327.4 260.9,326.7 259.0,325.9 257.2,325.2 255.3,324.6 253.4,324.0 251.5,323.4 249.6,322.8 247.6,322.2 245.7,321.7 243.8,321.2 241.8,320.7 239.9,320.2 238.0,319.7 236.0,319.2 234.1,318.8 232.1,318.5 230.1,318.1 228.1,317.9 226.2,317.6 224.2,317.5 222.2,317.4 220.2,317.4 218.2,317.4 216.2,317.5 214.2,317.7 212.2,318.0 210.2,318.3 208.3,318.6 206.3,319.0 204.4,319.4 202.4,319.9 200.5,320.4 198.6,320.9 197.1,321.3" fill="none" stroke="#1e1e1e" stroke-width="2.0" stroke-linejoin="round"/>
<path d="M197.1,409.0 197.3,392.8 197.4,390.8 197.5,388.8 197.5,386.8 197.6,384.8 197.7,382.8 197.8,380.8 197.9,378.8 198.1,376.8 198.2,374.8 198.4,372.8 198.6,370.8 198.8,368.9 199.0,366.9 199.3,364.9 199.7,362.9 200.0,361.0 200.4,359.0 200.9,357.1 201.4,355.1 201.9,353.2 202.5,351.3 203.1,349.4 203.7,347.5 204.4,345.6 205.2,343.7 205.9,341.9 206.8,340.1 207.7,338.3 208.6,336.5 209.6,334.8 210.6,333.1 211.7,331.4 212.8,329.7 213.9,328.1 215.1,326.5 216.3,324.9 217.5,323.3 218.8,321.8 220.1,320.2 221.4,318.7 222.7,317.2 224.0,315.7 225.3,314.2 226.7,312.7 228.0,311.2 229.4,309.7 230.7,308.3 232.1,306.8 233.5,305.4 234.9,304.0 236.4,302.6 237.8,301.2 239.2,299.8 240.7,298.4 242.1,297.1 243.6,295.7 245.0,294.3 246.5,292.9 248.0,291.6 249.4,290.2 250.8,288.8 252.3,287.4 253.7,286.0 255.2,284.7 256.6,283.3 258.1,281.9 259.6,280.5 261.0,279.2 262.5,277.8 264.0,276.5 265.5,275.1 266.9,273.8 268.4,272.5 269.9,271.2 271.5,269.8 273.0,268.5 274.5,267.2 276.0,266.0 277.6,264.7 279.1,263.4 280.6,262.1 282.2,260.9 283.8,259.6 285.3,258.4 286.9,257.2 288.5,256.0 290.1,254.7 291.7,253.5 293.3,252.4 294.9,251.2 296.5,250.0 298.2,248.8 299.8,247.7 301.4,246.5 303.1,245.4 304.7,244.2 306.4,243.1 308.0,242.0 309.7,240.8 311.3,239.7 313.0,238.6 314.7,237.5 316.3,236.4 318.0,235.3 319.6,234.2 321.3,233.0 323.0,231.9 324.6,230.8 326.3,229.7 328.0,228.6 329.6,227.5 331.3,226.4 333.0,225.4 334.7,224.3 336.4,223.2 338.1,222.1 339.8,221.1 341.4,220.0 343.1,218.9 344.9,217.9 346.6,216.9 348.3,215.8 350.0,214.8 351.7,213.8 353.5,212.8 355.2,211.9 357.0,210.9 358.8,210.0 360.5,209.0 362.3,208.1 364.0,207.1 365.8,206.1 367.5,205.1 369.2,204.0 370.8,202.9 372.5,201.8 374.1,200.7 375.8,199.5 377.4,198.3 379.0,197.1 380.6,195.9 382.2,194.7 383.8,193.6 385.4,192.4 387.1,191.2 388.7,190.1 390.4,189.0 392.0,187.9 393.7,186.8 395.4,185.8 397.2,184.8 398.9,183.7 400.6,182.7 402.3,181.8 404.1,180.8 405.8,179.8 407.6,178.8 409.4,177.9 411.1,176.9 412.9,176.0 414.7,175.1 416.4,174.1 418.2,173.2 420.0,172.3 421.8,171.4 423.6,170.5 425.4,169.7 427.2,168.8 429.0,168.0 430.8,167.2 432.7,166.4 434.5,165.6 436.3,164.8 438.2,164.1 440.1,163.3 441.9,162.6 443.8,161.9 445.7,161.2 447.5,160.5 449.4,159.8 451.3,159.1 453.2,158.4 455.1,157.8 457.0,157.1 458.9,156.5 460.7,155.8 462.6,155.1 464.5,154.4 466.3,153.6 468.1,152.8 469.9,151.9 471.7,151.0 473.4,150.0 475.1,148.9 476.8,147.9 478.5,146.8 480.2,145.7 481.8,144.6 483.5,143.4 485.1,142.3 486.7,141.1 488.4,140.0 490.0,138.8 491.6,137.6 493.2,136.4 494.7,135.1 496.3,133.9 497.9,132.7 499.4,131.4 501.0,130.1 502.5,128.9 504.1,127.6 505.6,126.3 507.2,125.0 508.7,123.8 510.2,122.5 511.7,121.2 513.3,119.9 514.8,118.6 516.3,117.3 517.8,116.0 519.3,114.7 520.8,113.3 522.4,112.0 523.9,110.7 525.4,109.4 526.9,108.1 528.4,106.8 529.9,105.4 531.4,104.1 532.9,102.8 534.4,101.5 535.8,100.1 537.3,98.8 538.8,97.4 540.3,96.1 541.8,94.7 543.2,93.4 544.7,92.0 546.1,90.6 547.6,89.3 549.1,87.9 550.5,86.6 552.0,85.2 553.5,83.8 554.9,82.5 556.4,81.1 557.9,79.8 559.4,78.4 560.8,77.0 562.3,75.7 563.8,74.3 565.3,73.0 566.7,71.6 568.2,70.3 569.7,69.0 571.2,67.6 572.7,66.3 574.2,65.0 575.7,63.6 577.2,62.3 578.7,61.0 580.2,59.7 581.7,58.4 583.3,57.1 584.8,55.9 586.4,54.7 588.0,53.4 589.6,52.2 591.2,51.1 592.8,49.9 594.5,48.8 596.1,47.6 597.8,46.5 599.4,45.3 601.0,44.2 602.7,43.1 604.4,42.0 606.1,40.9 607.8,39.9 609.6,39.0 611.4,38.1 613.2,37.3 615.0,36.5 616.9,35.8 618.8,35.1 620.6,34.4 622.5,33.8 624.5,33.3 626.4,32.8 628.3,32.3 630.3,31.9 632.3,31.5 634.2,31.2 636.2,31.0 638.2,30.8 640.2,30.6 642.2,30.5 644.2,30.4 646.2,30.4 648.2,30.3 650.2,30.3 652.2,30.4 654.2,30.4 656.2,30.5 658.2,30.7 660.2,30.8 662.2,31.0 664.1,31.3 666.1,31.5 668.1,31.8 670.1,32.2 672.0,32.6 674.0,33.0 675.9,33.5 677.9,34.0 679.8,34.5 681.7,35.0 683.7,35.6 685.6,36.1 687.5,36.7 689.4,37.3 691.3,37.9 693.2,38.6 695.1,39.2 697.0,39.9 698.8,40.6 700.7,41.3 702.6,42.1 704.4,42.8 706.2,43.7 708.0,44.5 709.8,45.4 711.6,46.3 713.4,47.2 715.2,48.1 717.0,49.0 718.7,49.9 720.5,50.8 722.3,51.7 724.1,52.6 725.9,53.5 727.7,54.3 729.6,55.1 731.4,55.9 733.2,56.7 735.0,57.5 736.9,58.3 738.7,59.1 740.6,59.9 742.4,60.7 744.2,61.5 746.1,62.2 747.9,63.0 749.8,63.8 751.6,64.5 753.5,65.3 755.4,66.0 757.2,66.7 759.1,67.4 761.0,68.1 762.9,68.8 764.8,69.4 766.7,70.0 768.6,70.7 770.5,71.3 772.4,71.8 774.3,72.4 776.2,73.0 778.1,73.5 780.1,74.0 782.0,74.5 784.0,75.0 785.9,75.4 787.9,75.8 789.8,76.2 791.8,76.6 793.8,77.0 795.7,77.3 797.7,77.7 799.7,78.0 801.7,78.3 803.6,78.5 805.6,78.8 807.6,79.0 809.6,79.2 811.6,79.4 813.6,79.5 815.6,79.7 817.6,79.8 819.6,80.0 821.6,80.1 823.6,80.2 825.6,80.3 827.6,80.4 829.6,80.5 831.6,80.6 833.6,80.6 835.6,80.7 837.6,80.8 839.6,80.8 841.6,80.9 843.5,81.0 845.5,81.0 847.5,81.1 849.5,81.2 851.5,81.3 853.5,81.4 855.5,81.4 857.5,81.5 859.5,81.6 861.5,81.7 863.5,81.8 865.5,81.9 867.5,82.0 869.5,82.0 871.5,82.1 873.5,82.2 875.5,82.3 877.5,82.4 879.5,82.5 881.5,82.5 883.5,82.6 885.5,82.7 887.5,82.8 889.5,82.9 891.5,82.9 893.5,83.0 895.5,83.1 897.5,83.2 899.5,83.2 901.5,83.3 903.5,83.4 905.5,83.4 907.5,83.5 909.5,83.6 911.5,83.6 913.5,83.7 915.5,83.8 917.5,83.8 919.5,83.9 921.5,83.9 923.5,84.0 925.5,84.1 927.5,84.1 929.5,84.2 931.5,84.2 933.5,84.3 935.5,84.4 937.5,84.4 939.5,84.5 941.5,84.5 943.5,84.6 945.5,84.7 947.5,84.7 949.5,84.8 951.5,84.8 953.5,84.9 955.5,85.0 957.0,85.0" fill="none" stroke="#1e1e1e" stroke-width="2.0" stroke-linejoin="round"/>
<path d="M957.0,169.0 957.0,180.6 955.0,180.8 953.0,180.9 951.0,181.1 949.0,181.2 947.0,181.4 945.0,181.6 943.0,181.7 941.0,181.9 939.0,182.1 937.1,182.2 935.1,182.4 933.1,182.6 931.1,182.8 929.1,182.9 927.1,183.1 925.1,183.3 923.1,183.5 921.1,183.7 919.1,183.9 917.1,184.1 915.1,184.3 913.1,184.5 911.2,184.7 909.2,184.9 907.2,185.1 905.2,185.3 903.2,185.5 901.2,185.7 899.2,185.9 897.2,186.1 895.2,186.4 893.3,186.6 891.3,186.9 889.3,187.1 887.3,187.4 885.3,187.7 883.3,187.9 881.4,188.2 879.4,188.5 877.4,188.8 875.4,189.0 873.4,189.3 871.4,189.6 869.5,189.9 867.5,190.2 865.5,190.4 863.5,190.7 861.5,191.0 859.5,191.2 857.6,191.5 855.6,191.8 853.6,192.0 851.6,192.3 849.6,192.5 847.6,192.8 845.7,193.0 843.7,193.3 841.7,193.5 839.7,193.7 837.7,194.0 835.7,194.2 833.7,194.5 831.7,194.7 829.8,194.9 827.8,195.1 825.8,195.4 823.8,195.6 821.8,195.8 819.8,196.0 817.8,196.2 815.8,196.4 813.8,196.6 811.8,196.8 809.9,197.0 807.9,197.1 805.9,197.3 803.9,197.5 801.9,197.6 799.9,197.8 797.9,198.0 795.9,198.2 793.9,198.3 791.9,198.5 789.9,198.7 787.9,198.9 785.9,199.1 783.9,199.3 782.0,199.5 780.0,199.7 778.0,199.9 776.0,200.0 774.0,200.2 772.0,200.4 770.0,200.6 768.0,200.9 766.0,201.1 764.0,201.3 762.0,201.5 760.0,201.7 758.1,201.9 756.1,202.1 754.1,202.3 752.1,202.5 750.1,202.7 748.1,202.9 746.1,203.1 744.1,203.4 742.1,203.6 740.2,203.8 738.2,204.0 736.2,204.2 734.2,204.5 732.2,204.7 730.2,204.9 728.2,205.1 726.2,205.3 724.2,205.6 722.3,205.8 720.3,206.0 718.3,206.3 716.3,206.5 714.3,206.7 712.3,207.0 710.3,207.2 708.3,207.4 706.4,207.7 704.4,207.9 702.4,208.1 700.4,208.4 698.4,208.6 696.4,208.8 694.4,209.1 692.4,209.3 690.5,209.6 688.5,209.8 686.5,210.1 684.5,210.3 682.5,210.6 680.5,210.9 678.6,211.2 676.6,211.5 674.6,211.8 672.6,212.1 670.7,212.4 668.7,212.8 666.7,213.1 664.7,213.5 662.8,213.8 660.8,214.1 658.8,214.5 656.9,214.8 654.9,215.1 652.9,215.4 650.9,215.7 648.9,216.1 647.0,216.4 645.0,216.7 643.0,217.0 641.1,217.4 639.1,217.7 637.1,218.1 635.1,218.5 633.2,218.8 631.2,219.2 629.3,219.6 627.3,220.0 625.3,220.4 623.4,220.8 621.4,221.2 619.5,221.6 617.5,222.0 615.5,222.4 613.6,222.8 611.6,223.2 609.6,223.6 607.7,224.0 605.7,224.4 603.8,224.9 601.8,225.3 599.9,225.8 597.9,226.2 596.0,226.7 594.0,227.2 592.1,227.7 590.2,228.2 588.2,228.7 586.3,229.3 584.4,229.8 582.5,230.3 580.5,230.9 578.6,231.4 576.7,232.0 574.8,232.5 572.8,233.1 570.9,233.6 569.0,234.2 567.1,234.7 565.1,235.3 563.2,235.8 561.3,236.4 559.4,236.9 557.4,237.5 555.5,238.0 553.6,238.6 551.7,239.2 549.8,239.7 547.9,240.3 545.9,240.9 544.0,241.5 542.1,242.1 540.2,242.8 538.3,243.4 536.5,244.1 534.6,244.8 532.7,245.5 530.8,246.2 529.0,246.9 527.1,247.6 525.2,248.4 523.4,249.1 521.5,249.9 519.7,250.7 517.9,251.4 516.0,252.2 514.2,253.1 512.4,253.9 510.5,254.7 508.7,255.6 506.9,256.4 505.1,257.3 503.3,258.2 501.5,259.1 499.8,260.0 498.0,260.9 496.2,261.8 494.4,262.6 492.6,263.5 490.7,264.3 488.9,265.1 487.1,265.9 485.2,266.7 483.4,267.5 481.6,268.3 479.8,269.2 478.0,270.0 476.2,270.9 474.4,271.9 472.7,272.9 470.9,273.8 469.2,274.9 467.5,275.9 465.8,276.9 464.1,278.0 462.4,279.1 460.7,280.1 459.0,281.2 457.4,282.3 455.7,283.4 454.0,284.6 452.4,285.7 450.7,286.8 449.1,288.0 447.5,289.1 445.8,290.3 444.2,291.4 442.6,292.6 441.0,293.8 439.4,295.0 437.8,296.2 436.2,297.4 434.6,298.7 433.1,299.9 431.5,301.2 429.9,302.4 428.4,303.7 426.8,304.9 425.3,306.2 423.7,307.5 422.2,308.7 420.6,310.0 419.0,311.2 417.5,312.5 415.9,313.7 414.4,315.0 412.8,316.2 411.3,317.5 409.7,318.8 408.2,320.1 406.6,321.4 405.1,322.7 403.6,324.0 402.1,325.3 400.6,326.6 399.2,328.0 397.7,329.4 396.2,330.7 394.8,332.1 393.4,333.5 392.0,335.0 390.6,336.4 389.2,337.8 387.9,339.3 386.5,340.8 385.2,342.3 383.9,343.8 382.6,345.4 381.3,346.9 380.1,348.5 378.8,350.0 377.6,351.6 376.3,353.2 375.1,354.7 373.9,356.3 372.7,357.9 371.5,359.5 370.3,361.1 369.1,362.7 367.8,364.2 366.5,365.8 365.2,367.3 363.9,368.8 362.5,370.3 361.1,371.7 359.7,373.1 358.3,374.5 356.9,375.9 355.4,377.3 354.0,378.7 352.5,380.0 351.0,381.4 349.5,382.7 348.0,384.0 346.5,385.3 344.9,386.6 343.4,387.8 341.8,389.1 340.2,390.3 338.6,391.5 337.0,392.7 335.4,393.8 333.7,394.9 332.0,396.0 330.3,397.1 328.6,398.2 326.9,399.2 325.2,400.2 323.4,401.1 321.7,402.1 319.9,403.0 318.1,403.8 316.2,404.6 314.4,405.4 312.6,406.2 310.7,406.9 308.8,407.5 306.9,408.2 305.0,408.8 303.1,409.4 301.2,409.9 299.2,410.4 297.3,410.8 295.3,411.2 293.3,411.6 291.4,411.8 289.4,412.1 287.4,412.2 285.4,412.4 283.4,412.4 281.4,412.4 279.4,412.4 277.4,412.4 275.4,412.2 273.4,412.1 271.4,412.0 269.4,411.8 267.4,411.6 265.4,411.4 263.5,411.1 261.5,410.9 259.5,410.6 257.5,410.3 255.5,410.1 253.5,409.8 251.6,409.5 249.6,409.2 247.6,408.9 245.6,408.6 243.6,408.3 241.7,408.0 239.7,407.7 237.7,407.4 235.7,407.1 233.7,406.8 231.8,406.6 229.8,406.3 227.8,406.1 225.8,405.9 223.8,405.8 221.8,405.7 219.8,405.7 217.8,405.8 215.8,405.9 213.8,406.0 211.8,406.2 209.9,406.5 207.9,406.8 205.9,407.1 203.9,407.5 202.0,407.9 200.0,408.3 198.1,408.8 197.1,409.0" fill="none" stroke="#1e1e1e" stroke-width="2.0" stroke-linejoin="round"/>
<path d="M849.9,81.2L824.1,87.4L827.9,80.3L824.7,73.0Z" fill="#000"/>
<path d="M377.3,353.2L386.7,328.4L390.4,335.5L398.3,337.0Z" fill="#000"/>
<line x1="538.8" y1="280.8" x2="466" y2="353.8" stroke="#000" stroke-width="2"/>
<path d="M456.5,363.5L466.9,344.2L469.2,350.7L475.7,353.0Z" fill="#000"/>
</svg>
</body></html>
